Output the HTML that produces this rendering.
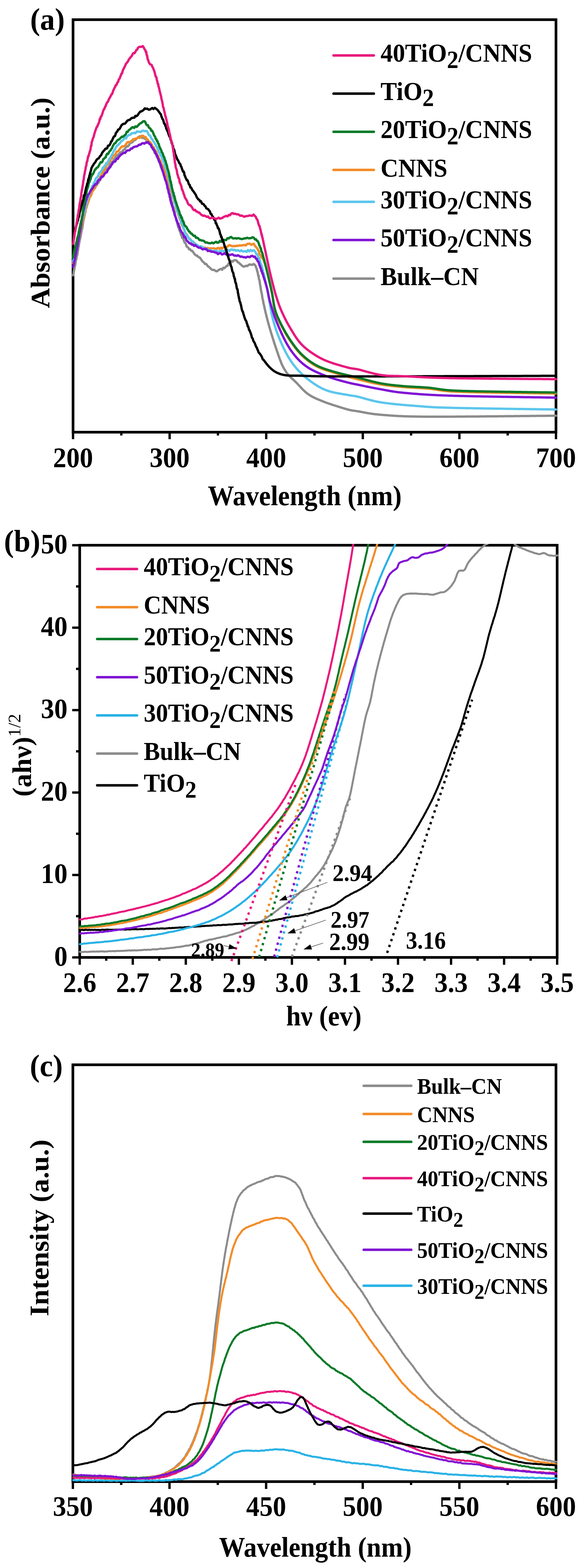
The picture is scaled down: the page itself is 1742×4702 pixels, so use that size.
<!DOCTYPE html>
<html><head><meta charset="utf-8"><title>Figure</title>
<style>html,body{margin:0;padding:0;background:#fff;}svg{display:block;}</style>
</head><body>
<svg width="1742" height="4702" viewBox="0 0 1742 4702" font-family="'Liberation Serif', 'Times New Roman', serif">
<rect width="1742" height="4702" fill="#fff"/>
<defs><clipPath id="ca"><rect x="215" y="55" width="1456" height="1245"/></clipPath><clipPath id="cb"><rect x="235" y="1631" width="1439.5" height="1244"/></clipPath><clipPath id="cb2"><rect x="239" y="1634" width="1431.5" height="1256"/></clipPath><clipPath id="cc"><rect x="214.5" y="3189" width="1456.5" height="1258"/></clipPath></defs>
<rect x="219" y="59" width="1448" height="1237" fill="none" stroke="#000" stroke-width="8"/>
<polyline points="219.0,825.8 219.8,822.4 220.6,820.3 221.3,814.0 222.1,810.3 222.9,806.8 223.7,800.8 224.5,798.5 225.3,795.2 226.0,792.1 226.8,784.5 227.6,781.7 228.4,776.7 229.1,776.5 229.9,771.9 230.7,764.6 231.4,765.5 232.2,761.5 232.9,756.0 233.7,751.8 234.4,745.5 235.1,740.8 235.9,739.5 236.6,733.2 237.3,729.9 238.0,726.2 238.7,721.2 239.5,719.5 240.2,715.4 240.9,713.6 241.6,707.9 242.4,704.6 243.1,699.9 243.9,696.8 244.6,691.8 245.4,687.0 246.1,686.8 246.8,682.8 247.6,678.1 248.3,673.4 249.0,667.4 249.8,663.1 250.5,659.4 251.3,654.3 252.0,654.0 252.8,648.2 253.6,646.6 254.4,640.3 255.2,639.3 256.1,634.8 257.0,626.5 258.0,623.7 259.0,623.5 260.1,617.3 261.2,616.1 262.4,609.3 263.7,603.8 265.0,602.9 266.4,599.9 267.9,593.5 269.4,588.9 271.0,586.5 272.7,586.1 274.5,581.5 276.4,574.6 278.4,571.8 280.5,567.6 282.7,564.0 284.8,564.5 287.0,557.9 289.2,556.5 291.4,552.6 293.6,547.9 295.8,547.3 298.0,540.9 300.3,540.2 302.5,534.1 304.7,532.4 307.0,528.0 309.2,524.9 311.4,525.3 313.6,521.0 315.8,515.1 318.0,514.7 320.2,507.9 322.5,505.5 324.7,504.6 327.0,500.1 329.3,494.0 331.6,495.4 333.9,488.1 336.3,485.1 338.7,484.6 341.2,479.1 343.7,475.8 346.2,471.5 348.8,468.6 351.5,468.1 354.2,463.4 357.0,462.4 359.9,458.5 362.8,456.2 365.8,456.1 368.7,450.9 371.7,448.6 374.6,447.4 377.5,441.0 380.4,438.1 383.3,439.2 386.2,436.0 389.1,430.3 392.0,427.2 395.0,427.4 397.9,425.7 401.0,419.2 404.1,420.6 407.3,418.0 410.8,414.5 414.4,411.9 418.3,409.1 422.3,408.5 426.2,413.8 430.0,411.4 433.4,415.9 436.6,416.0 439.6,421.6 442.4,423.4 445.0,424.8 447.5,427.3 449.8,433.4 452.1,433.4 454.2,437.6 456.3,442.7 458.2,447.8 460.1,450.1 461.9,451.9 463.7,458.8 465.4,458.7 467.2,461.4 468.8,466.3 470.5,470.9 472.2,472.5 473.9,476.8 475.5,481.4 477.1,486.2 478.7,487.6 480.3,492.5 481.8,498.9 483.3,503.1 484.7,505.2 486.1,509.1 487.5,512.3 488.8,513.8 490.2,517.0 491.5,520.7 492.7,529.2 494.0,531.9 495.2,537.1 496.4,536.0 497.6,543.0 498.8,546.1 500.0,551.2 501.1,552.9 502.2,560.3 503.3,559.3 504.4,565.7 505.5,570.5 506.5,575.2 507.6,578.3 508.6,582.0 509.6,586.3 510.7,590.8 511.7,591.8 512.7,597.4 513.7,602.4 514.8,606.1 515.8,607.6 516.9,613.4 517.9,617.7 518.9,620.0 520.0,624.2 521.0,626.8 522.0,631.7 523.1,635.7 524.1,636.9 525.1,643.6 526.1,649.4 527.1,652.7 528.1,655.8 529.0,657.9 530.0,663.6 530.9,666.7 531.8,669.9 532.8,675.8 533.9,675.8 535.0,683.1 536.3,683.1 537.6,689.9 539.0,693.0 540.4,695.5 541.9,701.6 543.4,704.3 544.9,708.6 546.5,713.9 548.1,714.1 549.8,716.5 551.5,721.6 553.3,727.2 555.2,728.2 557.2,731.5 559.4,738.7 561.8,740.7 564.4,742.6 567.2,747.8 570.2,747.5 573.2,751.9 576.3,752.1 579.3,756.0 582.2,760.6 585.2,763.9 588.2,766.4 591.1,766.5 594.1,770.3 597.1,771.6 600.0,773.3 603.0,777.9 605.9,782.4 608.8,785.3 611.6,787.4 614.4,791.5 617.1,791.0 619.8,793.4 622.6,797.8 625.4,799.7 628.4,802.0 631.6,805.5 635.1,808.6 638.8,809.5 642.7,809.6 646.6,812.8 650.6,813.6 654.6,810.5 658.6,807.7 662.4,806.3 666.1,809.1 669.6,802.8 672.9,804.1 676.2,801.0 679.4,797.2 682.4,797.2 685.4,790.5 688.4,788.4 691.3,787.3 694.4,782.5 697.9,784.6 701.7,780.4 705.6,780.1 709.4,781.1 712.8,786.2 716.0,787.6 719.2,791.0 722.4,793.5 725.7,796.6 729.2,799.3 733.0,799.2 737.0,797.0 741.0,797.8 744.8,795.1 748.6,792.8 752.3,793.9 756.2,794.2 760.2,791.6 763.7,793.9 766.3,797.4 768.0,802.8 769.4,805.7 770.6,810.0 771.6,814.6 772.6,816.6 773.5,822.6 774.4,827.1 775.3,826.7 776.1,835.1 776.9,837.9 777.7,838.8 778.4,844.4 779.2,849.2 779.8,854.7 780.5,855.8 781.2,860.8 781.9,866.4 782.5,869.9 783.2,874.6 783.9,876.0 784.7,881.0 785.4,882.6 786.1,889.2 786.9,893.7 787.6,896.7 788.4,901.0 789.2,902.3 789.9,909.8 790.7,911.7 791.6,915.6 792.4,919.5 793.2,923.5 794.1,927.4 795.0,931.3 795.9,935.2 796.8,939.1 797.8,943.0 798.8,946.9 799.7,950.8 800.7,954.7 801.7,958.5 802.7,962.4 803.8,966.3 804.8,970.2 805.9,974.0 807.0,977.9 808.1,981.8 809.2,985.6 810.3,989.5 811.5,993.3 812.6,997.1 813.8,1001.0 815.0,1004.8 816.2,1008.6 817.3,1012.5 818.5,1016.3 819.8,1020.1 821.0,1023.9 822.2,1027.8 823.4,1031.6 824.7,1035.4 825.9,1039.2 827.2,1043.0 828.5,1046.8 829.8,1050.6 831.1,1054.4 832.4,1058.2 833.7,1062.0 835.0,1065.8 836.3,1069.6 837.7,1073.3 839.0,1077.1 840.4,1080.9 841.8,1084.6 843.3,1088.4 844.9,1092.1 846.5,1095.7 848.3,1099.3 850.2,1102.8 852.2,1106.3 854.3,1109.7 856.4,1113.1 858.7,1116.4 861.0,1119.7 863.5,1122.8 866.1,1125.9 868.8,1128.9 871.7,1131.7 874.6,1134.4 877.6,1137.0 880.6,1139.7 883.5,1142.5 886.4,1145.3 889.2,1148.1 892.0,1151.0 894.7,1154.0 897.4,1156.9 900.1,1159.9 902.9,1162.8 905.7,1165.7 908.5,1168.6 911.3,1171.4 914.3,1174.1 917.3,1176.8 920.4,1179.3 923.6,1181.7 926.9,1184.0 930.3,1186.1 933.7,1188.2 937.3,1190.1 940.8,1191.9 944.5,1193.6 948.1,1195.3 951.8,1196.9 955.5,1198.4 959.2,1200.0 962.9,1201.5 966.6,1203.0 970.3,1204.5 974.1,1206.0 977.8,1207.3 981.6,1208.7 985.4,1210.0 989.2,1211.3 993.0,1212.6 996.8,1213.8 1000.6,1215.0 1004.4,1216.3 1008.3,1217.5 1012.1,1218.7 1015.9,1219.9 1019.7,1221.2 1023.6,1222.3 1027.4,1223.5 1031.2,1224.7 1035.1,1225.8 1038.9,1226.9 1042.8,1228.0 1046.7,1229.0 1050.6,1229.9 1054.5,1230.7 1058.5,1231.3 1062.5,1231.9 1066.4,1232.4 1070.4,1233.0 1074.4,1233.6 1078.3,1234.3 1082.3,1235.0 1086.2,1235.8 1090.1,1236.5 1094.1,1237.3 1098.0,1238.0 1102.0,1238.7 1105.9,1239.4 1109.9,1240.0 1113.9,1240.6 1117.8,1241.2 1121.8,1241.7 1125.8,1242.2 1129.8,1242.6 1133.8,1243.0 1137.8,1243.4 1141.8,1243.7 1145.8,1244.1 1149.7,1244.4 1153.7,1244.7 1157.7,1245.0 1161.7,1245.3 1165.7,1245.6 1169.7,1245.9 1173.7,1246.2 1177.7,1246.5 1181.7,1246.8 1185.7,1247.0 1189.8,1247.2 1193.8,1247.5 1197.8,1247.7 1201.8,1247.8 1205.8,1248.0 1209.8,1248.2 1213.8,1248.3 1217.8,1248.4 1221.8,1248.6 1225.8,1248.7 1229.8,1248.8 1233.8,1248.9 1237.9,1248.9 1241.9,1249.0 1245.9,1249.1 1249.9,1249.2 1253.9,1249.2 1257.9,1249.3 1261.9,1249.3 1265.9,1249.4 1269.9,1249.4 1273.9,1249.4 1278.0,1249.5 1282.0,1249.5 1286.0,1249.5 1290.0,1249.5 1294.0,1249.5 1298.0,1249.5 1302.0,1249.5 1306.0,1249.5 1310.0,1249.5 1314.1,1249.5 1318.1,1249.5 1322.1,1249.5 1326.1,1249.5 1330.1,1249.5 1334.1,1249.5 1338.1,1249.5 1342.1,1249.5 1346.1,1249.5 1350.2,1249.4 1354.2,1249.4 1358.2,1249.4 1362.2,1249.4 1366.2,1249.3 1370.2,1249.3 1374.2,1249.3 1378.2,1249.3 1382.2,1249.3 1386.3,1249.2 1390.3,1249.2 1394.3,1249.2 1398.3,1249.1 1402.3,1249.1 1406.3,1249.1 1410.3,1249.1 1414.3,1249.0 1418.3,1249.0 1422.3,1249.0 1426.4,1248.9 1430.4,1248.9 1434.4,1248.9 1438.4,1248.8 1442.4,1248.8 1446.4,1248.8 1450.4,1248.7 1454.4,1248.7 1458.4,1248.6 1462.5,1248.6 1466.5,1248.6 1470.5,1248.5 1474.5,1248.5 1478.5,1248.5 1482.5,1248.4 1486.5,1248.4 1490.5,1248.4 1494.5,1248.3 1498.6,1248.3 1502.6,1248.2 1506.6,1248.2 1510.6,1248.2 1514.6,1248.1 1518.6,1248.1 1522.6,1248.0 1526.6,1248.0 1530.6,1248.0 1534.6,1247.9 1538.7,1247.9 1542.7,1247.8 1546.7,1247.8 1550.7,1247.8 1554.7,1247.7 1558.7,1247.7 1562.7,1247.6 1566.7,1247.6 1570.7,1247.6 1574.8,1247.5 1578.8,1247.5 1582.8,1247.4 1586.8,1247.4 1590.8,1247.3 1594.8,1247.3 1598.8,1247.3 1602.8,1247.2 1606.8,1247.2 1610.9,1247.1 1614.9,1247.1 1618.9,1247.1 1622.9,1247.0 1626.9,1247.0 1630.9,1246.9 1634.9,1246.9 1638.9,1246.9 1642.9,1246.8 1646.9,1246.8 1651.0,1246.7 1655.0,1246.7 1659.0,1246.7 1663.0,1246.6 1667.0,1246.6" fill="none" stroke="#8C8C8C" stroke-width="7" stroke-linejoin="round" stroke-linecap="round" clip-path="url(#ca)" />
<polyline points="219.0,789.9 219.9,786.9 220.9,783.1 221.8,776.4 222.7,771.9 223.7,769.8 224.6,765.4 225.5,764.3 226.5,759.8 227.4,755.4 228.3,751.3 229.2,747.9 230.1,741.3 231.0,738.9 231.9,733.6 232.8,733.5 233.6,725.2 234.5,725.2 235.3,717.5 236.1,716.7 237.0,711.0 237.8,707.4 238.6,705.7 239.4,697.5 240.3,693.8 241.1,694.4 242.0,688.3 242.8,682.2 243.7,683.0 244.6,678.9 245.6,670.6 246.5,668.3 247.4,662.9 248.3,659.9 249.2,657.7 250.2,651.4 251.1,650.2 252.0,643.0 253.0,639.7 254.0,639.2 255.0,633.1 256.0,629.4 257.1,626.4 258.2,621.9 259.4,617.6 260.6,612.0 261.9,611.8 263.2,609.2 264.6,605.5 266.1,600.2 267.7,594.9 269.3,591.2 270.9,589.3 272.6,585.6 274.4,579.0 276.1,576.1 277.9,573.2 279.7,570.4 281.6,568.3 283.4,563.1 285.2,557.1 287.1,557.7 289.0,552.1 290.8,549.0 292.8,544.0 294.7,541.5 296.7,537.8 298.6,536.3 300.6,529.4 302.6,528.2 304.6,522.8 306.6,522.0 308.6,515.1 310.5,512.8 312.5,509.7 314.4,507.7 316.3,501.1 318.2,499.7 320.2,494.9 322.1,491.8 324.2,489.3 326.2,488.4 328.4,482.5 330.7,481.7 333.0,474.4 335.5,475.1 338.1,469.2 340.8,465.2 343.5,465.2 346.2,463.1 349.0,455.5 351.8,454.0 354.6,453.7 357.4,448.7 360.3,445.3 363.2,441.4 366.1,438.8 369.1,439.2 372.2,438.5 375.4,436.1 378.6,431.1 381.9,426.4 385.3,425.7 388.7,426.1 392.2,424.3 395.7,421.5 399.4,417.6 403.0,417.5 406.7,415.7 410.4,415.0 414.1,411.5 417.9,413.6 421.6,411.9 425.5,407.0 429.4,407.5 433.3,411.6 436.6,410.7 439.5,417.0 442.1,417.8 444.7,421.8 447.2,425.0 449.7,425.6 452.1,429.1 454.5,432.2 456.8,437.7 459.0,441.2 461.1,441.6 463.1,449.0 465.1,450.1 467.1,452.6 469.0,457.2 470.8,463.6 472.6,465.0 474.4,468.9 476.2,474.0 477.9,477.9 479.6,480.5 481.2,482.3 482.8,486.9 484.4,492.2 486.0,495.3 487.6,497.9 489.1,500.4 490.6,504.3 492.1,509.9 493.5,512.7 495.0,513.6 496.4,521.0 497.7,525.8 499.1,529.0 500.4,533.3 501.7,537.2 502.9,539.0 504.2,544.2 505.4,545.9 506.6,548.2 507.8,553.4 508.9,557.0 510.1,564.1 511.2,566.7 512.4,569.7 513.5,574.0 514.7,575.3 515.8,581.2 516.9,586.0 518.1,588.2 519.3,591.3 520.4,595.9 521.6,599.4 522.7,605.1 523.9,606.1 525.0,609.7 526.2,614.7 527.3,620.5 528.4,624.7 529.5,628.0 530.7,633.3 531.8,634.2 533.0,636.3 534.2,642.5 535.4,646.1 536.7,648.5 537.9,654.9 539.3,657.0 540.6,660.2 542.0,664.4 543.3,671.4 544.7,670.3 546.2,675.9 547.7,679.2 549.2,682.5 550.8,687.4 552.5,689.9 554.3,697.1 556.2,698.5 558.2,702.9 560.4,703.5 562.7,708.4 565.1,712.3 567.6,716.7 570.3,716.6 573.0,720.7 575.9,725.5 578.8,728.1 581.9,727.5 585.1,731.6 588.4,735.0 591.9,735.1 595.4,738.4 599.1,739.9 602.9,742.8 606.8,741.7 610.7,743.3 614.6,742.4 618.6,745.1 622.5,743.6 626.5,745.2 630.5,745.0 634.5,745.1 638.5,744.5 642.5,745.1 646.5,746.7 650.5,744.9 654.5,743.4 658.4,746.6 662.3,742.8 666.1,745.0 669.9,741.9 673.7,739.5 677.5,740.8 681.4,740.0 685.3,736.3 689.3,734.9 693.3,737.4 697.3,738.5 701.4,737.3 705.4,738.4 709.4,736.6 713.4,737.7 717.4,735.8 721.4,736.3 725.4,735.8 729.4,735.2 733.3,734.6 737.2,735.9 741.1,731.7 745.1,731.1 749.0,730.7 753.0,734.2 757.0,732.1 760.9,730.8 764.2,737.1 767.0,740.1 769.4,743.1 771.3,744.2 773.1,749.7 774.8,751.2 776.4,754.0 778.0,761.4 779.7,764.9 781.6,765.2 783.6,772.1 785.7,771.1 787.9,776.0 789.8,777.9 791.6,784.1 793.1,787.8 794.5,791.5 795.7,795.4 796.8,799.2 797.8,803.1 798.8,807.0 799.8,810.9 800.7,814.8 801.6,818.7 802.5,822.6 803.4,826.5 804.3,830.4 805.2,834.3 806.2,838.2 807.1,842.1 808.0,846.0 808.9,849.9 809.8,853.9 810.6,857.8 811.5,861.7 812.4,865.6 813.2,869.5 814.0,873.5 814.8,877.4 815.6,881.3 816.4,885.3 817.1,889.2 817.7,893.2 818.3,897.1 818.9,901.1 819.5,905.1 820.1,909.0 820.7,913.0 821.4,917.0 822.1,920.9 823.0,924.8 823.9,928.7 824.9,932.6 826.1,936.4 827.3,940.2 828.7,944.0 830.1,947.8 831.7,951.5 833.2,955.2 834.9,958.8 836.6,962.5 838.3,966.1 840.1,969.7 841.9,973.2 843.7,976.8 845.6,980.4 847.5,983.9 849.4,987.4 851.3,991.0 853.3,994.5 855.2,998.0 857.2,1001.4 859.3,1004.9 861.4,1008.3 863.5,1011.7 865.6,1015.1 867.8,1018.5 870.0,1021.8 872.3,1025.1 874.5,1028.5 876.8,1031.7 879.2,1035.0 881.6,1038.2 884.0,1041.4 886.4,1044.6 888.9,1047.8 891.4,1050.9 894.0,1054.0 896.6,1057.0 899.3,1060.0 902.1,1062.9 904.9,1065.7 907.8,1068.4 910.8,1071.1 913.8,1073.8 916.9,1076.3 920.0,1078.9 923.2,1081.4 926.3,1083.8 929.6,1086.2 932.9,1088.5 936.2,1090.7 939.6,1092.9 943.0,1095.0 946.5,1097.0 950.0,1098.9 953.6,1100.7 957.2,1102.4 960.9,1104.0 964.6,1105.5 968.4,1106.9 972.1,1108.3 975.9,1109.6 979.7,1110.8 983.6,1112.0 987.4,1113.2 991.2,1114.4 995.1,1115.6 998.9,1116.7 1002.8,1117.9 1006.6,1119.1 1010.4,1120.2 1014.3,1121.4 1018.1,1122.5 1022.0,1123.7 1025.8,1124.8 1029.7,1125.9 1033.5,1127.0 1037.4,1128.1 1041.2,1129.2 1045.1,1130.2 1049.0,1131.3 1052.9,1132.3 1056.7,1133.3 1060.6,1134.3 1064.5,1135.3 1068.4,1136.3 1072.3,1137.3 1076.2,1138.3 1080.1,1139.3 1084.0,1140.2 1087.9,1141.2 1091.7,1142.1 1095.6,1143.1 1099.5,1144.0 1103.5,1144.9 1107.4,1145.8 1111.3,1146.7 1115.2,1147.6 1119.1,1148.5 1123.0,1149.3 1127.0,1150.1 1130.9,1150.9 1134.8,1151.6 1138.8,1152.3 1142.7,1153.0 1146.7,1153.6 1150.7,1154.3 1154.6,1154.8 1158.6,1155.4 1162.6,1155.9 1166.6,1156.4 1170.5,1156.9 1174.5,1157.3 1178.5,1157.7 1182.5,1158.1 1186.5,1158.5 1190.5,1158.9 1194.5,1159.3 1198.5,1159.7 1202.5,1160.0 1206.5,1160.4 1210.5,1160.7 1214.5,1161.0 1218.5,1161.4 1222.5,1161.7 1226.5,1161.9 1230.5,1162.2 1234.5,1162.4 1238.5,1162.6 1242.5,1162.9 1246.5,1163.1 1250.5,1163.3 1254.5,1163.5 1258.5,1163.7 1262.5,1163.9 1266.5,1164.2 1270.5,1164.4 1274.5,1164.7 1278.5,1165.0 1282.5,1165.3 1286.5,1165.7 1290.5,1166.1 1294.5,1166.6 1298.5,1167.1 1302.4,1167.7 1306.4,1168.3 1310.4,1168.9 1314.3,1169.5 1318.3,1170.1 1322.3,1170.7 1326.2,1171.2 1330.2,1171.7 1334.2,1172.2 1338.2,1172.6 1342.2,1173.0 1346.2,1173.3 1350.2,1173.6 1354.2,1173.9 1358.2,1174.1 1362.2,1174.3 1366.2,1174.5 1370.2,1174.7 1374.2,1174.8 1378.2,1175.0 1382.2,1175.1 1386.3,1175.3 1390.3,1175.4 1394.3,1175.5 1398.3,1175.6 1402.3,1175.7 1406.3,1175.8 1410.3,1175.9 1414.3,1176.0 1418.3,1176.1 1422.3,1176.2 1426.4,1176.3 1430.4,1176.4 1434.4,1176.4 1438.4,1176.5 1442.4,1176.6 1446.4,1176.7 1450.4,1176.7 1454.4,1176.8 1458.4,1176.9 1462.4,1176.9 1466.5,1177.0 1470.5,1177.1 1474.5,1177.2 1478.5,1177.2 1482.5,1177.3 1486.5,1177.4 1490.5,1177.4 1494.5,1177.5 1498.5,1177.6 1502.6,1177.7 1506.6,1177.7 1510.6,1177.8 1514.6,1177.9 1518.6,1177.9 1522.6,1178.0 1526.6,1178.1 1530.6,1178.1 1534.6,1178.2 1538.7,1178.3 1542.7,1178.3 1546.7,1178.4 1550.7,1178.5 1554.7,1178.5 1558.7,1178.6 1562.7,1178.6 1566.7,1178.7 1570.7,1178.7 1574.7,1178.8 1578.8,1178.8 1582.8,1178.9 1586.8,1179.0 1590.8,1179.0 1594.8,1179.1 1598.8,1179.1 1602.8,1179.2 1606.8,1179.2 1610.8,1179.3 1614.9,1179.3 1618.9,1179.4 1622.9,1179.4 1626.9,1179.5 1630.9,1179.5 1634.9,1179.6 1638.9,1179.6 1642.9,1179.7 1646.9,1179.7 1651.0,1179.8 1655.0,1179.8 1659.0,1179.9 1663.0,1179.9 1667.0,1180.0" fill="none" stroke="#F28C28" stroke-width="7" stroke-linejoin="round" stroke-linecap="round" clip-path="url(#ca)" />
<polyline points="219.0,783.7 219.8,782.0 220.7,778.1 221.5,775.1 222.4,767.7 223.2,764.0 224.1,759.7 224.9,756.1 225.8,754.9 226.6,747.8 227.5,746.0 228.3,740.4 229.2,736.9 230.0,733.7 230.9,731.9 231.7,726.8 232.6,719.8 233.4,717.2 234.2,712.6 235.1,712.5 235.9,708.2 236.7,704.3 237.5,700.5 238.4,696.1 239.2,693.3 240.0,688.5 240.9,681.8 241.8,681.0 242.6,675.2 243.5,672.7 244.4,667.8 245.4,663.2 246.3,658.9 247.2,655.4 248.2,650.9 249.1,646.0 250.1,645.7 251.1,641.7 252.0,638.8 253.0,633.4 254.0,628.8 255.0,625.9 256.1,618.9 257.1,617.8 258.2,612.7 259.3,607.5 260.4,603.8 261.6,601.6 262.8,596.4 264.0,593.6 265.2,590.6 266.5,585.7 267.8,580.5 269.1,578.6 270.5,573.5 271.9,569.7 273.4,565.8 274.9,563.0 276.4,557.7 278.0,557.1 279.7,555.0 281.4,548.4 283.1,546.5 285.0,544.1 286.9,535.9 288.9,533.0 290.9,532.9 292.9,529.7 295.0,525.2 297.2,519.3 299.3,517.3 301.5,516.3 303.7,513.0 306.0,509.3 308.3,502.9 310.7,503.0 313.1,497.4 315.6,496.0 318.1,489.8 320.5,491.0 322.8,485.8 325.0,483.1 327.2,477.0 329.2,475.7 331.2,472.0 333.2,468.6 335.2,463.9 337.1,462.3 339.1,456.8 341.0,453.1 343.0,448.9 345.0,448.1 347.2,441.8 349.5,439.1 351.9,435.1 354.5,435.0 357.2,431.6 360.1,428.7 363.0,423.4 366.0,422.8 369.1,419.7 372.1,415.8 375.2,412.7 378.2,415.3 381.3,408.2 384.5,406.7 387.8,404.3 391.2,403.9 394.8,399.4 398.5,399.9 402.3,398.1 406.2,399.5 410.1,394.2 414.0,394.9 417.8,394.7 421.7,396.1 425.6,392.8 429.6,392.0 433.6,393.3 437.3,392.7 440.6,393.5 443.4,398.8 445.9,404.1 448.2,406.5 450.5,407.3 452.7,412.9 454.8,417.2 456.9,417.5 458.9,422.7 460.9,424.9 462.9,427.9 464.8,431.6 466.8,434.7 468.7,439.0 470.6,440.9 472.4,446.3 474.3,448.2 476.1,455.3 477.9,458.0 479.7,458.5 481.5,466.1 483.2,466.7 484.8,471.9 486.5,475.9 488.1,478.5 489.6,481.9 491.1,486.4 492.6,488.6 494.0,496.1 495.3,496.0 496.6,503.5 497.9,504.1 499.1,508.4 500.3,512.7 501.4,514.7 502.5,519.0 503.6,524.1 504.6,528.4 505.6,534.5 506.6,539.0 507.6,538.0 508.5,544.4 509.5,546.2 510.4,553.6 511.4,555.0 512.3,561.9 513.3,564.0 514.2,565.7 515.2,568.9 516.2,574.1 517.2,581.2 518.2,581.4 519.2,586.9 520.3,590.2 521.4,594.0 522.5,600.2 523.6,601.0 524.7,607.5 525.8,611.0 526.9,616.3 528.1,618.0 529.2,623.9 530.4,625.2 531.6,629.8 532.8,633.8 534.0,638.8 535.3,642.9 536.5,642.6 537.8,646.6 539.1,652.4 540.4,657.7 541.7,660.0 542.9,662.6 544.2,669.8 545.5,670.2 546.8,672.9 548.2,676.5 549.6,680.1 551.0,687.5 552.6,687.9 554.2,694.8 555.9,699.2 557.8,703.4 559.8,705.9 562.0,707.3 564.3,711.6 566.7,715.9 569.3,718.3 572.0,719.0 574.8,724.3 577.8,723.6 580.9,727.2 584.1,733.3 587.3,732.9 590.7,734.0 594.2,738.7 597.7,738.8 601.3,738.2 605.0,739.9 608.8,742.5 612.6,744.2 616.4,748.5 620.2,746.1 624.1,750.3 628.0,751.3 631.9,749.9 635.8,753.7 639.8,753.1 643.8,752.3 647.7,751.5 651.7,752.9 655.7,755.5 659.7,753.7 663.8,752.0 667.8,752.9 671.8,753.2 675.8,751.3 679.7,752.7 683.7,749.3 687.7,752.8 691.6,748.9 695.6,748.0 699.6,750.3 703.6,748.9 707.6,752.1 711.6,750.5 715.6,751.2 719.5,753.4 723.5,750.8 727.5,754.1 731.5,753.9 735.5,752.9 739.5,755.4 743.5,750.0 747.4,753.8 751.4,749.6 755.4,753.2 759.3,750.4 762.9,751.6 766.0,756.5 768.5,761.8 770.7,761.8 772.5,766.5 774.2,770.7 775.8,772.5 777.3,777.7 778.8,778.8 780.1,784.8 781.4,790.2 782.7,791.9 783.9,795.1 785.1,798.0 786.2,805.3 787.3,807.7 788.3,814.1 789.3,817.1 790.3,819.7 791.3,823.6 792.3,827.5 793.2,831.4 794.1,835.3 795.0,839.2 795.9,843.1 796.8,847.0 797.6,850.9 798.5,854.9 799.3,858.8 800.1,862.7 800.9,866.6 801.7,870.6 802.4,874.5 803.2,878.4 803.9,882.4 804.6,886.3 805.3,890.3 806.0,894.2 806.7,898.2 807.4,902.1 808.1,906.1 808.8,910.0 809.5,914.0 810.2,917.9 810.9,921.9 811.6,925.8 812.4,929.8 813.1,933.7 813.9,937.6 814.7,941.5 815.6,945.5 816.5,949.4 817.4,953.3 818.3,957.2 819.3,961.1 820.4,964.9 821.4,968.8 822.6,972.6 823.7,976.5 824.9,980.3 826.1,984.1 827.4,987.9 828.7,991.7 830.0,995.5 831.4,999.3 832.8,1003.0 834.3,1006.8 835.8,1010.5 837.3,1014.2 838.8,1017.9 840.4,1021.6 841.9,1025.3 843.6,1029.0 845.2,1032.6 846.8,1036.3 848.5,1039.9 850.3,1043.5 852.0,1047.1 853.8,1050.7 855.6,1054.3 857.5,1057.9 859.4,1061.4 861.3,1064.9 863.3,1068.4 865.3,1071.8 867.4,1075.3 869.5,1078.7 871.7,1082.0 874.0,1085.3 876.3,1088.6 878.6,1091.9 881.1,1095.1 883.5,1098.2 886.1,1101.3 888.7,1104.4 891.3,1107.4 894.0,1110.3 896.8,1113.3 899.6,1116.1 902.4,1119.0 905.3,1121.8 908.2,1124.5 911.2,1127.2 914.2,1129.8 917.2,1132.4 920.3,1135.0 923.5,1137.5 926.7,1139.9 929.9,1142.3 933.1,1144.7 936.4,1147.0 939.7,1149.3 943.0,1151.5 946.4,1153.7 949.8,1155.8 953.2,1157.9 956.6,1160.0 960.1,1162.0 963.7,1163.8 967.2,1165.6 970.9,1167.3 974.6,1168.9 978.3,1170.3 982.1,1171.7 985.9,1172.9 989.7,1174.1 993.6,1175.1 997.5,1176.1 1001.4,1176.9 1005.3,1177.8 1009.3,1178.6 1013.2,1179.3 1017.2,1180.0 1021.1,1180.8 1025.0,1181.4 1029.0,1182.1 1033.0,1182.8 1036.9,1183.4 1040.9,1184.1 1044.8,1184.8 1048.8,1185.4 1052.7,1186.1 1056.7,1186.6 1060.7,1187.2 1064.6,1187.8 1068.6,1188.6 1072.5,1189.5 1076.4,1190.4 1080.3,1191.4 1084.1,1192.5 1088.0,1193.6 1091.8,1194.7 1095.7,1195.8 1099.6,1196.8 1103.4,1197.9 1107.3,1199.0 1111.2,1200.0 1115.1,1201.0 1119.0,1201.9 1122.9,1202.8 1126.8,1203.7 1130.7,1204.5 1134.6,1205.3 1138.6,1206.0 1142.5,1206.6 1146.5,1207.3 1150.5,1207.9 1154.4,1208.4 1158.4,1208.9 1162.4,1209.4 1166.4,1209.9 1170.3,1210.4 1174.3,1210.8 1178.3,1211.3 1182.3,1211.7 1186.3,1212.1 1190.3,1212.5 1194.3,1212.8 1198.3,1213.2 1202.3,1213.6 1206.3,1213.9 1210.3,1214.3 1214.2,1214.6 1218.2,1214.9 1222.2,1215.3 1226.2,1215.6 1230.2,1215.9 1234.2,1216.2 1238.2,1216.5 1242.2,1216.8 1246.2,1217.2 1250.2,1217.5 1254.2,1217.8 1258.2,1218.1 1262.2,1218.4 1266.2,1218.7 1270.2,1219.1 1274.2,1219.4 1278.2,1219.7 1282.2,1220.0 1286.2,1220.3 1290.2,1220.5 1294.2,1220.8 1298.2,1221.0 1302.2,1221.2 1306.2,1221.4 1310.2,1221.6 1314.2,1221.7 1318.2,1221.9 1322.2,1222.0 1326.2,1222.1 1330.3,1222.3 1334.3,1222.4 1338.3,1222.5 1342.3,1222.6 1346.3,1222.7 1350.3,1222.8 1354.3,1223.0 1358.3,1223.1 1362.3,1223.2 1366.3,1223.2 1370.3,1223.3 1374.3,1223.4 1378.3,1223.5 1382.4,1223.6 1386.4,1223.7 1390.4,1223.7 1394.4,1223.8 1398.4,1223.9 1402.4,1224.0 1406.4,1224.1 1410.4,1224.1 1414.4,1224.2 1418.4,1224.3 1422.4,1224.3 1426.5,1224.4 1430.5,1224.5 1434.5,1224.5 1438.5,1224.6 1442.5,1224.7 1446.5,1224.7 1450.5,1224.8 1454.5,1224.9 1458.5,1224.9 1462.5,1225.0 1466.5,1225.1 1470.6,1225.1 1474.6,1225.2 1478.6,1225.3 1482.6,1225.3 1486.6,1225.4 1490.6,1225.4 1494.6,1225.5 1498.6,1225.6 1502.6,1225.6 1506.6,1225.7 1510.6,1225.7 1514.7,1225.8 1518.7,1225.9 1522.7,1225.9 1526.7,1226.0 1530.7,1226.0 1534.7,1226.1 1538.7,1226.2 1542.7,1226.2 1546.7,1226.3 1550.7,1226.3 1554.7,1226.4 1558.8,1226.4 1562.8,1226.5 1566.8,1226.6 1570.8,1226.6 1574.8,1226.7 1578.8,1226.7 1582.8,1226.8 1586.8,1226.8 1590.8,1226.9 1594.8,1227.0 1598.8,1227.0 1602.9,1227.1 1606.9,1227.1 1610.9,1227.2 1614.9,1227.2 1618.9,1227.3 1622.9,1227.4 1626.9,1227.4 1630.9,1227.5 1634.9,1227.5 1638.9,1227.6 1642.9,1227.6 1647.0,1227.7 1651.0,1227.8 1655.0,1227.8 1659.0,1227.9 1663.0,1227.9 1667.0,1228.0" fill="none" stroke="#5CC6EC" stroke-width="7" stroke-linejoin="round" stroke-linecap="round" clip-path="url(#ca)" />
<polyline points="219.0,800.0 219.8,799.1 220.7,795.0 221.5,792.5 222.4,785.1 223.2,781.1 224.0,779.7 224.9,775.4 225.7,769.6 226.5,767.7 227.3,762.3 228.1,760.3 228.9,753.0 229.7,749.6 230.4,749.2 231.2,742.4 231.9,737.9 232.6,736.8 233.3,732.0 234.0,725.5 234.7,723.7 235.4,720.3 236.1,713.8 236.8,712.3 237.4,705.7 238.1,702.8 238.8,697.5 239.4,694.2 240.1,694.3 240.8,687.4 241.5,686.5 242.1,679.6 242.8,676.6 243.5,674.0 244.1,669.1 244.7,662.1 245.4,660.6 246.0,656.9 246.7,650.6 247.4,646.2 248.0,646.3 248.8,640.5 249.5,634.9 250.3,632.3 251.1,627.2 252.0,626.3 252.9,620.8 253.8,614.9 254.8,614.7 255.8,607.0 256.9,604.2 258.0,599.0 259.3,598.9 260.6,591.9 262.1,590.3 263.7,584.4 265.5,582.8 267.4,580.4 269.5,576.2 271.8,572.4 274.0,569.3 276.3,565.7 278.7,563.3 281.0,557.5 283.5,556.3 285.9,551.9 288.5,552.0 291.0,549.3 293.6,541.7 296.3,539.1 298.9,539.0 301.6,535.4 304.4,529.6 307.1,530.2 309.8,528.5 312.5,522.9 315.3,519.5 317.9,517.7 320.6,516.6 323.1,510.0 325.5,507.0 327.8,503.1 330.0,502.0 332.3,497.9 334.6,493.5 337.0,491.0 339.6,486.1 342.2,484.5 344.8,485.0 347.6,480.0 350.4,475.6 353.4,476.3 356.3,470.6 359.4,467.5 362.5,463.8 365.7,461.9 368.9,459.8 372.1,457.6 375.4,458.7 378.8,453.3 382.2,451.1 385.6,450.8 389.0,450.4 392.5,445.2 396.0,445.6 399.5,441.6 403.0,440.7 406.6,439.1 410.2,439.1 413.9,436.6 417.6,433.8 421.3,434.1 425.1,430.3 428.9,429.2 432.7,430.9 436.5,427.5 440.5,427.9 444.4,426.0 447.7,431.3 450.3,432.8 452.4,434.3 454.5,441.3 456.5,442.4 458.6,445.1 460.6,448.2 462.7,450.8 464.7,454.7 466.7,460.8 468.5,461.5 470.3,465.7 472.0,470.3 473.6,474.5 475.2,477.3 476.7,483.1 478.1,484.1 479.5,488.5 480.9,492.5 482.2,494.8 483.5,499.0 484.8,502.4 486.1,509.2 487.4,510.0 488.6,516.6 489.8,518.1 491.0,524.1 492.2,528.0 493.4,530.2 494.6,537.1 495.8,539.5 496.9,542.8 498.0,544.0 499.1,549.7 500.1,552.8 501.2,557.8 502.2,564.1 503.2,567.6 504.2,567.3 505.1,574.4 506.1,579.6 507.0,581.5 508.0,583.0 508.9,590.9 509.9,592.6 510.8,599.3 511.8,602.7 512.7,606.3 513.7,610.7 514.7,610.1 515.8,617.8 516.8,619.1 517.9,622.1 519.0,627.2 520.2,632.1 521.3,632.9 522.5,639.1 523.7,644.6 524.9,646.9 526.2,650.9 527.5,653.5 528.9,660.8 530.3,660.8 531.8,666.7 533.3,670.3 534.8,670.6 536.4,679.5 538.0,679.2 539.7,686.8 541.3,690.1 543.0,693.6 544.8,696.9 546.6,698.1 548.5,701.9 550.4,704.9 552.4,711.4 554.6,710.1 556.8,714.0 559.3,721.4 562.0,723.6 564.9,725.9 568.0,729.7 571.3,729.7 574.7,733.4 578.2,733.3 581.8,737.5 585.4,734.9 589.1,738.4 592.8,740.6 596.6,743.1 600.3,742.6 604.1,745.2 607.9,748.0 611.7,746.5 615.5,746.6 619.3,747.1 623.0,752.7 626.8,752.1 630.6,753.0 634.3,755.1 638.1,754.3 642.0,756.0 645.8,757.2 649.7,758.2 653.6,762.1 657.6,759.4 661.6,759.0 665.6,763.2 669.6,761.8 673.6,759.2 677.6,762.8 681.6,763.2 685.6,763.4 689.6,764.6 693.6,763.3 697.5,762.8 701.5,766.2 705.4,766.2 709.4,767.4 713.3,765.5 717.2,767.4 721.1,770.0 725.0,769.3 728.9,771.2 732.9,770.9 736.9,772.5 740.9,770.0 744.9,770.2 748.8,771.3 752.8,768.0 756.8,767.2 760.7,770.3 764.4,769.4 767.4,775.7 769.9,775.8 772.0,782.5 773.8,784.2 775.4,785.9 776.9,791.5 778.3,796.1 779.7,798.8 781.1,803.4 782.4,805.8 783.7,812.6 785.0,812.3 786.2,819.4 787.5,819.2 788.8,825.5 790.0,829.2 791.3,833.1 792.5,836.9 793.7,840.7 794.9,844.5 796.1,848.3 797.2,852.2 798.3,856.0 799.4,859.9 800.5,863.8 801.5,867.6 802.4,871.5 803.2,875.5 804.0,879.4 804.7,883.3 805.4,887.3 806.2,891.2 807.0,895.1 807.9,899.0 808.9,902.9 810.0,906.8 811.1,910.6 812.3,914.5 813.4,918.3 814.6,922.1 815.8,926.0 817.0,929.8 818.2,933.6 819.5,937.4 820.8,941.2 822.1,945.0 823.4,948.8 824.7,952.6 826.1,956.3 827.5,960.1 828.9,963.8 830.4,967.5 831.9,971.3 833.4,975.0 835.0,978.7 836.5,982.4 838.1,986.0 839.7,989.7 841.4,993.4 843.0,997.0 844.7,1000.7 846.4,1004.3 848.1,1007.9 849.9,1011.5 851.6,1015.1 853.5,1018.7 855.3,1022.2 857.2,1025.8 859.1,1029.3 861.1,1032.8 863.1,1036.2 865.2,1039.7 867.3,1043.1 869.4,1046.5 871.7,1049.8 874.0,1053.1 876.3,1056.3 878.7,1059.5 881.2,1062.7 883.7,1065.8 886.2,1068.9 888.9,1071.9 891.5,1074.9 894.3,1077.8 897.1,1080.7 900.0,1083.5 902.9,1086.2 905.9,1088.9 909.0,1091.5 912.1,1094.0 915.3,1096.4 918.5,1098.7 921.8,1101.0 925.2,1103.2 928.6,1105.3 932.1,1107.3 935.6,1109.2 939.2,1111.0 942.8,1112.8 946.4,1114.5 950.0,1116.2 953.7,1117.8 957.4,1119.4 961.0,1121.0 964.7,1122.6 968.4,1124.1 972.2,1125.5 975.9,1127.0 979.7,1128.4 983.5,1129.7 987.2,1131.0 991.0,1132.3 994.8,1133.5 998.7,1134.8 1002.5,1136.0 1006.3,1137.1 1010.2,1138.3 1014.0,1139.4 1017.9,1140.5 1021.7,1141.6 1025.6,1142.7 1029.5,1143.7 1033.3,1144.7 1037.2,1145.7 1041.1,1146.7 1045.0,1147.7 1048.9,1148.6 1052.8,1149.5 1056.7,1150.4 1060.6,1151.2 1064.6,1151.9 1068.5,1152.7 1072.4,1153.5 1076.3,1154.3 1080.3,1155.1 1084.2,1155.9 1088.1,1156.7 1092.0,1157.6 1096.0,1158.4 1099.9,1159.2 1103.8,1160.0 1107.7,1160.8 1111.7,1161.6 1115.6,1162.4 1119.5,1163.2 1123.5,1163.9 1127.4,1164.7 1131.3,1165.4 1135.3,1166.2 1139.2,1166.9 1143.2,1167.6 1147.1,1168.3 1151.0,1169.1 1155.0,1169.8 1158.9,1170.5 1162.9,1171.3 1166.8,1172.0 1170.8,1172.7 1174.7,1173.3 1178.7,1174.0 1182.6,1174.6 1186.6,1175.1 1190.6,1175.7 1194.5,1176.2 1198.5,1176.6 1202.5,1177.1 1206.5,1177.5 1210.5,1177.9 1214.5,1178.2 1218.5,1178.6 1222.5,1179.0 1226.4,1179.3 1230.4,1179.7 1234.4,1180.0 1238.4,1180.4 1242.4,1180.7 1246.4,1181.0 1250.4,1181.3 1254.4,1181.7 1258.4,1181.9 1262.4,1182.2 1266.4,1182.5 1270.4,1182.8 1274.4,1183.0 1278.4,1183.3 1282.4,1183.5 1286.4,1183.8 1290.4,1184.0 1294.4,1184.2 1298.4,1184.4 1302.4,1184.6 1306.4,1184.8 1310.4,1185.0 1314.4,1185.2 1318.4,1185.3 1322.4,1185.5 1326.4,1185.7 1330.4,1185.8 1334.4,1186.0 1338.4,1186.1 1342.4,1186.2 1346.4,1186.4 1350.5,1186.5 1354.5,1186.6 1358.5,1186.8 1362.5,1186.9 1366.5,1187.0 1370.5,1187.1 1374.5,1187.2 1378.5,1187.3 1382.5,1187.4 1386.5,1187.5 1390.5,1187.6 1394.5,1187.7 1398.5,1187.8 1402.5,1187.9 1406.5,1188.0 1410.5,1188.1 1414.6,1188.2 1418.6,1188.2 1422.6,1188.3 1426.6,1188.4 1430.6,1188.5 1434.6,1188.6 1438.6,1188.6 1442.6,1188.7 1446.6,1188.8 1450.6,1188.9 1454.6,1188.9 1458.6,1189.0 1462.6,1189.1 1466.6,1189.2 1470.7,1189.2 1474.7,1189.3 1478.7,1189.4 1482.7,1189.4 1486.7,1189.5 1490.7,1189.6 1494.7,1189.7 1498.7,1189.7 1502.7,1189.8 1506.7,1189.9 1510.7,1189.9 1514.7,1190.0 1518.7,1190.1 1522.7,1190.1 1526.8,1190.2 1530.8,1190.2 1534.8,1190.3 1538.8,1190.4 1542.8,1190.4 1546.8,1190.5 1550.8,1190.6 1554.8,1190.6 1558.8,1190.7 1562.8,1190.8 1566.8,1190.8 1570.8,1190.9 1574.8,1190.9 1578.8,1191.0 1582.9,1191.1 1586.9,1191.1 1590.9,1191.2 1594.9,1191.3 1598.9,1191.3 1602.9,1191.4 1606.9,1191.4 1610.9,1191.5 1614.9,1191.6 1618.9,1191.6 1622.9,1191.7 1626.9,1191.7 1630.9,1191.8 1634.9,1191.9 1639.0,1191.9 1643.0,1192.0 1647.0,1192.1 1651.0,1192.1 1655.0,1192.2 1659.0,1192.3 1663.0,1192.3 1667.0,1192.4" fill="none" stroke="#8014D4" stroke-width="7" stroke-linejoin="round" stroke-linecap="round" clip-path="url(#ca)" />
<polyline points="219.0,772.4 219.9,763.6 220.9,763.4 221.8,756.5 222.7,756.9 223.7,748.0 224.6,748.6 225.5,743.6 226.5,740.6 227.4,737.5 228.3,729.6 229.2,726.2 230.1,724.3 231.0,718.1 231.9,714.1 232.8,710.0 233.7,709.4 234.6,705.6 235.5,701.2 236.3,694.3 237.2,694.1 238.1,688.0 239.0,682.6 239.8,679.9 240.7,675.8 241.5,670.1 242.3,668.7 243.1,663.7 243.9,660.8 244.7,658.8 245.4,653.4 246.1,648.2 246.8,646.6 247.5,643.3 248.2,636.8 248.8,635.2 249.5,626.4 250.1,623.1 250.7,619.3 251.3,619.3 252.0,614.0 252.6,610.2 253.3,604.0 254.0,601.2 254.7,599.2 255.5,591.2 256.3,587.4 257.2,583.1 258.0,581.4 259.0,579.4 259.9,574.0 260.9,569.3 262.0,566.0 263.1,560.4 264.2,560.6 265.3,553.7 266.5,549.2 267.7,545.8 269.0,544.6 270.3,538.2 271.7,537.5 273.2,530.8 274.8,527.7 276.5,522.2 278.3,522.9 280.3,518.9 282.5,513.8 284.7,508.6 287.0,507.3 289.4,503.4 291.8,502.7 294.3,500.0 296.8,495.9 299.4,490.5 302.0,486.2 304.6,487.5 307.1,484.7 309.6,477.4 312.1,476.0 314.5,472.7 316.9,472.1 319.3,464.1 321.7,460.9 324.1,461.8 326.5,457.1 328.8,453.3 331.2,451.7 333.4,447.4 335.7,444.6 337.9,439.0 340.1,434.8 342.4,431.0 344.7,429.5 347.1,427.9 349.6,423.4 352.4,420.3 355.3,419.0 358.4,416.9 361.7,413.9 364.9,410.1 368.1,410.4 371.3,407.8 374.2,405.6 377.1,402.8 379.9,395.3 382.6,395.8 385.4,391.2 388.3,388.7 391.5,386.8 394.8,382.7 398.4,381.4 402.1,383.8 405.9,379.0 409.6,380.5 413.1,377.5 416.4,373.3 419.4,370.6 422.3,369.3 425.4,367.3 429.1,363.9 432.9,363.3 435.9,366.6 438.5,373.2 441.0,375.6 443.6,375.5 446.2,382.3 448.7,384.1 451.2,386.0 453.5,392.2 455.7,391.6 457.7,394.8 459.7,399.6 461.6,405.2 463.5,407.7 465.3,411.0 467.1,416.8 468.9,417.7 470.6,423.4 472.3,422.9 474.0,430.6 475.7,431.0 477.3,437.3 478.9,441.9 480.5,444.6 482.0,447.9 483.6,451.5 485.1,456.2 486.6,458.0 488.1,461.0 489.6,466.4 491.0,469.9 492.5,471.6 493.9,477.5 495.3,480.9 496.6,483.1 498.0,489.7 499.2,493.9 500.4,495.5 501.5,502.1 502.5,506.6 503.4,508.8 504.3,511.4 505.2,514.6 506.1,517.8 507.0,522.4 507.9,530.1 508.8,529.1 509.7,537.5 510.5,540.3 511.4,544.6 512.2,545.0 513.1,551.8 513.9,553.4 514.8,559.8 515.7,564.3 516.6,567.8 517.6,570.7 518.5,576.4 519.5,576.9 520.6,580.4 521.6,588.0 522.8,587.6 523.9,593.3 525.0,597.2 526.2,603.4 527.4,604.6 528.6,609.5 529.8,612.9 531.1,616.6 532.4,620.4 533.7,624.2 535.0,628.6 536.3,631.6 537.7,635.3 539.1,641.6 540.5,645.7 542.0,645.6 543.5,653.0 545.0,651.9 546.5,657.2 548.1,663.8 549.8,663.7 551.5,669.9 553.2,675.2 555.1,676.8 557.1,679.4 559.2,680.6 561.5,686.1 563.9,689.4 566.4,694.2 569.1,695.1 572.0,700.1 574.9,700.7 578.0,704.4 581.2,707.5 584.4,706.8 587.8,713.2 591.1,712.8 594.5,715.1 597.9,719.7 601.4,719.7 604.9,721.3 608.5,721.5 612.2,723.1 615.9,727.3 619.8,727.1 623.7,728.6 627.7,729.3 631.7,729.4 635.7,727.4 639.7,729.8 643.7,727.1 647.7,725.0 651.6,727.9 655.5,727.2 659.4,722.2 663.3,725.2 667.2,723.1 671.0,719.6 674.7,719.7 678.3,719.9 682.0,714.2 685.7,715.2 689.5,711.8 693.4,710.6 697.4,714.6 701.4,715.1 705.4,714.0 709.3,715.4 713.3,714.1 717.2,714.8 721.2,716.1 725.2,717.1 729.2,716.2 733.2,714.6 737.2,714.8 741.1,713.0 745.1,714.5 749.1,714.4 753.1,713.7 757.1,711.6 761.0,712.9 764.5,717.9 767.5,717.4 770.0,722.0 772.2,722.4 774.2,726.1 776.0,730.2 777.6,736.1 779.1,737.5 780.6,743.5 782.0,744.2 783.3,751.2 784.5,755.1 785.7,756.6 786.9,760.4 788.0,764.3 789.1,769.4 790.2,773.3 791.3,777.1 792.4,781.0 793.4,784.9 794.5,788.8 795.5,792.6 796.5,796.5 797.5,800.4 798.5,804.3 799.5,808.2 800.4,812.1 801.4,816.0 802.4,819.9 803.3,823.8 804.2,827.7 805.2,831.6 806.1,835.5 807.0,839.4 807.9,843.3 808.9,847.2 809.7,851.1 810.6,855.0 811.5,858.9 812.4,862.8 813.2,866.7 814.1,870.7 814.9,874.6 815.7,878.5 816.4,882.5 817.1,886.4 817.7,890.4 818.4,894.3 818.9,898.3 819.5,902.3 820.1,906.3 820.8,910.2 821.4,914.2 822.2,918.1 823.0,922.0 824.0,925.9 825.0,929.8 826.2,933.6 827.4,937.4 828.8,941.2 830.2,945.0 831.7,948.7 833.3,952.4 835.0,956.0 836.6,959.7 838.4,963.3 840.1,966.9 841.9,970.5 843.7,974.1 845.6,977.6 847.4,981.2 849.3,984.7 851.2,988.2 853.2,991.7 855.2,995.2 857.2,998.7 859.2,1002.2 861.3,1005.6 863.4,1009.0 865.5,1012.4 867.7,1015.8 869.9,1019.1 872.1,1022.5 874.4,1025.8 876.7,1029.0 879.1,1032.3 881.4,1035.5 883.8,1038.8 886.2,1042.0 888.7,1045.1 891.2,1048.2 893.8,1051.3 896.4,1054.3 899.1,1057.3 901.9,1060.2 904.8,1063.0 907.7,1065.8 910.7,1068.5 913.7,1071.1 916.7,1073.7 919.8,1076.2 923.0,1078.7 926.2,1081.2 929.4,1083.5 932.7,1085.8 936.0,1088.1 939.4,1090.2 942.8,1092.3 946.3,1094.3 949.9,1096.2 953.4,1098.0 957.1,1099.7 960.7,1101.3 964.5,1102.8 968.2,1104.3 972.0,1105.6 975.8,1106.9 979.6,1108.2 983.4,1109.4 987.2,1110.6 991.1,1111.7 994.9,1112.9 998.8,1114.0 1002.6,1115.1 1006.5,1116.2 1010.4,1117.3 1014.2,1118.3 1018.1,1119.3 1022.0,1120.3 1025.9,1121.3 1029.8,1122.2 1033.7,1123.2 1037.6,1124.1 1041.5,1125.0 1045.4,1125.9 1049.3,1126.8 1053.2,1127.7 1057.1,1128.6 1061.0,1129.5 1064.9,1130.5 1068.8,1131.4 1072.7,1132.4 1076.6,1133.3 1080.5,1134.3 1084.4,1135.4 1088.3,1136.4 1092.1,1137.4 1096.0,1138.5 1099.9,1139.5 1103.8,1140.6 1107.6,1141.6 1111.5,1142.6 1115.4,1143.6 1119.3,1144.6 1123.2,1145.5 1127.1,1146.4 1131.0,1147.3 1134.9,1148.1 1138.9,1148.9 1142.8,1149.7 1146.7,1150.4 1150.7,1151.1 1154.7,1151.7 1158.6,1152.3 1162.6,1152.9 1166.6,1153.4 1170.6,1153.9 1174.5,1154.4 1178.5,1154.8 1182.5,1155.2 1186.5,1155.7 1190.5,1156.1 1194.5,1156.4 1198.5,1156.8 1202.5,1157.2 1206.5,1157.5 1210.5,1157.9 1214.5,1158.2 1218.5,1158.6 1222.5,1158.9 1226.5,1159.1 1230.5,1159.4 1234.5,1159.6 1238.5,1159.8 1242.5,1160.0 1246.5,1160.2 1250.5,1160.4 1254.5,1160.6 1258.5,1160.8 1262.5,1161.0 1266.5,1161.2 1270.5,1161.5 1274.5,1161.7 1278.5,1162.0 1282.5,1162.3 1286.5,1162.7 1290.5,1163.1 1294.5,1163.6 1298.5,1164.1 1302.4,1164.7 1306.4,1165.3 1310.4,1165.9 1314.3,1166.5 1318.3,1167.1 1322.3,1167.7 1326.2,1168.2 1330.2,1168.7 1334.2,1169.2 1338.2,1169.6 1342.2,1170.0 1346.2,1170.3 1350.2,1170.6 1354.2,1170.9 1358.2,1171.1 1362.2,1171.3 1366.2,1171.5 1370.2,1171.7 1374.2,1171.8 1378.2,1172.0 1382.2,1172.1 1386.3,1172.3 1390.3,1172.4 1394.3,1172.5 1398.3,1172.6 1402.3,1172.7 1406.3,1172.8 1410.3,1172.9 1414.3,1173.0 1418.3,1173.1 1422.3,1173.2 1426.4,1173.3 1430.4,1173.4 1434.4,1173.4 1438.4,1173.5 1442.4,1173.6 1446.4,1173.7 1450.4,1173.7 1454.4,1173.8 1458.4,1173.9 1462.5,1173.9 1466.5,1174.0 1470.5,1174.1 1474.5,1174.2 1478.5,1174.2 1482.5,1174.3 1486.5,1174.4 1490.5,1174.4 1494.5,1174.5 1498.5,1174.6 1502.6,1174.7 1506.6,1174.7 1510.6,1174.8 1514.6,1174.9 1518.6,1174.9 1522.6,1175.0 1526.6,1175.1 1530.6,1175.1 1534.6,1175.2 1538.7,1175.3 1542.7,1175.3 1546.7,1175.4 1550.7,1175.5 1554.7,1175.5 1558.7,1175.6 1562.7,1175.6 1566.7,1175.7 1570.7,1175.7 1574.7,1175.8 1578.8,1175.8 1582.8,1175.9 1586.8,1176.0 1590.8,1176.0 1594.8,1176.1 1598.8,1176.1 1602.8,1176.2 1606.8,1176.2 1610.8,1176.3 1614.9,1176.3 1618.9,1176.4 1622.9,1176.4 1626.9,1176.5 1630.9,1176.5 1634.9,1176.6 1638.9,1176.6 1642.9,1176.7 1646.9,1176.7 1651.0,1176.8 1655.0,1176.8 1659.0,1176.9 1663.0,1176.9 1667.0,1177.0" fill="none" stroke="#0A7A28" stroke-width="7" stroke-linejoin="round" stroke-linecap="round" clip-path="url(#ca)" />
<polyline points="219.0,715.3 220.0,712.0 221.0,707.8 222.0,704.1 223.0,700.0 223.9,697.4 224.9,691.4 225.9,689.5 226.9,682.3 227.9,680.0 228.9,676.3 229.9,671.4 230.9,670.6 231.9,664.5 232.9,663.1 233.9,660.1 234.9,652.5 235.9,652.0 236.9,647.6 237.9,643.0 238.9,635.8 239.9,634.2 241.0,631.2 242.0,625.6 243.0,621.3 244.0,617.9 245.0,613.7 246.0,612.6 247.1,606.4 248.1,603.0 249.1,600.2 250.1,597.9 251.1,590.6 252.1,585.5 253.2,586.4 254.2,581.8 255.2,577.7 256.2,572.4 257.2,567.0 258.3,562.8 259.3,559.7 260.3,556.6 261.3,550.7 262.4,550.1 263.4,546.3 264.4,538.7 265.3,539.2 266.3,533.4 267.3,531.8 268.3,525.6 269.4,523.4 270.5,517.7 271.7,514.7 272.9,510.3 274.3,504.1 275.8,501.0 277.5,497.8 279.4,495.2 281.4,491.5 283.5,489.0 285.8,486.3 288.1,481.7 290.6,478.1 293.1,476.0 295.6,475.2 298.2,471.2 300.7,467.4 303.3,465.2 305.9,459.0 308.4,455.3 311.1,452.2 313.7,449.3 316.3,445.7 318.8,445.8 321.4,444.2 323.9,436.9 326.4,436.7 328.7,434.8 331.0,430.6 333.2,424.1 335.3,423.2 337.4,417.7 339.3,413.9 341.3,409.5 343.3,408.7 345.2,407.2 347.3,399.5 349.4,396.3 351.6,394.2 353.9,389.1 356.3,388.1 358.7,386.3 361.2,381.8 363.8,376.5 366.5,373.5 369.4,371.6 372.3,371.3 375.5,370.2 378.8,365.7 382.2,361.6 385.7,360.2 389.2,359.2 392.7,355.6 396.1,353.5 399.4,353.0 402.8,352.9 406.1,347.4 409.3,348.4 412.4,345.9 415.5,341.0 418.4,337.2 421.3,334.2 424.2,333.9 427.2,332.0 430.4,329.8 434.1,325.0 438.1,326.4 441.8,325.8 445.5,328.8 449.4,328.7 453.1,326.1 456.5,323.8 460.2,327.0 464.1,323.4 467.8,325.9 471.0,328.6 473.7,331.2 476.2,334.9 478.5,337.8 480.5,341.2 482.3,342.6 484.0,349.1 485.7,353.0 487.2,357.0 488.8,358.5 490.2,363.0 491.7,368.6 493.1,371.9 494.5,372.2 495.9,377.4 497.4,380.3 498.9,386.8 500.4,388.9 501.9,392.6 503.4,395.4 504.9,400.3 506.4,405.4 507.9,408.7 509.3,410.3 510.7,415.0 512.0,420.0 513.3,420.8 514.6,429.0 515.8,428.3 517.0,435.2 518.3,436.6 519.5,444.6 520.7,447.0 521.9,448.4 523.2,453.7 524.4,459.3 525.7,463.1 527.0,465.9 528.5,469.5 530.1,473.8 531.7,478.3 533.5,479.8 535.3,483.9 537.2,488.4 539.0,490.5 540.7,492.6 542.4,498.2 544.0,500.6 545.6,506.2 547.2,510.1 548.7,514.6 550.3,514.1 551.9,517.4 553.4,525.8 555.0,528.4 556.7,533.5 558.3,536.2 560.0,540.5 561.7,540.0 563.5,543.8 565.2,549.6 567.0,554.0 568.8,554.2 570.7,562.1 572.6,561.9 574.5,565.2 576.6,569.9 578.6,572.0 580.8,575.0 583.0,578.3 585.2,581.3 587.5,585.2 589.9,591.2 592.4,594.9 594.9,598.0 597.5,599.2 600.1,604.0 602.8,603.7 605.4,610.6 608.1,611.2 610.8,612.7 613.4,617.0 616.1,619.1 618.8,624.9 621.4,626.0 624.1,627.2 626.7,631.1 629.2,633.7 631.6,641.4 633.8,641.9 636.0,647.2 638.0,649.7 639.9,652.3 641.8,657.5 643.6,660.2 645.3,661.1 647.0,669.7 648.6,670.0 650.2,675.3 651.8,677.8 653.3,684.3 654.8,683.9 656.2,687.1 657.6,690.8 659.0,696.4 660.3,702.5 661.7,704.2 663.0,710.5 664.4,710.2 665.9,718.2 667.3,717.8 668.8,725.2 670.2,725.4 671.6,731.2 673.0,735.1 674.4,740.7 675.7,741.6 676.9,747.7 678.2,747.4 679.4,755.6 680.5,757.5 681.7,761.4 682.8,767.5 683.9,767.9 685.1,773.4 686.2,777.1 687.3,779.4 688.5,782.5 689.6,787.8 690.8,790.8 692.0,796.4 693.2,799.2 694.3,801.3 695.5,808.3 696.7,813.4 697.8,815.6 699.0,817.8 700.1,821.7 701.1,828.9 702.2,830.1 703.2,835.5 704.3,836.0 705.2,843.7 706.2,848.0 707.2,848.6 708.1,852.8 709.1,858.4 710.0,863.9 710.9,867.0 711.8,866.9 712.7,871.3 713.5,879.3 714.3,880.7 715.1,887.5 715.8,888.8 716.6,894.7 717.4,895.4 718.3,903.2 719.2,904.6 720.2,906.0 721.2,910.9 722.3,914.2 723.5,919.8 724.7,926.4 725.9,930.3 727.1,933.9 728.3,935.0 729.6,940.7 730.9,944.4 732.1,948.6 733.4,953.1 734.7,956.2 736.0,959.7 737.4,961.1 738.7,964.1 740.0,969.2 741.4,972.3 742.7,978.5 744.1,979.2 745.4,983.2 746.8,989.7 748.1,989.9 749.5,993.9 750.9,997.3 752.3,1001.1 753.7,1005.3 755.2,1012.3 756.6,1013.6 758.1,1016.5 759.7,1022.2 761.3,1025.2 762.9,1027.0 764.6,1031.0 766.3,1035.6 768.1,1040.1 769.8,1042.1 771.6,1047.2 773.5,1051.1 775.4,1057.0 777.3,1058.8 779.3,1060.7 781.3,1063.8 783.4,1067.0 785.6,1071.4 787.8,1077.7 790.1,1078.7 792.4,1082.0 794.7,1085.2 797.2,1088.4 799.7,1091.5 802.2,1094.6 804.9,1097.6 807.6,1100.6 810.4,1103.4 813.4,1106.1 816.4,1108.7 819.6,1111.2 822.9,1113.4 826.4,1115.5 829.9,1117.4 833.5,1119.1 837.3,1120.6 841.1,1121.9 844.9,1123.0 848.8,1123.9 852.7,1124.7 856.7,1125.3 860.7,1125.8 864.7,1126.1 868.7,1126.3 872.7,1126.4 876.7,1126.5 880.7,1126.5 884.7,1126.5 888.7,1126.5 892.8,1126.6 896.8,1126.6 900.8,1126.7 904.8,1126.8 908.8,1126.9 912.8,1127.0 916.8,1127.2 920.8,1127.3 924.8,1127.5 928.8,1127.6 932.9,1127.8 936.9,1127.9 940.9,1128.0 944.9,1128.1 948.9,1128.2 952.9,1128.3 956.9,1128.3 960.9,1128.4 964.9,1128.4 969.0,1128.5 973.0,1128.5 977.0,1128.6 981.0,1128.6 985.0,1128.6 989.0,1128.6 993.0,1128.7 997.0,1128.7 1001.1,1128.7 1005.1,1128.7 1009.1,1128.7 1013.1,1128.7 1017.1,1128.8 1021.1,1128.8 1025.1,1128.8 1029.1,1128.8 1033.1,1128.8 1037.2,1128.8 1041.2,1128.8 1045.2,1128.8 1049.2,1128.8 1053.2,1128.8 1057.2,1128.8 1061.2,1128.8 1065.2,1128.8 1069.3,1128.8 1073.3,1128.8 1077.3,1128.8 1081.3,1128.8 1085.3,1128.8 1089.3,1128.8 1093.3,1128.8 1097.3,1128.8 1101.3,1128.8 1105.4,1128.8 1109.4,1128.7 1113.4,1128.7 1117.4,1128.7 1121.4,1128.7 1125.4,1128.7 1129.4,1128.7 1133.4,1128.7 1137.5,1128.7 1141.5,1128.7 1145.5,1128.7 1149.5,1128.7 1153.5,1128.7 1157.5,1128.6 1161.5,1128.6 1165.5,1128.6 1169.5,1128.6 1173.6,1128.6 1177.6,1128.6 1181.6,1128.6 1185.6,1128.6 1189.6,1128.6 1193.6,1128.6 1197.6,1128.5 1201.6,1128.5 1205.6,1128.5 1209.7,1128.5 1213.7,1128.5 1217.7,1128.5 1221.7,1128.5 1225.7,1128.5 1229.7,1128.5 1233.7,1128.4 1237.7,1128.4 1241.8,1128.4 1245.8,1128.4 1249.8,1128.4 1253.8,1128.4 1257.8,1128.4 1261.8,1128.4 1265.8,1128.4 1269.8,1128.3 1273.8,1128.3 1277.9,1128.3 1281.9,1128.3 1285.9,1128.3 1289.9,1128.3 1293.9,1128.3 1297.9,1128.3 1301.9,1128.2 1305.9,1128.2 1310.0,1128.2 1314.0,1128.2 1318.0,1128.2 1322.0,1128.2 1326.0,1128.2 1330.0,1128.2 1334.0,1128.1 1338.0,1128.1 1342.0,1128.1 1346.1,1128.1 1350.1,1128.1 1354.1,1128.1 1358.1,1128.1 1362.1,1128.0 1366.1,1128.0 1370.1,1128.0 1374.1,1128.0 1378.2,1128.0 1382.2,1128.0 1386.2,1128.0 1390.2,1128.0 1394.2,1127.9 1398.2,1127.9 1402.2,1127.9 1406.2,1127.9 1410.2,1127.9 1414.3,1127.9 1418.3,1127.9 1422.3,1127.8 1426.3,1127.8 1430.3,1127.8 1434.3,1127.8 1438.3,1127.8 1442.3,1127.8 1446.4,1127.8 1450.4,1127.7 1454.4,1127.7 1458.4,1127.7 1462.4,1127.7 1466.4,1127.7 1470.4,1127.7 1474.4,1127.7 1478.4,1127.6 1482.5,1127.6 1486.5,1127.6 1490.5,1127.6 1494.5,1127.6 1498.5,1127.6 1502.5,1127.6 1506.5,1127.5 1510.5,1127.5 1514.6,1127.5 1518.6,1127.5 1522.6,1127.5 1526.6,1127.5 1530.6,1127.5 1534.6,1127.5 1538.6,1127.4 1542.6,1127.4 1546.6,1127.4 1550.7,1127.4 1554.7,1127.4 1558.7,1127.4 1562.7,1127.4 1566.7,1127.3 1570.7,1127.3 1574.7,1127.3 1578.7,1127.3 1582.8,1127.3 1586.8,1127.3 1590.8,1127.3 1594.8,1127.2 1598.8,1127.2 1602.8,1127.2 1606.8,1127.2 1610.8,1127.2 1614.8,1127.2 1618.9,1127.2 1622.9,1127.1 1626.9,1127.1 1630.9,1127.1 1634.9,1127.1 1638.9,1127.1 1642.9,1127.1 1646.9,1127.1 1651.0,1127.0 1655.0,1127.0 1659.0,1127.0 1663.0,1127.0 1667.0,1127.0" fill="none" stroke="#000000" stroke-width="7" stroke-linejoin="round" stroke-linecap="round" clip-path="url(#ca)" />
<polyline points="219.0,731.1 219.7,728.6 220.4,725.5 221.0,718.0 221.7,716.6 222.4,712.3 223.1,708.1 223.8,701.3 224.4,696.9 225.1,694.8 225.8,692.8 226.5,686.2 227.1,683.6 227.8,678.7 228.5,677.5 229.2,674.0 229.8,667.2 230.5,666.4 231.2,657.6 231.8,657.5 232.5,653.9 233.2,646.2 233.8,645.1 234.5,640.4 235.1,638.5 235.8,630.6 236.4,628.4 237.1,626.2 237.7,621.0 238.3,615.3 239.0,610.2 239.6,610.7 240.2,604.3 240.9,603.0 241.5,594.6 242.1,594.2 242.8,590.2 243.4,586.8 244.0,578.1 244.6,576.0 245.3,570.4 245.9,570.1 246.5,564.0 247.1,563.2 247.7,556.2 248.3,554.3 248.9,550.9 249.5,543.6 250.2,541.3 250.8,539.4 251.5,533.2 252.1,528.4 252.8,524.0 253.6,522.7 254.3,515.7 255.0,513.9 255.8,509.7 256.5,505.8 257.3,499.6 258.1,498.4 258.9,495.9 259.7,488.8 260.6,485.0 261.5,484.1 262.5,478.5 263.5,473.0 264.6,467.8 265.8,467.8 267.0,461.9 268.2,458.7 269.3,453.8 270.4,451.8 271.3,448.4 272.1,442.3 272.9,437.1 273.6,437.9 274.3,433.6 275.2,425.0 276.1,424.0 277.2,420.7 278.3,415.4 279.5,413.3 280.8,410.7 282.1,405.0 283.4,400.1 284.8,395.4 286.1,391.9 287.5,387.6 288.9,383.6 290.3,380.4 291.8,379.9 293.2,374.6 294.6,372.2 296.1,369.1 297.6,364.8 299.0,357.1 300.5,357.9 302.0,349.9 303.5,349.7 305.1,346.3 306.6,341.7 308.2,336.7 309.8,331.3 311.4,327.7 313.0,326.9 314.6,321.2 316.3,319.0 318.0,314.0 319.7,309.9 321.5,306.9 323.3,305.6 325.1,300.8 327.0,296.7 328.8,293.6 330.6,290.4 332.5,286.7 334.3,282.7 336.1,281.9 337.9,277.1 339.7,270.9 341.5,267.7 343.3,263.5 345.1,260.8 347.0,255.5 348.8,255.6 350.5,251.1 352.3,246.8 354.1,245.6 355.8,239.1 357.5,236.7 359.2,234.9 360.8,229.3 362.5,225.9 364.0,221.0 365.6,220.6 367.2,215.6 368.8,209.6 370.5,206.2 372.1,203.8 373.9,199.8 375.7,196.2 377.5,191.0 379.5,189.5 381.6,186.7 383.8,183.7 386.1,178.8 388.5,175.5 390.9,172.6 393.4,169.7 395.9,166.2 398.5,160.7 401.0,158.9 403.5,159.5 406.0,155.5 408.5,150.5 411.1,149.0 413.9,143.2 416.9,140.9 420.4,140.3 424.3,140.6 428.1,138.2 431.3,143.0 433.8,148.4 435.7,150.4 437.3,156.0 438.5,155.2 439.5,163.3 440.4,166.8 441.2,166.5 442.0,173.1 442.9,178.2 444.1,179.2 445.7,185.1 447.7,189.6 450.1,192.6 452.6,193.8 454.9,195.1 457.0,201.1 458.8,202.8 460.4,208.3 461.8,210.7 463.1,214.9 464.4,219.7 465.6,225.0 466.8,229.6 467.9,230.5 469.1,232.3 470.2,240.0 471.2,241.7 472.2,247.8 473.3,252.0 474.2,251.8 475.2,259.3 476.1,260.9 477.1,265.0 478.0,268.9 478.9,273.9 479.8,276.3 480.8,281.5 481.7,284.3 482.6,287.4 483.5,291.9 484.3,298.1 485.2,300.1 486.0,303.4 486.9,308.2 487.7,311.3 488.6,319.3 489.5,322.2 490.4,322.8 491.3,327.4 492.2,332.0 493.2,336.4 494.1,339.6 495.1,344.2 496.0,349.3 497.0,350.1 497.9,356.1 498.9,357.9 499.8,363.7 500.8,366.5 501.8,372.9 502.7,377.2 503.6,381.5 504.5,382.6 505.5,387.6 506.4,389.1 507.3,395.9 508.2,400.1 509.1,402.2 510.0,405.5 510.9,411.7 511.8,415.6 512.7,419.8 513.6,421.0 514.5,424.7 515.4,428.6 516.2,432.3 517.0,435.2 517.8,439.8 518.6,445.6 519.3,449.2 520.0,455.6 520.6,456.9 521.2,459.8 521.7,467.7 522.3,467.2 522.8,472.6 523.3,478.8 523.9,480.4 524.4,487.7 525.1,490.6 525.8,492.2 526.5,499.1 527.3,503.3 528.2,505.1 529.1,507.1 530.0,510.8 531.0,518.4 532.0,522.6 533.1,525.3 534.1,529.8 535.2,533.7 536.3,534.7 537.5,538.4 538.6,545.7 539.8,549.4 540.9,551.1 542.1,554.1 543.3,556.9 544.5,562.4 545.7,568.9 546.9,569.0 548.1,573.4 549.4,575.8 550.7,582.3 552.1,583.5 553.6,590.4 555.2,593.1 556.9,596.4 558.8,599.1 560.8,602.8 563.0,609.2 565.3,612.8 567.7,615.0 570.3,615.2 573.0,618.2 575.8,621.8 578.7,627.3 581.7,630.3 584.8,629.1 588.0,633.6 591.3,634.6 594.7,637.1 598.1,637.8 601.6,642.5 605.2,644.7 608.8,647.2 612.5,646.5 616.2,647.9 619.9,650.4 623.7,649.0 627.5,654.0 631.4,654.4 635.3,652.4 639.3,653.9 643.3,654.6 647.3,656.6 651.3,655.5 655.3,652.7 659.3,655.6 663.2,654.6 667.0,653.3 670.9,650.2 674.7,648.9 678.5,647.2 682.2,648.7 685.9,644.5 689.6,645.5 693.5,640.3 697.4,639.0 701.4,641.5 705.4,640.9 709.2,642.4 713.0,642.5 716.8,644.3 720.6,647.1 724.5,646.3 728.4,648.1 732.4,650.1 736.4,648.2 740.4,647.9 744.3,647.4 748.2,645.9 752.2,646.6 756.1,647.2 760.1,643.4 763.9,647.4 766.8,650.0 768.9,655.4 770.6,658.0 772.1,659.5 773.4,665.0 774.7,670.3 776.0,674.4 777.1,677.2 778.3,677.7 779.4,682.9 780.5,687.3 781.5,690.4 782.6,696.5 783.5,699.0 784.5,705.4 785.4,704.3 786.3,712.4 787.2,712.7 788.1,718.7 788.9,720.7 789.8,725.8 790.7,730.3 791.5,734.3 792.4,738.2 793.3,742.1 794.1,746.0 795.0,749.9 795.8,753.8 796.7,757.8 797.5,761.7 798.3,765.6 799.2,769.5 800.0,773.5 800.8,777.4 801.6,781.3 802.5,785.2 803.3,789.2 804.2,793.1 805.0,797.0 805.9,800.9 806.8,804.8 807.7,808.7 808.5,812.6 809.4,816.6 810.3,820.5 811.3,824.4 812.2,828.3 813.1,832.2 814.0,836.1 815.0,840.0 816.0,843.9 816.9,847.8 817.9,851.6 818.9,855.5 819.9,859.4 820.9,863.3 822.0,867.2 823.0,871.0 824.1,874.9 825.1,878.8 826.2,882.6 827.4,886.5 828.6,890.3 829.8,894.1 831.0,898.0 832.3,901.8 833.5,905.6 834.9,909.3 836.2,913.1 837.6,916.9 839.1,920.6 840.5,924.4 842.1,928.1 843.6,931.8 845.2,935.4 846.9,939.1 848.6,942.7 850.3,946.4 852.0,950.0 853.8,953.6 855.5,957.2 857.4,960.7 859.2,964.3 861.1,967.8 863.1,971.3 865.0,974.8 867.0,978.3 869.1,981.8 871.1,985.2 873.1,988.7 875.2,992.1 877.3,995.6 879.4,999.0 881.5,1002.4 883.6,1005.8 885.8,1009.1 888.0,1012.5 890.3,1015.8 892.7,1019.0 895.1,1022.2 897.6,1025.4 900.2,1028.4 902.8,1031.4 905.6,1034.3 908.5,1037.2 911.4,1039.9 914.4,1042.5 917.5,1045.1 920.6,1047.6 923.8,1050.1 927.0,1052.5 930.2,1054.8 933.5,1057.1 936.9,1059.4 940.2,1061.6 943.6,1063.8 946.9,1065.9 950.4,1068.0 953.8,1070.1 957.3,1072.0 960.8,1073.9 964.4,1075.7 968.0,1077.5 971.7,1079.1 975.4,1080.7 979.1,1082.3 982.8,1083.7 986.6,1085.2 990.3,1086.5 994.1,1087.8 997.9,1089.1 1001.7,1090.4 1005.6,1091.6 1009.4,1092.8 1013.2,1093.9 1017.1,1095.0 1020.9,1096.2 1024.8,1097.3 1028.6,1098.4 1032.5,1099.4 1036.4,1100.5 1040.2,1101.5 1044.1,1102.6 1048.0,1103.5 1052.0,1104.3 1055.9,1104.9 1059.9,1105.5 1063.9,1105.9 1067.8,1106.6 1071.8,1107.3 1075.7,1108.2 1079.6,1109.2 1083.4,1110.2 1087.3,1111.3 1091.2,1112.3 1095.0,1113.4 1098.9,1114.5 1102.8,1115.6 1106.7,1116.6 1110.5,1117.6 1114.4,1118.6 1118.3,1119.6 1122.2,1120.6 1126.1,1121.5 1130.0,1122.3 1134.0,1123.1 1137.9,1123.9 1141.9,1124.5 1145.8,1125.1 1149.8,1125.6 1153.8,1126.0 1157.8,1126.4 1161.8,1126.7 1165.8,1126.9 1169.8,1127.1 1173.8,1127.2 1177.8,1127.3 1181.8,1127.4 1185.8,1127.5 1189.8,1127.6 1193.9,1127.7 1197.9,1127.8 1201.9,1127.9 1205.9,1128.0 1209.9,1128.2 1213.9,1128.3 1217.9,1128.5 1221.9,1128.7 1225.9,1128.9 1229.9,1129.1 1233.9,1129.3 1237.9,1129.5 1241.9,1129.7 1245.9,1129.9 1250.0,1130.2 1254.0,1130.4 1258.0,1130.6 1262.0,1130.8 1266.0,1131.0 1270.0,1131.2 1274.0,1131.4 1278.0,1131.6 1282.0,1131.7 1286.0,1131.9 1290.0,1132.1 1294.0,1132.2 1298.0,1132.4 1302.0,1132.5 1306.0,1132.7 1310.1,1132.8 1314.1,1132.9 1318.1,1133.1 1322.1,1133.2 1326.1,1133.3 1330.1,1133.4 1334.1,1133.5 1338.1,1133.6 1342.1,1133.7 1346.1,1133.8 1350.2,1133.9 1354.2,1134.0 1358.2,1134.0 1362.2,1134.1 1366.2,1134.2 1370.2,1134.2 1374.2,1134.3 1378.2,1134.4 1382.2,1134.4 1386.2,1134.5 1390.3,1134.5 1394.3,1134.6 1398.3,1134.6 1402.3,1134.7 1406.3,1134.7 1410.3,1134.8 1414.3,1134.8 1418.3,1134.9 1422.3,1134.9 1426.4,1135.0 1430.4,1135.0 1434.4,1135.1 1438.4,1135.1 1442.4,1135.1 1446.4,1135.2 1450.4,1135.2 1454.4,1135.3 1458.4,1135.3 1462.4,1135.3 1466.5,1135.4 1470.5,1135.4 1474.5,1135.5 1478.5,1135.5 1482.5,1135.5 1486.5,1135.6 1490.5,1135.6 1494.5,1135.6 1498.5,1135.7 1502.6,1135.7 1506.6,1135.7 1510.6,1135.8 1514.6,1135.8 1518.6,1135.8 1522.6,1135.9 1526.6,1135.9 1530.6,1135.9 1534.6,1136.0 1538.7,1136.0 1542.7,1136.0 1546.7,1136.1 1550.7,1136.1 1554.7,1136.1 1558.7,1136.2 1562.7,1136.2 1566.7,1136.2 1570.7,1136.3 1574.8,1136.3 1578.8,1136.3 1582.8,1136.3 1586.8,1136.4 1590.8,1136.4 1594.8,1136.4 1598.8,1136.5 1602.8,1136.5 1606.8,1136.5 1610.8,1136.6 1614.9,1136.6 1618.9,1136.6 1622.9,1136.6 1626.9,1136.7 1630.9,1136.7 1634.9,1136.7 1638.9,1136.8 1642.9,1136.8 1646.9,1136.8 1651.0,1136.9 1655.0,1136.9 1659.0,1136.9 1663.0,1137.0 1667.0,1137.0" fill="none" stroke="#E8197D" stroke-width="7" stroke-linejoin="round" stroke-linecap="round" clip-path="url(#ca)" />
<line x1="219.0" y1="1296.0" x2="219.0" y2="1317.0" stroke="#000" stroke-width="7"/>
<line x1="508.6" y1="1296.0" x2="508.6" y2="1317.0" stroke="#000" stroke-width="7"/>
<line x1="798.2" y1="1296.0" x2="798.2" y2="1317.0" stroke="#000" stroke-width="7"/>
<line x1="1087.8" y1="1296.0" x2="1087.8" y2="1317.0" stroke="#000" stroke-width="7"/>
<line x1="1377.4" y1="1296.0" x2="1377.4" y2="1317.0" stroke="#000" stroke-width="7"/>
<line x1="1667.0" y1="1296.0" x2="1667.0" y2="1317.0" stroke="#000" stroke-width="7"/>
<line x1="363.8" y1="1296.0" x2="363.8" y2="1306.0" stroke="#000" stroke-width="7"/>
<line x1="653.4" y1="1296.0" x2="653.4" y2="1306.0" stroke="#000" stroke-width="7"/>
<line x1="943.0" y1="1296.0" x2="943.0" y2="1306.0" stroke="#000" stroke-width="7"/>
<line x1="1232.6" y1="1296.0" x2="1232.6" y2="1306.0" stroke="#000" stroke-width="7"/>
<line x1="1522.2" y1="1296.0" x2="1522.2" y2="1306.0" stroke="#000" stroke-width="7"/>
<text transform="translate(219.0,1401.0) scale(1,1.065)" font-size="80" text-anchor="middle" font-weight="bold" >200</text>
<text transform="translate(508.6,1401.0) scale(1,1.065)" font-size="80" text-anchor="middle" font-weight="bold" >300</text>
<text transform="translate(798.2,1401.0) scale(1,1.065)" font-size="80" text-anchor="middle" font-weight="bold" >400</text>
<text transform="translate(1087.8,1401.0) scale(1,1.065)" font-size="80" text-anchor="middle" font-weight="bold" >500</text>
<text transform="translate(1377.4,1401.0) scale(1,1.065)" font-size="80" text-anchor="middle" font-weight="bold" >600</text>
<text transform="translate(1667.0,1401.0) scale(1,1.065)" font-size="80" text-anchor="middle" font-weight="bold" >700</text>
<text transform="translate(623.0,1515.0) scale(1,1.065)" font-size="79" text-anchor="start" font-weight="bold" >Wavelength (nm)</text>
<text transform="translate(148.0,924.0) rotate(-90) scale(1.035,1)" font-size="80.5" text-anchor="start" font-weight="bold">Absorbance (a.u.)</text>
<text transform="translate(90.4,88.7) scale(1,1.05)" font-size="89" text-anchor="start" font-weight="bold" >(a)</text>
<line x1="1000.1" y1="166.3" x2="1120.8" y2="166.3" stroke="#E8197D" stroke-width="7.5" stroke-linecap="round"/>
<text transform="translate(1141.0,185.4) scale(1,1.065)" font-size="73.6" text-anchor="start" font-weight="bold" >40TiO<tspan dy="0.2500em" font-size="0.94em">2</tspan><tspan dy="-0.235em">/CNNS</tspan></text>
<line x1="1000.1" y1="280.8" x2="1120.8" y2="280.8" stroke="#000000" stroke-width="7.5" stroke-linecap="round"/>
<text transform="translate(1141.0,299.9) scale(1,1.065)" font-size="73.6" text-anchor="start" font-weight="bold" >TiO<tspan dy="0.2500em" font-size="0.94em">2</tspan></text>
<line x1="1000.1" y1="395.3" x2="1120.8" y2="395.3" stroke="#0A7A28" stroke-width="7.5" stroke-linecap="round"/>
<text transform="translate(1141.0,414.4) scale(1,1.065)" font-size="73.6" text-anchor="start" font-weight="bold" >20TiO<tspan dy="0.2500em" font-size="0.94em">2</tspan><tspan dy="-0.235em">/CNNS</tspan></text>
<line x1="1000.1" y1="509.6" x2="1120.8" y2="509.6" stroke="#F28C28" stroke-width="7.5" stroke-linecap="round"/>
<text transform="translate(1141.0,529.5) scale(1,1.065)" font-size="73.6" text-anchor="start" font-weight="bold" >CNNS</text>
<line x1="1000.1" y1="605.3" x2="1120.8" y2="605.3" stroke="#5CC6EC" stroke-width="7.5" stroke-linecap="round"/>
<text transform="translate(1141.0,624.9) scale(1,1.065)" font-size="73.6" text-anchor="start" font-weight="bold" >30TiO<tspan dy="0.2500em" font-size="0.94em">2</tspan><tspan dy="-0.235em">/CNNS</tspan></text>
<line x1="1000.1" y1="719.7" x2="1120.8" y2="719.7" stroke="#8014D4" stroke-width="7.5" stroke-linecap="round"/>
<text transform="translate(1141.0,739.4) scale(1,1.065)" font-size="73.6" text-anchor="start" font-weight="bold" >50TiO<tspan dy="0.2500em" font-size="0.94em">2</tspan><tspan dy="-0.235em">/CNNS</tspan></text>
<line x1="1000.1" y1="835.6" x2="1120.8" y2="835.6" stroke="#8C8C8C" stroke-width="7.5" stroke-linecap="round"/>
<text transform="translate(1141.0,855.2) scale(1,1.065)" font-size="73.6" text-anchor="start" font-weight="bold" >Bulk–CN</text>
<rect x="239" y="1635" width="1431.5" height="1236" fill="none" stroke="#000" stroke-width="8"/>
<polyline points="239.4,2854.3 243.4,2854.8 247.4,2854.7 251.4,2854.4 255.4,2854.0 259.5,2854.6 263.5,2854.5 267.5,2854.1 271.5,2854.0 275.5,2853.6 279.5,2853.2 283.5,2853.6 287.5,2853.7 291.5,2853.0 295.5,2853.8 299.6,2853.0 303.6,2852.9 307.6,2852.6 311.6,2853.7 315.6,2853.2 319.6,2853.3 323.6,2852.9 327.6,2852.1 331.6,2852.3 335.6,2852.4 339.7,2851.8 343.7,2852.7 347.7,2851.8 351.7,2851.4 355.7,2852.1 359.7,2851.1 363.7,2851.9 367.7,2851.2 371.7,2851.2 375.7,2850.8 379.7,2850.8 383.7,2850.3 387.8,2849.9 391.8,2850.7 395.8,2849.8 399.8,2850.3 403.8,2849.5 407.8,2850.2 411.8,2849.9 415.8,2849.6 419.8,2849.4 423.8,2849.0 427.8,2849.0 431.8,2848.1 435.8,2848.3 439.9,2848.5 443.9,2847.6 447.9,2848.2 451.9,2847.9 455.9,2847.1 459.9,2846.8 463.9,2846.7 467.9,2846.4 471.9,2846.8 475.9,2845.8 479.9,2845.1 483.9,2844.8 487.9,2845.2 491.9,2845.2 495.9,2844.3 499.9,2843.9 503.9,2843.6 507.9,2843.4 511.8,2842.3 515.8,2842.4 519.8,2841.8 523.8,2841.4 527.8,2840.4 531.8,2839.9 535.7,2839.6 539.7,2839.7 543.7,2838.4 547.6,2838.1 551.6,2837.1 555.6,2836.2 559.5,2835.5 563.5,2835.7 567.4,2834.9 571.3,2833.6 575.2,2833.1 579.1,2832.2 583.0,2831.4 586.9,2830.4 590.7,2828.7 594.6,2828.2 598.4,2827.0 602.2,2825.3 606.1,2824.5 609.9,2822.9 613.8,2821.6 617.6,2820.4 621.5,2820.2 625.4,2818.4 629.3,2817.4 633.3,2817.4 637.2,2816.6 641.1,2815.4 645.0,2815.0 649.0,2813.2 652.9,2812.7 656.8,2811.9 660.7,2811.2 664.7,2810.0 668.6,2809.0 672.5,2808.3 676.3,2808.0 680.2,2807.1 684.1,2805.7 688.0,2804.4 691.8,2803.0 695.7,2802.8 699.6,2801.2 703.4,2800.3 707.3,2798.3 711.1,2797.4 714.9,2796.9 718.7,2795.5 722.5,2794.3 726.2,2792.5 730.0,2790.9 733.7,2789.5 737.3,2788.2 741.0,2785.9 744.6,2784.4 748.2,2782.3 751.7,2781.0 755.3,2778.2 758.8,2777.1 762.3,2775.4 765.8,2772.3 769.2,2771.0 772.7,2769.0 776.1,2767.2 779.6,2764.8 783.0,2762.3 786.4,2760.4 789.8,2759.0 793.2,2756.8 796.6,2753.7 800.0,2751.5 803.3,2749.3 806.7,2747.0 810.0,2745.3 813.3,2742.6 816.5,2741.1 819.8,2738.5 823.0,2735.5 826.2,2733.5 829.4,2730.9 832.6,2728.6 835.8,2725.9 839.0,2723.4 842.2,2721.0 845.4,2718.9 848.7,2716.9 851.9,2714.4 855.2,2711.5 858.5,2709.9 861.7,2707.8 864.9,2705.3 868.1,2702.9 871.3,2699.5 874.5,2697.6 877.6,2694.6 880.7,2692.9 883.8,2689.6 886.9,2687.7 889.9,2684.5 893.0,2682.4 896.0,2679.3 899.0,2676.4 902.0,2674.1 905.0,2671.4 908.0,2669.5 911.1,2666.1 914.0,2663.6 917.0,2661.0 919.9,2658.7 922.8,2654.9 925.6,2652.6 928.3,2649.6 931.0,2646.9 933.6,2644.1 936.2,2640.2 938.7,2637.6 941.2,2634.2 943.7,2631.2 946.3,2627.5 948.8,2625.3 951.4,2622.4 954.1,2618.6 956.7,2615.5 959.2,2613.3 961.7,2609.0 964.1,2605.8 966.3,2602.5 968.5,2600.0 970.7,2596.5 972.7,2592.7 974.7,2589.4 976.7,2585.2 978.6,2582.4 980.5,2578.6 982.3,2575.2 984.1,2571.4 985.9,2567.9 987.7,2564.1 989.5,2560.3 991.2,2557.1 993.0,2553.3 994.7,2550.2 996.4,2546.7 998.0,2542.9 999.6,2538.9 1001.2,2535.0 1002.8,2531.5 1004.3,2527.9 1005.7,2524.3 1007.2,2521.0 1008.6,2516.1 1009.9,2512.8 1011.2,2509.1 1012.5,2505.5 1013.8,2501.9 1015.1,2498.0 1016.3,2494.0 1017.5,2490.3 1018.7,2486.4 1019.9,2482.8 1021.1,2478.8 1022.2,2474.9 1023.4,2470.5 1024.5,2467.5 1025.5,2463.0 1026.6,2459.4 1027.6,2455.7 1028.6,2452.0 1029.5,2448.2 1030.5,2443.1 1031.5,2439.6 1032.5,2435.7 1033.5,2431.9 1034.5,2427.7 1035.6,2424.4 1036.7,2419.9 1038.0,2416.4 1039.3,2413.4 1040.9,2409.4 1042.4,2405.4 1044.0,2401.3 1045.4,2398.6 1046.8,2394.5 1047.9,2390.0 1049.0,2386.3 1049.9,2382.8 1050.8,2378.9 1051.7,2374.5 1052.5,2371.4 1053.4,2366.7 1054.2,2362.7 1054.9,2359.5 1055.7,2354.7 1056.5,2351.4 1057.2,2346.9 1058.0,2343.4 1058.7,2339.1 1059.5,2335.3 1060.2,2332.0 1061.0,2327.5 1061.7,2323.5 1062.5,2319.8 1063.2,2315.5 1064.0,2311.4 1064.8,2307.7 1065.6,2303.7 1066.3,2299.6 1067.1,2296.6 1067.9,2291.6 1068.7,2288.6 1069.5,2284.8 1070.3,2280.6 1071.1,2275.8 1071.8,2272.5 1072.6,2268.0 1073.4,2264.7 1074.2,2260.9 1075.0,2256.4 1075.8,2252.2 1076.6,2248.9 1077.3,2244.4 1078.1,2240.8 1078.9,2237.0 1079.7,2233.6 1080.5,2229.0 1081.3,2224.8 1082.0,2221.7 1082.8,2217.8 1083.6,2213.5 1084.3,2209.0 1085.1,2205.2 1085.8,2201.5 1086.6,2197.8 1087.3,2193.4 1088.1,2190.2 1088.8,2186.3 1089.6,2182.4 1090.4,2178.5 1091.2,2173.5 1092.0,2170.2 1092.8,2165.7 1093.6,2162.8 1094.4,2158.7 1095.3,2154.8 1096.2,2150.2 1097.2,2146.1 1098.2,2143.1 1099.3,2139.0 1100.4,2135.2 1101.7,2131.2 1102.9,2127.8 1104.2,2123.4 1105.5,2119.6 1106.7,2115.8 1107.8,2111.9 1108.9,2108.4 1109.9,2104.9 1110.8,2100.0 1111.6,2096.1 1112.5,2092.7 1113.3,2088.9 1114.1,2084.4 1114.8,2080.6 1115.6,2076.4 1116.3,2072.4 1117.0,2069.0 1117.8,2065.3 1118.5,2061.3 1119.3,2056.8 1120.0,2052.8 1120.8,2049.8 1121.6,2045.4 1122.4,2041.3 1123.2,2037.8 1124.1,2033.9 1125.0,2029.7 1125.8,2025.3 1126.7,2022.3 1127.6,2017.6 1128.5,2013.5 1129.4,2010.0 1130.4,2006.3 1131.3,2002.5 1132.2,1998.0 1133.2,1994.8 1134.1,1990.6 1135.1,1986.3 1136.0,1983.3 1137.0,1979.3 1138.0,1975.6 1139.0,1971.4 1140.0,1967.0 1141.0,1963.8 1142.1,1960.0 1143.1,1955.7 1144.1,1952.3 1145.2,1948.5 1146.3,1943.9 1147.3,1940.7 1148.4,1936.9 1149.5,1932.8 1150.6,1928.0 1151.7,1924.6 1152.8,1921.0 1153.9,1917.2 1155.0,1913.5 1156.1,1909.5 1157.3,1905.1 1158.4,1902.2 1159.6,1897.8 1160.7,1894.4 1161.8,1889.8 1162.9,1886.9 1164.1,1882.5 1165.2,1878.9 1166.4,1875.0 1167.5,1871.3 1168.7,1866.9 1169.9,1862.7 1171.2,1859.3 1172.4,1855.2 1173.7,1851.9 1175.1,1848.4 1176.5,1844.1 1177.9,1840.1 1179.4,1836.2 1180.9,1833.0 1182.4,1829.4 1183.9,1825.1 1185.5,1822.2 1187.1,1817.9 1188.8,1814.2 1190.5,1811.5 1192.2,1807.4 1194.0,1804.3 1195.9,1800.3 1198.0,1796.4 1200.2,1793.1 1202.5,1790.1 1205.2,1787.4 1208.3,1785.0 1211.9,1783.3 1215.7,1782.0 1219.7,1780.8 1223.7,1780.5 1227.7,1780.1 1231.7,1780.1 1235.7,1779.7 1239.7,1780.1 1243.7,1780.0 1247.7,1779.6 1251.7,1780.7 1255.7,1780.6 1259.7,1781.0 1263.7,1781.1 1267.8,1781.2 1271.8,1781.7 1275.8,1781.2 1279.8,1781.6 1283.8,1781.5 1287.7,1782.8 1291.7,1783.1 1295.7,1783.3 1299.7,1783.6 1303.7,1781.9 1307.5,1780.7 1311.2,1779.8 1315.0,1778.5 1318.9,1777.2 1322.8,1776.2 1326.8,1776.1 1330.7,1775.8 1334.4,1773.9 1337.8,1771.7 1341.0,1769.1 1343.9,1766.7 1346.8,1763.8 1349.5,1761.0 1352.1,1758.2 1354.6,1754.9 1357.0,1751.2 1359.3,1747.8 1361.3,1744.9 1363.1,1741.4 1364.7,1737.9 1366.2,1733.2 1367.6,1730.3 1368.9,1726.6 1370.4,1721.8 1371.9,1718.4 1373.8,1715.3 1376.5,1711.7 1380.2,1711.1 1384.2,1710.8 1388.2,1711.6 1391.8,1709.7 1394.4,1706.6 1396.2,1703.0 1397.8,1699.6 1399.3,1696.2 1401.1,1692.0 1403.1,1689.1 1405.3,1685.3 1407.7,1682.5 1410.2,1679.0 1412.8,1675.7 1415.4,1672.7 1418.1,1669.6 1420.8,1667.3 1423.5,1664.0 1426.2,1660.7 1428.9,1658.7 1431.6,1655.4 1434.3,1651.7 1437.0,1649.6 1439.7,1646.5 1442.5,1643.4 1445.5,1640.8 1448.6,1638.8 1451.8,1635.7 1455.2,1633.9 1458.7,1631.9 1462.3,1629.8 1466.0,1628.3 1469.8,1627.5 1473.7,1626.4 1477.6,1625.4 1481.6,1624.9 1485.6,1624.1 1489.6,1624.5 1493.6,1623.3 1497.6,1623.9 1501.6,1623.6 1505.6,1623.3 1509.6,1623.8 1513.6,1623.9 1517.6,1623.4 1521.6,1624.2 1525.6,1624.1 1529.6,1625.5 1533.5,1626.0 1537.0,1627.8 1540.2,1630.1 1543.3,1632.5 1546.5,1635.0 1550.0,1637.0 1553.6,1639.3 1557.2,1641.3 1560.9,1642.2 1564.6,1643.6 1568.3,1645.7 1572.0,1646.7 1575.7,1648.5 1579.5,1650.4 1583.2,1651.2 1587.0,1653.2 1590.7,1654.4 1594.5,1655.3 1598.3,1656.8 1602.1,1658.5 1605.9,1659.1 1609.8,1660.2 1613.7,1661.4 1617.7,1661.8 1621.7,1660.7 1625.5,1659.7 1629.4,1658.1 1633.3,1659.1 1637.0,1660.7 1640.5,1663.4 1644.1,1664.4 1648.0,1666.0 1652.0,1665.6 1656.0,1666.3 1660.0,1666.7 1664.0,1666.5 1668.0,1666.1 1672.0,1665.4" fill="none" stroke="#8C8C8C" stroke-width="6" stroke-linejoin="round" stroke-linecap="round" clip-path="url(#cb)" />
<polyline points="239.4,2789.3 243.4,2788.3 247.4,2788.1 251.4,2789.3 255.4,2788.2 259.4,2788.1 263.4,2788.7 267.5,2788.3 271.5,2788.9 275.5,2788.1 279.5,2788.9 283.5,2788.1 287.5,2788.4 291.5,2788.8 295.5,2788.4 299.5,2788.7 303.5,2788.4 307.5,2787.6 311.5,2788.5 315.5,2788.1 319.6,2787.7 323.6,2787.5 327.6,2788.3 331.6,2787.9 335.6,2788.3 339.6,2788.1 343.6,2788.2 347.6,2787.7 351.6,2787.8 355.6,2787.6 359.6,2787.2 363.6,2787.9 367.6,2787.1 371.7,2787.6 375.7,2787.8 379.7,2787.3 383.7,2786.6 387.7,2787.4 391.7,2787.1 395.7,2786.5 399.7,2786.2 403.7,2786.7 407.7,2786.0 411.7,2787.0 415.7,2786.4 419.7,2786.3 423.7,2786.1 427.7,2786.3 431.8,2786.5 435.8,2785.6 439.8,2785.6 443.8,2785.7 447.8,2785.3 451.8,2785.5 455.8,2785.3 459.8,2785.0 463.8,2785.2 467.8,2784.9 471.8,2784.2 475.8,2785.2 479.8,2784.3 483.8,2784.2 487.8,2784.0 491.8,2784.5 495.8,2784.4 499.9,2783.7 503.9,2783.4 507.9,2782.8 511.9,2783.6 515.9,2782.5 519.9,2782.8 523.9,2782.4 527.9,2782.1 531.9,2782.0 535.9,2781.5 539.9,2781.1 543.9,2781.5 547.9,2781.6 551.9,2781.1 555.9,2780.3 559.9,2780.6 563.9,2779.6 567.9,2779.7 571.9,2780.0 575.9,2779.8 579.9,2778.9 583.9,2779.1 587.9,2778.4 591.9,2778.1 595.9,2777.9 599.9,2778.1 603.9,2777.5 607.8,2776.9 611.8,2776.9 615.8,2776.6 619.8,2776.0 623.8,2776.3 627.9,2776.1 631.9,2775.6 635.9,2775.8 639.9,2774.5 643.9,2774.9 647.9,2774.9 651.9,2774.3 655.9,2773.9 659.9,2774.4 663.9,2773.9 667.9,2773.5 671.9,2773.0 675.9,2773.9 679.9,2772.9 683.9,2772.4 687.9,2772.2 691.9,2772.0 695.9,2772.5 699.9,2771.3 703.9,2771.2 707.9,2770.6 711.9,2770.8 715.9,2770.2 719.9,2770.0 723.9,2770.2 727.9,2770.1 731.8,2769.7 735.8,2768.4 739.8,2768.5 743.8,2768.8 747.8,2767.5 751.8,2767.4 755.8,2767.5 759.8,2767.1 763.8,2767.2 767.8,2766.9 771.8,2766.3 775.8,2765.7 779.8,2765.3 783.8,2765.0 787.8,2764.3 791.8,2764.6 795.7,2763.5 799.7,2763.8 803.7,2763.0 807.6,2761.6 811.6,2761.5 815.5,2760.9 819.5,2759.4 823.4,2759.2 827.3,2757.8 831.2,2757.9 835.2,2756.2 839.1,2756.1 843.0,2755.7 846.9,2754.7 850.9,2753.1 854.8,2752.7 858.7,2751.5 862.7,2751.0 866.6,2750.9 870.6,2750.2 874.5,2748.6 878.5,2748.4 882.4,2748.1 886.4,2747.0 890.4,2747.1 894.3,2746.7 898.3,2745.6 902.2,2744.7 906.2,2744.6 910.1,2743.5 914.0,2742.3 918.0,2741.5 921.9,2740.4 925.7,2740.2 929.6,2738.7 933.4,2737.8 937.3,2736.8 941.1,2735.8 944.9,2733.7 948.7,2732.7 952.6,2732.0 956.4,2730.7 960.2,2729.0 964.0,2728.2 967.9,2726.4 971.7,2725.2 975.5,2723.9 979.3,2723.1 983.1,2721.6 986.9,2720.6 990.6,2719.6 994.3,2717.1 997.9,2715.8 1001.5,2714.3 1005.0,2712.0 1008.4,2709.9 1011.7,2707.9 1015.0,2704.8 1018.3,2703.5 1021.5,2700.9 1024.7,2698.7 1028.0,2696.3 1031.3,2693.1 1034.6,2690.9 1037.9,2688.8 1041.4,2687.1 1044.8,2685.6 1048.3,2683.5 1051.8,2681.0 1055.3,2679.4 1058.9,2677.7 1062.5,2675.4 1066.0,2674.3 1069.6,2672.5 1073.2,2670.4 1076.7,2668.7 1080.3,2666.7 1083.8,2664.6 1087.2,2662.2 1090.7,2660.1 1094.1,2658.0 1097.4,2655.5 1100.8,2654.3 1104.0,2651.2 1107.2,2648.5 1110.4,2646.4 1113.5,2643.6 1116.6,2641.5 1119.6,2638.7 1122.7,2635.9 1125.7,2633.6 1128.6,2630.8 1131.6,2628.1 1134.5,2625.9 1137.4,2622.5 1140.2,2619.9 1143.1,2617.5 1145.9,2614.8 1148.7,2611.2 1151.5,2608.0 1154.3,2606.2 1157.1,2602.8 1160.0,2599.6 1162.8,2596.7 1165.7,2594.0 1168.6,2591.4 1171.5,2588.4 1174.4,2585.5 1177.3,2583.9 1180.2,2580.9 1182.9,2577.1 1185.6,2574.6 1188.3,2572.0 1190.9,2568.6 1193.4,2564.9 1195.9,2562.2 1198.4,2559.1 1200.9,2556.5 1203.3,2553.0 1205.8,2549.6 1208.2,2546.6 1210.6,2542.7 1212.9,2540.3 1215.3,2537.1 1217.6,2533.7 1219.9,2530.0 1222.1,2526.6 1224.4,2523.0 1226.6,2519.7 1228.8,2516.5 1230.9,2513.5 1233.1,2510.5 1235.2,2506.4 1237.3,2503.3 1239.4,2500.1 1241.5,2496.6 1243.6,2492.5 1245.7,2490.1 1247.7,2486.3 1249.8,2482.5 1251.8,2479.0 1253.8,2476.0 1255.8,2472.9 1257.8,2468.7 1259.8,2465.3 1261.8,2462.0 1263.8,2458.0 1265.7,2454.8 1267.7,2451.9 1269.6,2448.0 1271.6,2444.8 1273.5,2440.6 1275.4,2437.8 1277.3,2434.2 1279.2,2430.0 1281.1,2426.8 1283.0,2423.5 1284.8,2419.8 1286.7,2416.3 1288.5,2412.3 1290.3,2409.1 1292.1,2405.2 1293.9,2402.2 1295.7,2398.1 1297.4,2395.2 1299.2,2391.1 1300.9,2387.1 1302.5,2383.6 1304.2,2379.7 1305.9,2376.7 1307.5,2372.2 1309.1,2369.2 1310.7,2365.2 1312.3,2362.1 1313.8,2357.6 1315.4,2354.6 1316.9,2350.9 1318.4,2346.6 1319.9,2342.8 1321.4,2339.4 1322.9,2336.0 1324.4,2331.8 1325.8,2327.7 1327.3,2324.5 1328.7,2321.2 1330.2,2316.7 1331.6,2313.9 1333.0,2309.6 1334.4,2305.5 1335.8,2301.6 1337.2,2298.2 1338.6,2294.6 1339.9,2290.4 1341.3,2286.6 1342.6,2283.3 1344.0,2279.2 1345.4,2275.7 1346.7,2271.9 1348.1,2268.4 1349.4,2264.5 1350.8,2260.3 1352.2,2256.5 1353.6,2253.6 1355.0,2248.9 1356.5,2245.2 1357.9,2241.4 1359.3,2238.6 1360.8,2234.5 1362.3,2231.2 1363.8,2227.1 1365.2,2223.1 1366.7,2219.5 1368.2,2216.1 1369.7,2211.8 1371.1,2208.7 1372.6,2204.5 1374.0,2200.3 1375.4,2196.9 1376.8,2193.4 1378.2,2189.2 1379.6,2186.3 1380.9,2182.6 1382.2,2178.3 1383.4,2174.9 1384.6,2170.9 1385.8,2166.8 1386.9,2162.5 1388.1,2159.6 1389.2,2155.8 1390.2,2151.3 1391.3,2147.4 1392.4,2143.1 1393.4,2139.9 1394.5,2136.4 1395.6,2131.9 1396.7,2128.0 1397.8,2124.5 1398.9,2120.9 1400.1,2116.3 1401.3,2112.6 1402.5,2109.2 1403.7,2104.7 1404.9,2101.8 1406.2,2097.4 1407.4,2094.2 1408.7,2089.9 1410.0,2085.8 1411.2,2081.8 1412.5,2078.1 1413.8,2074.5 1415.1,2071.3 1416.4,2067.6 1417.7,2063.6 1419.0,2059.4 1420.4,2056.1 1421.7,2052.4 1423.0,2048.1 1424.4,2044.0 1425.7,2040.7 1427.1,2036.7 1428.5,2032.8 1429.9,2029.3 1431.2,2025.2 1432.6,2022.4 1434.0,2017.9 1435.3,2014.9 1436.7,2010.9 1438.0,2006.2 1439.3,2003.5 1440.6,1999.6 1441.9,1995.5 1443.2,1992.1 1444.4,1987.8 1445.6,1983.5 1446.8,1979.8 1447.9,1976.1 1449.1,1972.9 1450.1,1969.0 1451.2,1964.3 1452.2,1960.7 1453.2,1956.5 1454.2,1952.8 1455.1,1949.1 1456.0,1945.2 1457.0,1941.0 1457.9,1937.7 1458.8,1933.3 1459.7,1930.2 1460.6,1925.8 1461.5,1921.8 1462.5,1918.3 1463.4,1913.9 1464.4,1910.0 1465.4,1905.9 1466.4,1902.2 1467.5,1898.3 1468.5,1895.0 1469.6,1890.7 1470.8,1887.3 1471.9,1882.9 1473.1,1878.9 1474.2,1875.3 1475.4,1871.6 1476.6,1868.4 1477.8,1863.7 1479.0,1859.9 1480.2,1856.0 1481.4,1852.3 1482.6,1849.3 1483.8,1845.4 1484.9,1840.8 1486.1,1836.7 1487.2,1833.4 1488.3,1829.6 1489.4,1825.2 1490.4,1821.7 1491.5,1818.3 1492.5,1813.5 1493.5,1810.5 1494.5,1806.5 1495.4,1802.8 1496.4,1798.5 1497.3,1794.6 1498.3,1790.8 1499.2,1786.4 1500.1,1783.0 1501.1,1778.7 1502.0,1774.9 1502.9,1770.7 1503.8,1766.9 1504.7,1762.9 1505.6,1759.6 1506.5,1755.3 1507.4,1751.8 1508.3,1747.8 1509.2,1743.6 1510.1,1739.6 1511.0,1736.2 1512.0,1732.4 1512.9,1728.5 1513.9,1724.4 1514.8,1720.6 1515.8,1716.1 1516.7,1712.5 1517.7,1709.2 1518.7,1704.8 1519.7,1700.6 1520.7,1697.1 1521.7,1693.7 1522.7,1688.9 1523.7,1685.1 1524.7,1681.7 1525.7,1678.2 1526.7,1673.8 1527.7,1669.7 1528.7,1666.5 1529.7,1661.8 1530.7,1658.1 1531.7,1654.6 1532.7,1651.1 1533.7,1647.2 1534.7,1642.7 1535.7,1638.7 1536.7,1634.9 1537.7,1630.8 1538.6,1627.0 1539.6,1623.7 1540.5,1620.1 1541.4,1615.3 1542.3,1611.2 1543.2,1608.1 1544.1,1604.5 1545.0,1600.4" fill="none" stroke="#000000" stroke-width="6" stroke-linejoin="round" stroke-linecap="round" clip-path="url(#cb)" />
<polyline points="239.4,2831.3 243.4,2831.0 247.4,2830.6 251.4,2829.3 255.4,2829.6 259.4,2829.0 263.4,2828.8 267.4,2828.0 271.4,2827.7 275.4,2827.7 279.4,2827.0 283.4,2827.0 287.4,2826.1 291.4,2825.8 295.4,2826.1 299.4,2825.4 303.4,2825.1 307.4,2825.0 311.4,2824.1 315.4,2823.3 319.4,2823.8 323.4,2823.1 327.4,2822.8 331.4,2822.3 335.4,2822.3 339.4,2821.1 343.4,2821.1 347.3,2820.1 351.3,2819.9 355.3,2819.5 359.3,2818.6 363.3,2817.8 367.3,2817.8 371.3,2817.6 375.2,2816.9 379.2,2816.2 383.2,2816.0 387.2,2814.9 391.2,2814.3 395.2,2814.0 399.1,2814.0 403.1,2812.7 407.1,2812.1 411.1,2811.5 415.0,2810.9 419.0,2810.6 423.0,2810.3 427.0,2810.1 430.9,2808.9 434.9,2808.3 438.9,2807.6 442.9,2807.0 446.8,2807.0 450.8,2806.0 454.8,2805.0 458.7,2804.2 462.7,2804.3 466.6,2803.6 470.6,2803.0 474.5,2801.6 478.5,2801.2 482.4,2801.0 486.4,2799.8 490.3,2799.5 494.3,2797.8 498.2,2798.0 502.2,2796.1 506.1,2795.7 510.0,2794.4 513.9,2794.5 517.9,2793.5 521.8,2793.0 525.7,2791.9 529.6,2791.2 533.6,2789.8 537.5,2789.4 541.4,2788.2 545.3,2786.8 549.2,2786.6 553.1,2785.0 557.0,2783.8 560.9,2782.6 564.8,2782.1 568.7,2780.8 572.5,2780.6 576.4,2779.6 580.3,2777.6 584.1,2776.4 588.0,2775.8 591.9,2774.2 595.7,2773.5 599.5,2772.6 603.4,2770.7 607.2,2769.6 611.0,2768.9 614.8,2767.1 618.6,2765.6 622.3,2764.9 626.1,2763.4 629.8,2762.0 633.6,2760.3 637.3,2758.4 641.0,2757.2 644.7,2755.7 648.3,2753.9 652.0,2751.7 655.6,2750.1 659.2,2748.4 662.8,2747.1 666.4,2745.0 669.9,2743.1 673.5,2741.5 677.0,2738.7 680.5,2737.4 683.9,2735.0 687.4,2733.2 690.8,2731.4 694.2,2728.6 697.6,2727.3 701.0,2724.0 704.3,2722.4 707.6,2720.1 710.9,2717.4 714.2,2715.5 717.5,2713.0 720.7,2710.6 723.9,2708.5 727.1,2705.2 730.2,2703.2 733.4,2701.2 736.5,2697.9 739.6,2696.2 742.7,2692.8 745.7,2690.8 748.8,2687.5 751.8,2685.2 754.8,2682.5 757.8,2679.4 760.7,2677.4 763.6,2674.4 766.6,2671.9 769.4,2668.9 772.3,2666.1 775.2,2663.3 778.0,2660.2 780.8,2658.0 783.6,2654.2 786.4,2652.2 789.2,2649.3 792.0,2646.0 794.7,2643.4 797.5,2640.3 800.2,2637.3 802.9,2634.0 805.6,2631.0 808.3,2628.1 811.0,2625.1 813.7,2622.9 816.4,2619.1 819.1,2616.2 821.8,2613.3 824.5,2610.7 827.1,2607.3 829.8,2604.4 832.4,2601.0 835.1,2598.0 837.7,2594.8 840.3,2591.9 842.9,2588.9 845.5,2586.5 848.1,2583.0 850.6,2579.4 853.1,2576.7 855.6,2573.1 858.1,2570.5 860.5,2567.2 863.0,2564.5 865.4,2560.5 867.7,2558.0 870.1,2554.0 872.4,2551.6 874.6,2547.8 876.9,2543.8 879.1,2541.4 881.2,2537.3 883.4,2534.1 885.5,2530.4 887.6,2527.8 889.7,2523.4 891.7,2520.8 893.7,2516.9 895.7,2513.7 897.7,2509.8 899.7,2506.0 901.6,2503.5 903.6,2499.7 905.5,2495.6 907.4,2493.0 909.2,2489.4 911.1,2484.9 913.0,2481.2 914.8,2478.3 916.6,2474.2 918.4,2471.3 920.2,2467.4 922.0,2464.1 923.8,2460.3 925.5,2456.9 927.2,2453.3 929.0,2449.4 930.6,2445.8 932.3,2441.8 934.0,2437.9 935.6,2434.2 937.2,2431.4 938.8,2427.0 940.4,2423.5 941.9,2419.7 943.4,2416.3 944.9,2412.5 946.4,2409.1 947.8,2404.9 949.2,2401.0 950.6,2397.6 952.0,2394.0 953.4,2390.4 954.7,2385.9 956.0,2382.8 957.3,2379.1 958.6,2375.3 959.9,2370.4 961.1,2366.9 962.4,2363.6 963.6,2359.8 964.8,2355.0 966.0,2351.6 967.2,2348.2 968.4,2344.4 969.5,2340.3 970.7,2336.0 971.8,2332.4 973.0,2328.2 974.1,2324.6 975.2,2320.9 976.3,2317.5 977.5,2313.4 978.6,2309.3 979.7,2305.3 980.8,2301.5 982.0,2298.0 983.1,2293.9 984.2,2289.7 985.4,2286.7 986.5,2282.5 987.6,2279.1 988.8,2274.8 990.0,2271.0 991.1,2267.0 992.3,2263.3 993.5,2259.9 994.7,2256.1 995.9,2251.9 997.1,2247.8 998.4,2243.5 999.6,2240.6 1000.8,2236.3 1002.1,2232.4 1003.3,2228.2 1004.6,2224.4 1005.9,2221.0 1007.2,2217.9 1008.5,2213.8 1009.8,2210.0 1011.0,2206.1 1012.3,2201.9 1013.6,2197.9 1014.9,2194.7 1016.2,2190.2 1017.5,2187.0 1018.8,2183.1 1020.1,2179.4 1021.3,2175.0 1022.6,2171.2 1023.8,2167.8 1025.0,2163.6 1026.2,2160.4 1027.4,2156.1 1028.6,2152.7 1029.8,2149.0 1030.9,2144.9 1032.0,2141.0 1033.1,2136.7 1034.2,2133.0 1035.3,2129.9 1036.3,2125.2 1037.3,2121.3 1038.4,2117.7 1039.4,2113.9 1040.4,2110.3 1041.3,2105.8 1042.3,2102.7 1043.3,2097.7 1044.2,2094.7 1045.1,2090.5 1046.1,2087.0 1047.0,2082.2 1047.9,2078.9 1048.8,2075.3 1049.7,2071.1 1050.6,2066.5 1051.5,2063.5 1052.4,2059.7 1053.3,2054.7 1054.2,2051.7 1055.1,2046.9 1056.0,2043.0 1056.9,2039.9 1057.8,2035.9 1058.6,2032.2 1059.5,2027.9 1060.4,2023.9 1061.3,2019.7 1062.1,2016.1 1063.0,2012.7 1063.9,2008.3 1064.8,2004.7 1065.6,2000.0 1066.5,1996.7 1067.3,1992.8 1068.2,1988.0 1069.0,1985.0 1069.9,1980.3 1070.8,1976.4 1071.6,1972.3 1072.5,1969.1 1073.3,1964.6 1074.1,1961.6 1075.0,1956.5 1075.8,1953.6 1076.7,1949.6 1077.5,1945.4 1078.4,1941.5 1079.2,1937.9 1080.0,1933.7 1080.9,1929.2 1081.7,1926.1 1082.5,1921.6 1083.4,1918.0 1084.2,1914.0 1085.1,1910.5 1085.9,1906.0 1086.7,1902.6 1087.6,1897.7 1088.4,1894.1 1089.3,1890.6 1090.2,1886.6 1091.1,1882.9 1091.9,1878.3 1092.8,1875.1 1093.7,1871.1 1094.7,1866.5 1095.6,1862.5 1096.6,1859.2 1097.6,1855.8 1098.6,1851.4 1099.6,1847.3 1100.6,1843.5 1101.7,1840.0 1102.8,1835.8 1103.9,1832.0 1105.1,1828.2 1106.3,1824.8 1107.5,1820.8 1108.7,1817.0 1109.9,1812.5 1111.2,1809.1 1112.5,1805.6 1113.8,1801.6 1115.1,1798.1 1116.5,1794.3 1117.8,1789.6 1119.2,1786.2 1120.6,1782.3 1121.9,1778.3 1123.3,1774.9 1124.7,1771.7 1126.1,1767.7 1127.5,1763.1 1128.9,1759.5 1130.4,1755.9 1131.8,1752.8 1133.2,1748.5 1134.7,1744.4 1136.2,1741.2 1137.6,1737.1 1139.1,1733.1 1140.6,1730.0 1142.1,1726.8 1143.7,1722.8 1145.2,1719.1 1146.8,1714.7 1148.4,1711.5 1150.0,1707.9 1151.6,1704.3 1153.2,1700.3 1154.9,1696.2 1156.5,1693.5 1158.2,1689.1 1159.9,1686.0 1161.5,1682.0 1163.2,1678.8 1164.9,1674.6 1166.6,1670.6 1168.3,1667.4 1170.0,1663.8 1171.7,1660.6 1173.4,1656.4 1175.1,1653.1 1176.7,1649.1 1178.4,1645.9 1180.1,1641.6 1181.7,1638.8 1183.4,1635.2 1185.1,1630.4 1186.7,1627.8 1188.4,1624.0 1190.0,1620.2" fill="none" stroke="#29B2E6" stroke-width="6" stroke-linejoin="round" stroke-linecap="round" clip-path="url(#cb)" />
<polyline points="239.4,2799.6 243.4,2799.4 247.4,2798.4 251.4,2799.1 255.4,2797.9 259.4,2798.2 263.4,2797.3 267.4,2797.8 271.5,2796.8 275.5,2797.2 279.5,2797.0 283.5,2796.7 287.5,2796.0 291.5,2796.2 295.5,2796.1 299.5,2794.7 303.5,2794.8 307.5,2794.9 311.5,2794.2 315.4,2793.4 319.4,2792.8 323.4,2793.1 327.4,2791.6 331.4,2791.9 335.4,2791.4 339.3,2790.1 343.3,2789.7 347.3,2789.2 351.3,2788.9 355.2,2788.1 359.2,2788.1 363.2,2787.6 367.2,2786.2 371.1,2786.3 375.1,2784.7 379.0,2784.1 383.0,2784.1 387.0,2783.6 390.9,2782.9 394.9,2782.5 398.8,2781.6 402.8,2780.2 406.7,2780.1 410.7,2779.6 414.7,2777.9 418.6,2777.7 422.6,2776.6 426.5,2775.9 430.5,2775.5 434.4,2775.0 438.3,2774.6 442.3,2772.8 446.2,2772.5 450.2,2772.3 454.1,2771.2 458.0,2770.1 461.9,2768.9 465.9,2768.5 469.8,2767.1 473.7,2766.7 477.6,2765.8 481.5,2764.5 485.4,2764.0 489.3,2762.5 493.1,2761.6 497.0,2760.9 500.9,2759.2 504.7,2758.0 508.6,2757.4 512.5,2756.1 516.3,2755.5 520.2,2753.6 524.0,2752.6 527.8,2751.1 531.7,2750.3 535.5,2749.0 539.3,2747.9 543.2,2747.1 547.0,2745.0 550.8,2744.9 554.6,2743.3 558.4,2742.1 562.2,2740.5 566.0,2739.3 569.8,2737.8 573.6,2736.4 577.4,2734.9 581.2,2733.6 585.0,2732.3 588.7,2730.9 592.5,2730.2 596.2,2728.7 600.0,2727.0 603.7,2724.8 607.4,2723.6 611.1,2722.3 614.8,2720.9 618.5,2718.9 622.1,2717.5 625.7,2716.0 629.3,2713.5 632.9,2711.7 636.4,2710.3 639.9,2707.8 643.3,2706.2 646.8,2703.8 650.2,2701.2 653.5,2699.5 656.9,2696.9 660.2,2695.5 663.5,2693.3 666.8,2690.6 670.1,2688.7 673.4,2685.6 676.6,2683.5 679.9,2680.8 683.0,2678.2 686.2,2676.6 689.3,2673.1 692.3,2671.6 695.4,2668.5 698.4,2666.0 701.4,2662.5 704.3,2660.9 707.3,2658.1 710.3,2654.6 713.4,2652.1 716.5,2649.5 719.7,2647.5 722.9,2644.6 726.2,2643.2 729.5,2640.5 732.6,2638.2 735.7,2635.1 738.7,2632.9 741.7,2630.0 744.6,2627.4 747.5,2624.4 750.3,2622.2 753.2,2619.2 756.0,2616.4 758.8,2612.9 761.5,2609.8 764.3,2606.8 767.0,2603.8 769.7,2601.9 772.3,2598.0 774.9,2595.7 777.5,2591.8 780.0,2589.2 782.5,2585.6 785.0,2582.5 787.5,2579.8 789.9,2576.5 792.4,2573.7 794.8,2569.7 797.2,2566.5 799.7,2563.1 802.1,2560.1 804.6,2557.8 807.1,2554.2 809.6,2550.9 812.1,2547.7 814.6,2545.1 817.2,2541.9 819.7,2538.1 822.3,2534.9 824.9,2532.0 827.4,2529.6 830.0,2526.5 832.6,2522.8 835.1,2519.7 837.7,2516.7 840.3,2514.1 842.9,2511.1 845.5,2507.4 848.0,2504.4 850.6,2501.2 853.2,2499.0 855.8,2495.5 858.3,2492.8 860.9,2488.9 863.5,2486.3 866.0,2483.1 868.6,2480.5 871.1,2476.7 873.7,2473.4 876.2,2471.0 878.7,2468.0 881.1,2464.3 883.6,2460.9 886.0,2457.4 888.4,2454.6 890.9,2452.1 893.4,2448.2 895.9,2445.2 898.3,2442.1 900.8,2438.6 903.2,2435.2 905.5,2432.4 907.8,2429.6 910.0,2426.2 912.0,2422.0 914.0,2419.1 915.9,2415.6 917.7,2411.7 919.4,2407.8 921.1,2404.0 922.8,2401.0 924.5,2397.3 926.2,2393.1 927.9,2389.4 929.6,2385.7 931.3,2382.9 933.0,2379.4 934.6,2375.3 936.3,2371.7 937.9,2368.2 939.6,2363.9 941.2,2360.6 942.9,2356.9 944.6,2353.8 946.3,2349.3 948.0,2346.5 949.7,2342.0 951.4,2338.9 953.1,2335.6 954.7,2331.0 956.4,2327.8 958.1,2323.6 959.7,2320.5 961.3,2316.8 962.9,2313.7 964.4,2309.4 965.9,2306.2 967.3,2302.2 968.6,2298.5 969.9,2294.2 971.2,2290.0 972.4,2286.9 973.6,2282.4 974.8,2279.2 976.0,2274.8 977.2,2271.5 978.5,2267.9 979.7,2264.3 981.0,2259.6 982.4,2255.8 983.8,2252.3 985.1,2249.2 986.6,2244.6 988.0,2241.1 989.4,2237.2 990.8,2233.1 992.2,2229.9 993.7,2225.9 995.0,2222.3 996.4,2218.9 997.8,2215.0 999.1,2210.7 1000.4,2207.4 1001.7,2203.4 1002.9,2199.9 1004.1,2195.1 1005.3,2191.6 1006.4,2188.3 1007.6,2184.3 1008.7,2180.3 1009.8,2176.5 1010.9,2172.8 1012.0,2169.0 1013.1,2165.3 1014.2,2161.4 1015.2,2157.7 1016.3,2153.4 1017.4,2149.0 1018.5,2145.4 1019.6,2142.2 1020.8,2138.2 1021.9,2134.2 1023.1,2129.7 1024.3,2126.0 1025.5,2122.7 1026.8,2118.6 1028.1,2114.6 1029.4,2111.7 1030.8,2107.0 1032.1,2104.1 1033.4,2099.9 1034.7,2096.5 1035.9,2092.5 1037.0,2087.9 1038.2,2084.1 1039.3,2081.0 1040.3,2076.6 1041.4,2072.8 1042.5,2069.3 1043.5,2065.2 1044.6,2061.5 1045.6,2057.4 1046.6,2053.2 1047.7,2049.9 1048.8,2045.3 1049.9,2042.1 1051.0,2038.4 1052.1,2033.7 1053.2,2029.7 1054.3,2026.9 1055.4,2022.2 1056.5,2018.7 1057.6,2014.6 1058.8,2010.6 1059.9,2006.9 1061.1,2002.8 1062.2,1999.9 1063.4,1996.0 1064.7,1992.2 1065.9,1987.6 1067.1,1984.0 1068.4,1979.9 1069.7,1977.0 1071.0,1973.3 1072.3,1969.5 1073.6,1965.6 1074.9,1961.5 1076.2,1957.6 1077.4,1953.3 1078.7,1949.4 1079.9,1946.3 1081.2,1942.9 1082.4,1939.1 1083.6,1934.6 1084.8,1930.9 1086.1,1927.5 1087.3,1922.9 1088.5,1919.6 1089.7,1915.7 1091.0,1911.6 1092.2,1907.8 1093.5,1903.7 1094.8,1899.9 1096.1,1896.3 1097.4,1893.3 1098.8,1889.3 1100.1,1884.6 1101.5,1881.7 1102.9,1877.2 1104.3,1874.0 1105.8,1870.6 1107.2,1866.9 1108.7,1863.1 1110.1,1859.5 1111.6,1855.3 1113.1,1850.9 1114.6,1847.4 1116.1,1844.2 1117.6,1840.4 1119.1,1837.0 1120.6,1832.4 1122.1,1829.6 1123.6,1825.4 1125.0,1821.7 1126.3,1817.4 1127.6,1813.8 1128.9,1810.2 1130.1,1806.7 1131.2,1802.7 1132.4,1798.9 1133.7,1795.1 1135.0,1790.9 1136.6,1787.2 1138.4,1784.4 1140.4,1780.5 1142.3,1776.9 1144.2,1773.8 1146.1,1770.2 1147.9,1766.4 1149.7,1763.1 1151.5,1758.8 1153.2,1755.8 1154.7,1751.7 1156.2,1747.8 1157.5,1744.0 1158.9,1739.8 1160.3,1737.0 1162.0,1733.5 1163.8,1729.2 1165.9,1726.4 1168.1,1722.1 1170.6,1719.4 1173.3,1717.0 1176.3,1714.0 1179.6,1711.1 1183.0,1709.5 1186.3,1706.6 1189.3,1704.7 1191.6,1701.2 1193.0,1697.6 1194.2,1693.8 1195.9,1689.5 1198.6,1687.5 1202.1,1685.4 1206.0,1684.4 1209.9,1682.7 1213.8,1681.8 1217.7,1681.4 1221.4,1680.2 1224.9,1677.7 1228.2,1675.0 1231.5,1673.0 1235.1,1671.1 1239.1,1671.1 1243.0,1672.6 1246.9,1673.1 1250.9,1672.2 1254.6,1671.5 1257.9,1669.2 1261.2,1666.4 1264.6,1663.7 1268.1,1662.6 1271.9,1660.8 1275.8,1659.5 1279.7,1659.7 1283.7,1658.4 1287.6,1657.6 1291.6,1657.1 1295.6,1657.3 1299.5,1655.8 1303.4,1655.0 1307.3,1653.7 1311.1,1652.4 1315.0,1651.2 1318.7,1649.7 1322.3,1648.5 1325.8,1646.4 1329.1,1644.4 1332.2,1642.0 1335.1,1639.3 1337.9,1635.5 1340.6,1633.0 1343.1,1629.4 1345.5,1626.4 1347.8,1623.2 1350.0,1619.9" fill="none" stroke="#8014D4" stroke-width="6" stroke-linejoin="round" stroke-linecap="round" clip-path="url(#cb)" />
<polyline points="239.4,2782.5 243.4,2782.9 247.4,2782.5 251.4,2781.6 255.4,2782.1 259.4,2781.6 263.4,2780.6 267.5,2781.4 271.5,2780.3 275.5,2780.1 279.5,2779.9 283.5,2779.8 287.5,2778.9 291.5,2779.2 295.5,2779.0 299.5,2778.2 303.5,2778.1 307.4,2777.5 311.4,2777.2 315.4,2776.0 319.4,2775.7 323.4,2775.3 327.4,2774.3 331.3,2774.7 335.3,2773.7 339.3,2772.4 343.2,2772.4 347.2,2771.5 351.1,2770.5 355.1,2769.8 359.0,2769.4 363.0,2768.2 366.9,2768.0 370.9,2767.2 374.8,2765.9 378.7,2765.9 382.6,2764.1 386.6,2763.4 390.5,2763.3 394.4,2761.7 398.3,2761.0 402.2,2760.2 406.1,2759.1 410.0,2758.2 413.9,2757.3 417.8,2756.3 421.7,2754.7 425.6,2754.6 429.4,2752.9 433.3,2751.6 437.2,2751.0 441.0,2750.4 444.9,2749.0 448.8,2747.7 452.6,2746.6 456.5,2745.1 460.3,2744.5 464.1,2743.0 468.0,2741.4 471.8,2740.3 475.6,2739.0 479.4,2738.5 483.3,2737.5 487.1,2736.0 490.9,2734.1 494.7,2732.7 498.5,2732.4 502.3,2730.4 506.0,2728.8 509.8,2727.9 513.6,2726.6 517.4,2725.2 521.2,2723.7 524.9,2722.1 528.7,2721.0 532.5,2719.5 536.2,2718.4 540.0,2716.7 543.7,2715.2 547.5,2714.5 551.3,2712.1 555.0,2711.4 558.8,2709.6 562.5,2708.6 566.3,2707.0 570.0,2705.4 573.7,2704.0 577.5,2702.1 581.2,2700.3 584.9,2699.7 588.6,2697.6 592.3,2695.8 596.0,2695.1 599.7,2693.2 603.4,2690.9 607.0,2689.8 610.6,2687.6 614.2,2686.7 617.8,2684.1 621.3,2683.0 624.8,2680.7 628.3,2678.1 631.8,2676.4 635.2,2675.0 638.6,2672.5 641.9,2669.6 645.2,2667.6 648.5,2665.2 651.7,2662.6 654.9,2660.7 658.1,2658.4 661.2,2655.3 664.3,2653.1 667.4,2650.9 670.4,2648.3 673.4,2644.7 676.3,2641.9 679.3,2640.2 682.2,2636.7 685.1,2633.8 688.0,2631.7 690.9,2628.3 693.7,2626.0 696.5,2623.1 699.4,2619.8 702.2,2617.1 705.0,2614.0 707.8,2611.8 710.5,2608.2 713.3,2605.3 716.1,2603.1 718.8,2599.5 721.5,2596.7 724.3,2593.9 727.0,2590.3 729.7,2587.7 732.4,2585.3 735.1,2582.6 737.8,2578.8 740.5,2576.0 743.2,2572.5 745.8,2570.0 748.5,2566.9 751.2,2564.0 753.8,2560.8 756.5,2557.8 759.1,2555.5 761.8,2552.3 764.4,2548.8 767.0,2545.4 769.7,2542.4 772.3,2539.4 774.9,2536.4 777.6,2533.9 780.2,2530.8 782.8,2527.3 785.5,2525.1 788.1,2521.9 790.7,2518.9 793.4,2516.1 796.0,2512.3 798.6,2510.0 801.3,2507.1 803.9,2504.0 806.5,2499.9 809.1,2497.8 811.8,2494.9 814.4,2490.8 817.0,2488.7 819.6,2485.6 822.2,2481.5 824.7,2479.3 827.3,2476.2 829.8,2473.1 832.4,2469.2 834.9,2467.2 837.4,2462.9 839.9,2459.8 842.3,2457.7 844.8,2453.9 847.2,2450.3 849.6,2447.4 851.9,2444.4 854.3,2440.7 856.6,2438.2 858.9,2434.6 861.2,2431.0 863.4,2427.6 865.6,2423.9 867.8,2421.6 869.9,2417.4 872.1,2414.8 874.1,2410.9 876.2,2407.4 878.3,2403.5 880.3,2400.4 882.2,2396.5 884.2,2393.4 886.1,2390.1 888.0,2386.9 889.9,2382.5 891.8,2378.9 893.6,2376.0 895.4,2371.7 897.2,2368.2 899.0,2364.9 900.7,2361.2 902.4,2358.3 904.1,2353.5 905.8,2350.8 907.5,2346.7 909.2,2342.7 910.8,2339.1 912.4,2336.2 914.0,2331.7 915.6,2328.3 917.2,2324.1 918.8,2321.0 920.3,2317.5 921.8,2313.9 923.4,2309.7 924.9,2306.1 926.4,2302.8 927.9,2299.1 929.3,2294.9 930.8,2290.7 932.3,2288.0 933.7,2283.5 935.1,2279.9 936.6,2275.7 938.0,2271.9 939.4,2268.2 940.8,2265.0 942.2,2260.9 943.6,2257.8 945.0,2253.2 946.4,2250.1 947.8,2245.5 949.1,2242.2 950.5,2239.1 951.9,2234.5 953.3,2230.8 954.6,2226.7 956.0,2223.9 957.4,2219.7 958.7,2215.6 960.1,2212.2 961.4,2208.1 962.8,2205.0 964.1,2200.7 965.5,2196.5 966.8,2192.9 968.1,2188.9 969.5,2186.0 970.8,2181.4 972.1,2178.1 973.4,2174.4 974.8,2170.0 976.1,2166.9 977.4,2163.1 978.7,2159.6 980.0,2155.8 981.3,2152.1 982.6,2147.8 983.9,2143.9 985.2,2140.0 986.5,2135.9 987.8,2132.6 989.1,2129.3 990.4,2124.9 991.7,2121.6 993.0,2117.0 994.3,2113.4 995.6,2109.6 996.9,2106.5 998.1,2101.9 999.4,2098.6 1000.7,2094.1 1001.9,2091.0 1003.2,2086.8 1004.4,2083.6 1005.6,2078.6 1006.9,2075.1 1008.1,2072.0 1009.3,2067.6 1010.5,2063.6 1011.6,2060.5 1012.8,2056.1 1014.0,2052.8 1015.2,2048.6 1016.3,2044.2 1017.5,2040.4 1018.6,2037.4 1019.8,2033.6 1020.9,2028.9 1022.0,2026.0 1023.2,2022.0 1024.3,2017.8 1025.4,2014.2 1026.5,2010.1 1027.7,2005.6 1028.8,2002.1 1029.9,1998.3 1031.0,1995.1 1032.1,1990.5 1033.2,1987.1 1034.3,1983.2 1035.4,1978.7 1036.5,1975.2 1037.6,1971.5 1038.7,1967.8 1039.8,1963.5 1040.8,1960.4 1041.9,1956.3 1042.9,1951.5 1044.0,1948.7 1045.0,1944.4 1046.0,1941.0 1047.0,1936.2 1048.0,1933.0 1049.0,1929.0 1050.0,1924.8 1051.0,1920.8 1052.0,1917.2 1052.9,1913.8 1053.8,1909.5 1054.8,1905.5 1055.7,1901.7 1056.6,1898.0 1057.5,1893.7 1058.4,1890.0 1059.3,1885.3 1060.2,1882.3 1061.0,1878.5 1061.9,1874.1 1062.8,1870.2 1063.7,1866.7 1064.5,1862.4 1065.4,1858.8 1066.3,1854.5 1067.2,1850.6 1068.0,1847.1 1068.9,1843.2 1069.8,1838.9 1070.7,1834.9 1071.7,1831.0 1072.6,1827.0 1073.6,1823.0 1074.5,1818.9 1075.5,1815.1 1076.5,1811.2 1077.5,1808.1 1078.5,1803.6 1079.6,1800.3 1080.7,1795.9 1081.7,1792.7 1082.8,1788.4 1083.9,1784.2 1085.1,1780.4 1086.2,1776.4 1087.3,1772.6 1088.5,1768.7 1089.6,1764.9 1090.8,1761.2 1092.0,1756.9 1093.2,1754.2 1094.4,1750.2 1095.6,1745.8 1096.8,1742.5 1098.0,1737.7 1099.1,1734.6 1100.3,1730.7 1101.5,1727.2 1102.7,1723.5 1103.9,1719.3 1105.1,1715.7 1106.3,1711.7 1107.5,1707.1 1108.7,1703.3 1109.9,1699.5 1111.1,1696.4 1112.3,1692.3 1113.5,1688.3 1114.7,1684.6 1115.9,1681.3 1117.1,1677.0 1118.3,1673.5 1119.5,1669.1 1120.7,1665.7 1121.9,1662.0 1123.1,1657.4 1124.2,1654.4 1125.4,1649.8 1126.6,1645.9 1127.7,1643.0 1128.9,1638.3 1130.0,1634.6 1131.1,1631.4 1132.3,1626.7 1133.4,1623.4 1134.5,1619.6 1135.6,1614.9 1136.7,1611.1 1137.8,1608.3 1138.9,1604.3 1140.0,1600.2" fill="none" stroke="#F28C28" stroke-width="6" stroke-linejoin="round" stroke-linecap="round" clip-path="url(#cb)" />
<polyline points="239.4,2778.7 243.4,2777.7 247.4,2777.4 251.4,2777.5 255.4,2776.5 259.4,2777.0 263.4,2776.6 267.4,2775.4 271.4,2775.8 275.4,2775.2 279.4,2774.9 283.3,2774.9 287.3,2774.5 291.3,2773.4 295.3,2773.4 299.3,2772.9 303.3,2772.6 307.3,2771.0 311.2,2771.6 315.2,2770.2 319.2,2769.5 323.2,2769.5 327.1,2769.2 331.1,2768.7 335.0,2767.4 339.0,2767.3 343.0,2765.7 346.9,2766.1 350.9,2764.6 354.8,2764.2 358.8,2762.9 362.7,2762.0 366.6,2761.2 370.6,2761.1 374.5,2760.3 378.4,2759.8 382.3,2758.9 386.2,2757.6 390.2,2757.2 394.1,2755.5 398.0,2755.4 401.9,2753.7 405.8,2753.6 409.7,2752.0 413.6,2751.0 417.4,2750.1 421.3,2748.6 425.2,2747.6 429.1,2747.1 432.9,2746.2 436.8,2744.3 440.7,2743.7 444.5,2742.5 448.4,2741.9 452.2,2741.0 456.1,2738.8 459.9,2738.1 463.7,2736.4 467.6,2736.0 471.4,2735.0 475.2,2733.5 479.0,2732.1 482.8,2730.2 486.6,2728.9 490.4,2727.8 494.2,2726.3 498.0,2725.1 501.8,2724.7 505.6,2722.7 509.3,2722.0 513.1,2720.5 516.9,2719.1 520.7,2717.9 524.4,2716.3 528.2,2714.5 532.0,2713.2 535.7,2711.7 539.5,2709.9 543.2,2708.5 547.0,2707.7 550.7,2706.2 554.5,2705.4 558.2,2703.5 562.0,2702.3 565.7,2700.5 569.5,2699.1 573.2,2698.0 576.9,2695.5 580.7,2694.0 584.4,2693.0 588.1,2691.3 591.8,2690.0 595.5,2687.9 599.2,2686.5 602.8,2684.7 606.5,2683.7 610.1,2681.3 613.7,2679.5 617.3,2678.5 620.9,2676.3 624.4,2673.9 627.9,2673.1 631.4,2670.5 634.8,2669.0 638.2,2666.5 641.6,2664.2 644.9,2661.8 648.2,2659.2 651.4,2657.9 654.7,2654.8 657.9,2652.2 661.0,2649.6 664.1,2647.6 667.2,2645.5 670.3,2642.2 673.3,2640.0 676.3,2637.2 679.3,2634.3 682.2,2631.8 685.2,2629.1 688.1,2626.6 691.0,2622.8 693.8,2620.1 696.7,2617.4 699.5,2614.4 702.4,2611.8 705.2,2609.1 708.0,2606.0 710.8,2603.4 713.6,2600.0 716.3,2598.1 719.1,2595.0 721.9,2591.3 724.6,2588.5 727.3,2586.3 730.1,2582.6 732.8,2580.3 735.5,2576.5 738.2,2574.3 740.9,2571.3 743.5,2568.2 746.2,2565.5 748.9,2562.7 751.5,2559.7 754.2,2555.6 756.8,2553.1 759.5,2549.6 762.1,2547.4 764.7,2543.7 767.4,2540.6 770.0,2537.5 772.6,2534.4 775.2,2531.6 777.9,2528.5 780.5,2525.9 783.1,2523.2 785.7,2520.0 788.3,2516.5 791.0,2513.4 793.6,2511.0 796.2,2507.3 798.8,2504.8 801.5,2502.1 804.1,2498.6 806.7,2495.4 809.3,2491.9 811.9,2489.1 814.6,2486.9 817.2,2482.8 819.8,2479.7 822.4,2477.3 825.0,2473.9 827.6,2471.2 830.2,2467.7 832.7,2464.6 835.3,2461.5 837.8,2459.0 840.3,2455.8 842.8,2451.9 845.3,2449.5 847.7,2446.4 850.1,2442.8 852.5,2439.2 854.8,2435.8 857.1,2433.7 859.4,2429.4 861.7,2425.9 863.9,2422.6 866.1,2420.3 868.2,2417.0 870.4,2413.3 872.5,2410.1 874.5,2406.5 876.5,2402.2 878.5,2399.1 880.5,2395.9 882.4,2392.4 884.4,2389.0 886.2,2385.4 888.1,2381.1 890.0,2377.9 891.8,2375.0 893.6,2371.0 895.3,2366.9 897.1,2363.5 898.8,2360.6 900.6,2356.1 902.3,2352.3 903.9,2349.5 905.6,2345.7 907.3,2341.7 908.9,2338.1 910.5,2334.2 912.1,2331.0 913.7,2326.9 915.2,2323.5 916.8,2320.2 918.3,2316.2 919.8,2312.1 921.3,2308.1 922.8,2304.8 924.3,2300.6 925.7,2297.7 927.2,2293.6 928.6,2289.8 930.0,2285.9 931.3,2282.6 932.7,2278.5 934.0,2274.7 935.4,2270.6 936.7,2266.7 938.0,2262.9 939.3,2259.3 940.6,2256.1 941.8,2252.2 943.1,2247.8 944.3,2243.8 945.6,2240.3 946.8,2237.0 948.1,2232.6 949.3,2229.1 950.5,2224.8 951.7,2221.8 953.0,2217.7 954.2,2213.8 955.4,2210.6 956.6,2206.2 957.9,2202.1 959.1,2198.8 960.3,2195.3 961.6,2191.1 962.8,2187.6 964.1,2183.4 965.3,2179.2 966.6,2175.8 967.8,2171.3 969.1,2168.6 970.4,2164.3 971.7,2159.9 972.9,2156.4 974.2,2153.0 975.5,2149.5 976.8,2145.8 978.1,2141.3 979.4,2138.1 980.7,2133.9 982.1,2130.2 983.4,2126.7 984.7,2122.8 986.0,2118.8 987.3,2114.3 988.6,2110.9 989.9,2107.6 991.2,2103.4 992.5,2099.2 993.7,2096.3 995.0,2091.9 996.2,2088.6 997.4,2084.3 998.6,2080.5 999.8,2076.9 1000.9,2073.0 1002.0,2069.6 1003.1,2065.3 1004.2,2061.2 1005.2,2057.6 1006.3,2053.9 1007.3,2050.0 1008.3,2045.3 1009.2,2042.0 1010.2,2038.5 1011.1,2034.1 1012.0,2029.8 1012.9,2025.9 1013.8,2022.5 1014.7,2018.9 1015.6,2014.9 1016.4,2010.5 1017.3,2006.2 1018.2,2002.6 1019.0,1999.0 1019.9,1995.0 1020.8,1991.0 1021.7,1986.8 1022.6,1983.2 1023.5,1978.9 1024.4,1975.6 1025.3,1971.1 1026.2,1967.2 1027.1,1964.3 1028.0,1959.3 1029.0,1955.7 1029.9,1952.0 1030.9,1947.6 1031.8,1944.1 1032.8,1940.8 1033.7,1936.8 1034.7,1932.3 1035.6,1928.5 1036.6,1924.5 1037.5,1921.2 1038.4,1916.7 1039.4,1913.3 1040.3,1909.7 1041.2,1905.0 1042.2,1901.5 1043.1,1897.8 1044.0,1893.6 1044.9,1890.1 1045.8,1885.4 1046.7,1881.7 1047.6,1877.7 1048.5,1873.7 1049.3,1870.6 1050.2,1865.6 1051.1,1862.0 1051.9,1858.9 1052.8,1854.1 1053.7,1850.7 1054.5,1847.0 1055.4,1842.3 1056.3,1838.4 1057.2,1835.0 1058.0,1830.4 1058.9,1827.1 1059.8,1823.5 1060.7,1819.6 1061.6,1815.7 1062.4,1811.3 1063.3,1807.8 1064.2,1804.0 1065.1,1799.8 1066.1,1795.4 1067.0,1792.1 1067.9,1787.9 1068.8,1783.9 1069.8,1779.7 1070.7,1776.5 1071.6,1772.5 1072.6,1767.8 1073.5,1764.1 1074.5,1760.0 1075.4,1756.7 1076.4,1753.0 1077.3,1748.7 1078.3,1744.6 1079.2,1740.9 1080.2,1737.3 1081.1,1732.7 1082.1,1728.9 1083.1,1725.7 1084.0,1722.1 1085.0,1717.8 1085.9,1713.3 1086.9,1709.9 1087.8,1705.7 1088.8,1702.2 1089.7,1697.9 1090.7,1694.0 1091.6,1691.0 1092.5,1686.3 1093.4,1682.5 1094.3,1679.3 1095.2,1674.7 1096.1,1670.7 1097.0,1666.7 1097.9,1662.6 1098.7,1659.5 1099.6,1655.7 1100.4,1651.4 1101.2,1647.5 1102.0,1642.9 1102.8,1638.9 1103.6,1635.4 1104.3,1631.1 1105.1,1627.9 1105.8,1624.0 1106.5,1620.2 1107.2,1615.7 1107.9,1611.9 1108.6,1607.4 1109.3,1603.9 1110.0,1600.5" fill="none" stroke="#0A7A28" stroke-width="6" stroke-linejoin="round" stroke-linecap="round" clip-path="url(#cb)" />
<polyline points="239.4,2757.6 243.4,2757.0 247.3,2756.7 251.3,2755.1 255.3,2754.3 259.2,2754.6 263.2,2753.4 267.2,2752.8 271.1,2752.7 275.1,2751.2 279.0,2751.4 283.0,2750.3 286.9,2749.1 290.9,2749.4 294.9,2748.3 298.8,2747.0 302.8,2747.2 306.7,2746.4 310.7,2745.6 314.6,2744.8 318.5,2744.4 322.5,2742.5 326.4,2742.9 330.4,2741.7 334.3,2740.4 338.2,2740.0 342.2,2738.9 346.1,2738.4 350.0,2737.7 354.0,2736.6 357.9,2735.3 361.8,2734.8 365.7,2733.8 369.6,2733.5 373.6,2732.8 377.5,2731.7 381.4,2730.6 385.3,2729.2 389.2,2729.0 393.1,2727.6 397.1,2727.5 401.0,2725.6 404.9,2725.7 408.8,2723.6 412.7,2723.6 416.6,2722.1 420.5,2721.4 424.4,2720.3 428.3,2719.2 432.2,2718.4 436.1,2717.8 440.0,2716.3 443.8,2715.3 447.7,2714.7 451.6,2713.0 455.5,2712.1 459.3,2711.2 463.2,2710.1 467.1,2708.6 470.9,2708.2 474.8,2706.7 478.6,2705.1 482.4,2704.2 486.3,2702.6 490.1,2701.7 493.9,2700.2 497.7,2699.1 501.5,2698.2 505.3,2697.0 509.1,2695.3 512.9,2694.1 516.7,2692.8 520.4,2691.5 524.2,2690.5 528.0,2688.3 531.7,2687.5 535.5,2685.8 539.2,2684.8 542.9,2683.0 546.7,2680.7 550.4,2679.3 554.1,2678.7 557.8,2676.5 561.5,2675.3 565.2,2673.1 568.9,2672.1 572.6,2670.3 576.2,2668.7 579.9,2666.5 583.5,2665.9 587.2,2664.1 590.8,2662.3 594.4,2660.4 598.0,2658.1 601.6,2656.2 605.1,2655.1 608.6,2652.6 612.1,2650.7 615.6,2649.3 619.1,2646.6 622.5,2645.3 625.9,2642.2 629.3,2640.8 632.7,2638.0 636.0,2635.5 639.3,2633.6 642.5,2631.7 645.7,2628.4 648.9,2626.6 652.1,2624.4 655.2,2620.9 658.3,2618.9 661.4,2616.1 664.5,2613.7 667.5,2611.5 670.5,2608.3 673.4,2605.5 676.4,2602.6 679.3,2600.6 682.2,2597.1 685.1,2595.0 688.0,2592.5 690.9,2589.3 693.7,2586.7 696.6,2583.0 699.4,2580.7 702.2,2577.8 705.0,2574.3 707.8,2571.8 710.6,2568.8 713.3,2565.6 716.1,2563.0 718.8,2559.7 721.5,2557.8 724.2,2553.9 727.0,2551.4 729.6,2548.6 732.3,2544.8 735.0,2542.9 737.7,2539.9 740.3,2536.5 743.0,2533.4 745.6,2530.8 748.3,2527.5 750.9,2524.0 753.5,2521.8 756.2,2517.9 758.8,2515.3 761.4,2512.2 764.0,2509.4 766.6,2505.9 769.2,2503.1 771.8,2499.6 774.4,2497.1 777.0,2493.4 779.6,2490.5 782.2,2487.7 784.8,2484.9 787.4,2482.0 789.9,2479.0 792.5,2475.3 795.1,2471.8 797.7,2469.3 800.3,2466.2 802.8,2463.3 805.4,2459.4 807.9,2457.2 810.4,2453.3 813.0,2451.0 815.5,2448.0 817.9,2444.3 820.4,2441.0 822.9,2438.1 825.3,2434.3 827.7,2431.7 830.1,2428.7 832.4,2425.5 834.7,2422.0 837.0,2418.7 839.3,2415.7 841.6,2411.7 843.8,2408.3 846.0,2405.7 848.1,2401.2 850.3,2398.1 852.4,2395.2 854.5,2392.0 856.5,2388.4 858.6,2384.2 860.6,2381.5 862.6,2377.3 864.6,2374.2 866.6,2370.8 868.5,2367.7 870.5,2363.3 872.4,2359.9 874.3,2356.3 876.2,2352.8 878.1,2349.1 880.0,2345.9 881.9,2342.1 883.8,2338.6 885.6,2335.7 887.5,2331.3 889.3,2328.1 891.1,2324.0 892.9,2320.4 894.6,2317.8 896.4,2314.1 898.1,2310.6 899.8,2306.0 901.4,2303.1 903.0,2298.9 904.6,2295.8 906.2,2291.8 907.7,2287.9 909.2,2284.4 910.7,2280.3 912.1,2276.9 913.5,2273.5 914.9,2269.5 916.3,2265.8 917.6,2262.3 918.9,2257.5 920.2,2254.5 921.5,2250.9 922.8,2246.6 924.0,2242.5 925.2,2239.0 926.5,2234.6 927.7,2231.5 928.9,2227.7 930.0,2223.0 931.2,2219.7 932.4,2215.9 933.6,2212.3 934.8,2208.1 935.9,2203.8 937.1,2199.9 938.3,2196.4 939.4,2192.3 940.6,2188.6 941.7,2185.3 942.9,2181.8 944.1,2177.1 945.2,2173.7 946.4,2169.7 947.5,2166.1 948.7,2162.6 949.9,2158.1 951.0,2154.5 952.2,2150.5 953.3,2146.3 954.4,2142.8 955.6,2139.5 956.7,2135.4 957.8,2130.9 958.9,2127.2 960.0,2123.2 961.1,2119.6 962.2,2115.8 963.3,2111.5 964.3,2108.0 965.4,2104.8 966.4,2100.2 967.4,2096.6 968.4,2093.1 969.4,2088.5 970.4,2084.6 971.4,2080.8 972.4,2076.6 973.4,2072.6 974.3,2068.8 975.3,2065.5 976.3,2061.7 977.2,2057.8 978.2,2053.2 979.1,2049.4 980.1,2046.3 981.0,2042.1 981.9,2037.8 982.9,2034.4 983.8,2029.9 984.7,2025.8 985.6,2022.8 986.6,2018.9 987.5,2014.5 988.4,2010.5 989.3,2007.2 990.2,2002.9 991.1,1999.4 992.0,1994.4 992.8,1991.2 993.7,1986.8 994.6,1983.5 995.5,1979.8 996.3,1974.8 997.2,1971.6 998.0,1967.9 998.8,1963.6 999.7,1959.2 1000.5,1955.7 1001.3,1952.0 1002.1,1947.9 1002.9,1944.0 1003.7,1939.8 1004.5,1935.8 1005.3,1931.8 1006.1,1928.5 1006.9,1923.7 1007.7,1920.4 1008.5,1916.6 1009.3,1912.4 1010.0,1908.4 1010.8,1904.9 1011.6,1900.6 1012.4,1896.1 1013.2,1893.0 1013.9,1889.4 1014.7,1885.4 1015.5,1881.3 1016.2,1876.4 1017.0,1873.1 1017.8,1868.7 1018.5,1865.5 1019.3,1860.8 1020.0,1857.3 1020.8,1853.8 1021.5,1849.0 1022.3,1845.7 1023.0,1842.0 1023.7,1837.4 1024.4,1833.6 1025.2,1829.1 1025.9,1826.2 1026.6,1821.3 1027.3,1818.1 1028.0,1814.1 1028.7,1809.6 1029.4,1806.5 1030.1,1802.5 1030.8,1798.1 1031.4,1793.9 1032.1,1790.1 1032.8,1786.0 1033.5,1782.4 1034.2,1778.8 1034.9,1773.8 1035.5,1770.0 1036.2,1766.4 1036.9,1762.5 1037.6,1758.7 1038.3,1755.0 1039.0,1750.9 1039.7,1746.4 1040.4,1742.5 1041.1,1738.7 1041.9,1735.2 1042.6,1730.4 1043.3,1726.4 1044.0,1722.6 1044.7,1719.2 1045.4,1715.1 1046.1,1710.9 1046.8,1707.0 1047.5,1703.3 1048.2,1699.6 1048.9,1694.6 1049.6,1691.2 1050.3,1686.7 1050.9,1683.6 1051.6,1679.3 1052.2,1675.9 1052.9,1671.6 1053.5,1667.8 1054.2,1663.5 1054.8,1659.9 1055.5,1655.3 1056.1,1651.2 1056.7,1647.7 1057.3,1643.7 1057.9,1639.7 1058.5,1636.1 1059.2,1631.8 1059.8,1628.0 1060.4,1624.0 1061.0,1619.8 1061.6,1616.2 1062.2,1612.1 1062.8,1608.1 1063.4,1604.4 1064.0,1600.2" fill="none" stroke="#E8197D" stroke-width="6" stroke-linejoin="round" stroke-linecap="round" clip-path="url(#cb)" />
<line x1="693.8" y1="2882" x2="888.6" y2="2345" stroke="#E8197D" stroke-width="7" stroke-dasharray="7 11.5" clip-path="url(#cb2)"/>
<line x1="757" y1="2876" x2="1002" y2="2073" stroke="#F28C28" stroke-width="7" stroke-dasharray="7 11.5" clip-path="url(#cb2)"/>
<line x1="777" y1="2870" x2="1005" y2="2073" stroke="#0A7A28" stroke-width="7" stroke-dasharray="7 11.5" clip-path="url(#cb2)"/>
<line x1="822" y1="2869" x2="1036" y2="2082" stroke="#8014D4" stroke-width="7" stroke-dasharray="7 11.5" clip-path="url(#cb2)"/>
<line x1="831" y1="2871" x2="1042" y2="2100" stroke="#29B2E6" stroke-width="7" stroke-dasharray="7 11.5" clip-path="url(#cb2)"/>
<line x1="875" y1="2869" x2="1051" y2="2389" stroke="#8C8C8C" stroke-width="7" stroke-dasharray="7 11.5" clip-path="url(#cb2)"/>
<line x1="1160.8" y1="2857.5" x2="1415.5" y2="2098" stroke="#000000" stroke-width="7" stroke-dasharray="7 11.5" clip-path="url(#cb2)"/>
<line x1="239.0" y1="2871.0" x2="239.0" y2="2893.0" stroke="#000" stroke-width="7"/>
<line x1="398.1" y1="2871.0" x2="398.1" y2="2893.0" stroke="#000" stroke-width="7"/>
<line x1="557.1" y1="2871.0" x2="557.1" y2="2893.0" stroke="#000" stroke-width="7"/>
<line x1="716.2" y1="2871.0" x2="716.2" y2="2893.0" stroke="#000" stroke-width="7"/>
<line x1="875.2" y1="2871.0" x2="875.2" y2="2893.0" stroke="#000" stroke-width="7"/>
<line x1="1034.3" y1="2871.0" x2="1034.3" y2="2893.0" stroke="#000" stroke-width="7"/>
<line x1="1193.3" y1="2871.0" x2="1193.3" y2="2893.0" stroke="#000" stroke-width="7"/>
<line x1="1352.4" y1="2871.0" x2="1352.4" y2="2893.0" stroke="#000" stroke-width="7"/>
<line x1="1511.4" y1="2871.0" x2="1511.4" y2="2893.0" stroke="#000" stroke-width="7"/>
<line x1="1670.5" y1="2871.0" x2="1670.5" y2="2893.0" stroke="#000" stroke-width="7"/>
<line x1="318.5" y1="2871.0" x2="318.5" y2="2881.0" stroke="#000" stroke-width="7"/>
<line x1="477.6" y1="2871.0" x2="477.6" y2="2881.0" stroke="#000" stroke-width="7"/>
<line x1="636.6" y1="2871.0" x2="636.6" y2="2881.0" stroke="#000" stroke-width="7"/>
<line x1="795.7" y1="2871.0" x2="795.7" y2="2881.0" stroke="#000" stroke-width="7"/>
<line x1="954.7" y1="2871.0" x2="954.7" y2="2881.0" stroke="#000" stroke-width="7"/>
<line x1="1113.8" y1="2871.0" x2="1113.8" y2="2881.0" stroke="#000" stroke-width="7"/>
<line x1="1272.9" y1="2871.0" x2="1272.9" y2="2881.0" stroke="#000" stroke-width="7"/>
<line x1="1431.9" y1="2871.0" x2="1431.9" y2="2881.0" stroke="#000" stroke-width="7"/>
<line x1="1591.0" y1="2871.0" x2="1591.0" y2="2881.0" stroke="#000" stroke-width="7"/>
<line x1="216.5" y1="2871.0" x2="239.0" y2="2871.0" stroke="#000" stroke-width="7"/>
<line x1="216.5" y1="2623.8" x2="239.0" y2="2623.8" stroke="#000" stroke-width="7"/>
<line x1="216.5" y1="2376.6" x2="239.0" y2="2376.6" stroke="#000" stroke-width="7"/>
<line x1="216.5" y1="2129.4" x2="239.0" y2="2129.4" stroke="#000" stroke-width="7"/>
<line x1="216.5" y1="1882.2" x2="239.0" y2="1882.2" stroke="#000" stroke-width="7"/>
<line x1="216.5" y1="1635.0" x2="239.0" y2="1635.0" stroke="#000" stroke-width="7"/>
<line x1="228.0" y1="2747.4" x2="239.0" y2="2747.4" stroke="#000" stroke-width="7"/>
<line x1="228.0" y1="2500.2" x2="239.0" y2="2500.2" stroke="#000" stroke-width="7"/>
<line x1="228.0" y1="2253.0" x2="239.0" y2="2253.0" stroke="#000" stroke-width="7"/>
<line x1="228.0" y1="2005.8" x2="239.0" y2="2005.8" stroke="#000" stroke-width="7"/>
<line x1="228.0" y1="1758.6" x2="239.0" y2="1758.6" stroke="#000" stroke-width="7"/>
<text transform="translate(202.5,2895.5) scale(1,1.065)" font-size="80" text-anchor="end" font-weight="bold" >0</text>
<text transform="translate(202.5,2648.3) scale(1,1.065)" font-size="80" text-anchor="end" font-weight="bold" >10</text>
<text transform="translate(202.5,2401.1) scale(1,1.065)" font-size="80" text-anchor="end" font-weight="bold" >20</text>
<text transform="translate(202.5,2153.9) scale(1,1.065)" font-size="80" text-anchor="end" font-weight="bold" >30</text>
<text transform="translate(202.5,1906.7) scale(1,1.065)" font-size="80" text-anchor="end" font-weight="bold" >40</text>
<text transform="translate(202.5,1659.5) scale(1,1.065)" font-size="80" text-anchor="end" font-weight="bold" >50</text>
<text transform="translate(239.0,2975.0) scale(1,1.065)" font-size="80" text-anchor="middle" font-weight="bold" >2.6</text>
<text transform="translate(398.1,2975.0) scale(1,1.065)" font-size="80" text-anchor="middle" font-weight="bold" >2.7</text>
<text transform="translate(557.1,2975.0) scale(1,1.065)" font-size="80" text-anchor="middle" font-weight="bold" >2.8</text>
<text transform="translate(716.2,2975.0) scale(1,1.065)" font-size="80" text-anchor="middle" font-weight="bold" >2.9</text>
<text transform="translate(875.2,2975.0) scale(1,1.065)" font-size="80" text-anchor="middle" font-weight="bold" >3.0</text>
<text transform="translate(1034.3,2975.0) scale(1,1.065)" font-size="80" text-anchor="middle" font-weight="bold" >3.1</text>
<text transform="translate(1193.3,2975.0) scale(1,1.065)" font-size="80" text-anchor="middle" font-weight="bold" >3.2</text>
<text transform="translate(1352.4,2975.0) scale(1,1.065)" font-size="80" text-anchor="middle" font-weight="bold" >3.3</text>
<text transform="translate(1511.4,2975.0) scale(1,1.065)" font-size="80" text-anchor="middle" font-weight="bold" >3.4</text>
<text transform="translate(1670.5,2975.0) scale(1,1.065)" font-size="80" text-anchor="middle" font-weight="bold" >3.5</text>
<text transform="translate(858.0,3075.0) scale(1,1.065)" font-size="79" text-anchor="start" font-weight="bold" >hν (ev)</text>
<text transform="translate(12.0,1654.4) scale(1,1.05)" font-size="89" text-anchor="start" font-weight="bold" >(b)</text>
<text transform="translate(92.8,2389) rotate(-90) scale(1.035,1)" font-size="80" font-weight="bold">(ahν)<tspan font-weight="normal" font-size="52" dy="-32">1/2</tspan></text>
<line x1="291.4" y1="1706.3" x2="410.8" y2="1706.3" stroke="#E8197D" stroke-width="7.5" stroke-linecap="round"/>
<text transform="translate(431.0,1725.4) scale(1,1.065)" font-size="72.8" text-anchor="start" font-weight="bold" >40TiO<tspan dy="0.2500em" font-size="0.94em">2</tspan><tspan dy="-0.235em">/CNNS</tspan></text>
<line x1="291.4" y1="1820.8" x2="410.8" y2="1820.8" stroke="#F28C28" stroke-width="7.5" stroke-linecap="round"/>
<text transform="translate(431.0,1839.9) scale(1,1.065)" font-size="72.8" text-anchor="start" font-weight="bold" >CNNS</text>
<line x1="291.4" y1="1916.2" x2="410.8" y2="1916.2" stroke="#0A7A28" stroke-width="7.5" stroke-linecap="round"/>
<text transform="translate(431.0,1935.3) scale(1,1.065)" font-size="72.8" text-anchor="start" font-weight="bold" >20TiO<tspan dy="0.2500em" font-size="0.94em">2</tspan><tspan dy="-0.235em">/CNNS</tspan></text>
<line x1="291.4" y1="2030.7" x2="410.8" y2="2030.7" stroke="#8014D4" stroke-width="7.5" stroke-linecap="round"/>
<text transform="translate(431.0,2049.8) scale(1,1.065)" font-size="72.8" text-anchor="start" font-weight="bold" >50TiO<tspan dy="0.2500em" font-size="0.94em">2</tspan><tspan dy="-0.235em">/CNNS</tspan></text>
<line x1="291.4" y1="2145.2" x2="410.8" y2="2145.2" stroke="#29B2E6" stroke-width="7.5" stroke-linecap="round"/>
<text transform="translate(431.0,2164.3) scale(1,1.065)" font-size="72.8" text-anchor="start" font-weight="bold" >30TiO<tspan dy="0.2500em" font-size="0.94em">2</tspan><tspan dy="-0.235em">/CNNS</tspan></text>
<line x1="291.4" y1="2259.7" x2="410.8" y2="2259.7" stroke="#8C8C8C" stroke-width="7.5" stroke-linecap="round"/>
<text transform="translate(431.0,2278.8) scale(1,1.065)" font-size="72.8" text-anchor="start" font-weight="bold" >Bulk–CN</text>
<line x1="291.4" y1="2355.1" x2="410.8" y2="2355.1" stroke="#000000" stroke-width="7.5" stroke-linecap="round"/>
<text transform="translate(431.0,2374.2) scale(1,1.065)" font-size="72.8" text-anchor="start" font-weight="bold" >TiO<tspan dy="0.2500em" font-size="0.94em">2</tspan></text>
<text transform="translate(572.7,2868.5) scale(1,1.065)" font-size="57" text-anchor="start" font-weight="bold" >2.89</text>
<line x1="670.5" y1="2835.4" x2="688.2" y2="2839.4" stroke="#555" stroke-width="1.8"/>
<polygon points="709.7,2844.3 684.5,2846.8 688.1,2831.2" fill="#000"/>
<text transform="translate(997.0,2642.4) scale(1,1.065)" font-size="68" text-anchor="start" font-weight="bold" >2.94</text>
<line x1="981.3" y1="2646.0" x2="857.2" y2="2692.7" stroke="#555" stroke-width="1.8"/>
<polygon points="836.6,2700.4 856.2,2684.5 861.9,2699.4" fill="#000"/>
<text transform="translate(991.2,2782.0) scale(1,1.065)" font-size="66.5" text-anchor="start" font-weight="bold" >2.97</text>
<line x1="977.0" y1="2759.0" x2="882.6" y2="2791.8" stroke="#555" stroke-width="1.8"/>
<polygon points="861.8,2799.0 881.8,2783.6 887.1,2798.7" fill="#000"/>
<text transform="translate(987.0,2849.0) scale(1,1.065)" font-size="69" text-anchor="start" font-weight="bold" >2.99</text>
<line x1="968.7" y1="2828.0" x2="930.9" y2="2840.2" stroke="#555" stroke-width="1.8"/>
<polygon points="910.0,2847.0 930.4,2832.0 935.3,2847.2" fill="#000"/>
<text transform="translate(1217.0,2845.0) scale(1,1.065)" font-size="68.5" text-anchor="start" font-weight="bold" >3.16</text>
<rect x="218.5" y="3193" width="1448.5" height="1250" fill="none" stroke="#000" stroke-width="8"/>
<polyline points="219.4,4438.5 223.4,4438.7 227.4,4439.3 231.4,4439.9 235.5,4438.8 239.5,4438.8 243.5,4439.0 247.5,4440.1 251.5,4438.9 255.5,4440.1 259.5,4440.0 263.5,4438.9 267.6,4439.7 271.6,4439.6 275.6,4439.5 279.6,4440.7 283.6,4438.9 287.6,4438.8 291.6,4440.6 295.7,4439.6 299.7,4439.2 303.7,4439.5 307.7,4439.5 311.7,4440.7 315.7,4439.3 319.7,4439.3 323.7,4440.0 327.8,4440.0 331.8,4440.8 335.8,4440.6 339.8,4439.6 343.8,4439.3 347.8,4440.6 351.8,4440.9 355.9,4439.0 359.9,4440.4 363.9,4440.7 367.9,4440.3 371.9,4439.4 375.9,4440.6 379.9,4440.5 383.9,4439.4 388.0,4440.3 392.0,4439.5 396.0,4439.1 400.0,4439.7 404.0,4439.7 408.0,4439.9 412.0,4440.4 416.0,4440.7 420.1,4441.0 424.1,4441.0 428.1,4441.1 432.1,4440.7 436.1,4439.7 440.1,4439.4 444.1,4440.3 448.2,4440.1 452.2,4440.4 456.2,4439.2 460.2,4439.4 464.2,4440.8 468.2,4440.1 472.2,4440.2 476.2,4439.0 480.3,4439.5 484.3,4440.4 488.3,4439.8 492.3,4440.3 496.3,4438.6 500.3,4438.9 504.3,4439.3 508.3,4438.3 512.3,4438.7 516.3,4438.0 520.3,4436.8 524.3,4436.4 528.3,4437.9 532.3,4435.8 536.3,4435.5 540.3,4435.4 544.3,4435.7 548.3,4435.5 552.3,4434.2 556.2,4433.5 560.2,4433.4 564.1,4431.6 568.0,4430.9 571.9,4430.4 575.8,4429.4 579.6,4427.1 583.5,4426.0 587.3,4424.8 591.1,4424.7 594.8,4423.2 598.6,4422.3 602.3,4420.4 605.9,4417.7 609.6,4417.0 613.2,4415.7 616.7,4412.5 620.2,4409.9 623.7,4408.6 627.1,4406.4 630.5,4404.0 633.9,4401.6 637.2,4399.5 640.6,4398.8 643.9,4394.9 647.2,4393.7 650.5,4390.6 653.8,4388.3 657.1,4387.2 660.3,4383.9 663.6,4381.3 666.9,4379.5 670.1,4377.7 673.4,4375.0 676.7,4373.3 680.0,4370.1 683.3,4368.1 686.6,4366.2 690.0,4363.6 693.4,4362.0 696.9,4359.6 700.5,4357.1 704.2,4355.4 707.9,4355.3 711.7,4354.0 715.6,4353.4 719.6,4352.1 723.5,4351.3 727.5,4350.1 731.5,4351.2 735.5,4349.6 739.5,4350.2 743.6,4349.6 747.6,4350.2 751.6,4350.1 755.6,4350.4 759.6,4351.0 763.6,4350.7 767.6,4350.1 771.7,4351.1 775.7,4351.0 779.7,4351.0 783.7,4349.2 787.7,4350.1 791.7,4350.3 795.7,4348.7 799.7,4348.1 803.7,4349.0 807.7,4347.6 811.7,4347.3 815.7,4347.8 819.7,4346.7 823.7,4346.1 827.7,4346.0 831.7,4346.3 835.7,4347.0 839.7,4346.5 843.7,4347.5 847.7,4346.3 851.7,4347.1 855.7,4348.2 859.7,4348.4 863.7,4349.0 867.6,4350.6 871.6,4350.0 875.5,4350.6 879.4,4351.2 883.3,4353.0 887.2,4353.7 891.1,4355.2 894.9,4355.4 898.7,4356.5 902.6,4358.5 906.4,4360.4 910.3,4360.6 914.1,4363.0 918.0,4363.4 921.9,4364.0 925.8,4365.7 929.7,4365.5 933.6,4367.1 937.6,4368.3 941.5,4368.5 945.4,4368.7 949.4,4369.0 953.4,4370.6 957.3,4370.5 961.3,4371.5 965.2,4372.4 969.2,4373.8 973.2,4373.9 977.1,4374.2 981.1,4375.5 985.1,4375.1 989.0,4375.8 993.0,4377.1 997.0,4377.5 1000.9,4377.5 1004.9,4378.5 1008.8,4380.0 1012.8,4379.5 1016.7,4381.1 1020.7,4380.5 1024.6,4383.0 1028.6,4383.1 1032.6,4383.1 1036.5,4385.1 1040.5,4385.4 1044.4,4384.6 1048.4,4385.6 1052.4,4386.7 1056.3,4388.3 1060.3,4387.1 1064.3,4387.4 1068.3,4388.4 1072.3,4388.2 1076.3,4389.2 1080.3,4389.8 1084.3,4389.8 1088.3,4389.4 1092.3,4389.4 1096.3,4391.2 1100.3,4390.8 1104.3,4391.2 1108.3,4391.6 1112.3,4392.5 1116.3,4393.4 1120.2,4393.8 1124.2,4394.2 1128.2,4394.0 1132.2,4394.3 1136.1,4394.7 1140.1,4396.9 1144.1,4395.9 1148.0,4397.5 1152.0,4398.8 1156.0,4398.3 1159.9,4399.0 1163.9,4399.7 1167.8,4401.4 1171.8,4401.4 1175.8,4402.4 1179.7,4401.4 1183.7,4403.4 1187.7,4403.4 1191.6,4403.9 1195.6,4405.4 1199.6,4405.8 1203.6,4406.8 1207.5,4407.0 1211.5,4407.9 1215.5,4407.5 1219.4,4408.3 1223.4,4409.2 1227.4,4409.1 1231.4,4408.9 1235.4,4410.3 1239.4,4411.3 1243.4,4411.7 1247.4,4410.7 1251.3,4411.6 1255.3,4411.7 1259.3,4412.3 1263.3,4413.9 1267.3,4413.2 1271.3,4413.4 1275.3,4413.7 1279.3,4414.4 1283.3,4415.2 1287.3,4415.0 1291.3,4415.1 1295.3,4415.6 1299.3,4416.0 1303.3,4417.7 1307.3,4416.7 1311.3,4418.3 1315.2,4417.4 1319.2,4419.1 1323.2,4418.5 1327.2,4419.9 1331.2,4419.6 1335.2,4419.3 1339.2,4419.7 1343.2,4421.5 1347.2,4421.3 1351.2,4421.4 1355.2,4421.4 1359.2,4422.4 1363.2,4422.1 1367.2,4421.5 1371.2,4422.7 1375.3,4422.3 1379.3,4423.5 1383.3,4423.1 1387.3,4423.7 1391.3,4422.6 1395.3,4423.9 1399.3,4423.9 1403.3,4424.6 1407.3,4424.8 1411.3,4424.4 1415.3,4424.7 1419.4,4425.2 1423.4,4424.4 1427.4,4425.2 1431.4,4425.9 1435.4,4425.7 1439.4,4425.8 1443.4,4426.6 1447.4,4427.1 1451.4,4425.8 1455.4,4425.7 1459.4,4426.9 1463.4,4426.2 1467.5,4428.0 1471.5,4427.2 1475.5,4427.5 1479.5,4428.2 1483.5,4428.5 1487.5,4427.2 1491.5,4428.0 1495.5,4427.6 1499.5,4428.3 1503.5,4427.8 1507.6,4429.4 1511.6,4428.5 1515.6,4428.7 1519.6,4429.9 1523.6,4429.9 1527.6,4429.0 1531.6,4429.5 1535.6,4429.9 1539.6,4429.1 1543.7,4429.1 1547.7,4430.7 1551.7,4429.5 1555.7,4430.7 1559.7,4430.9 1563.7,4430.7 1567.7,4430.3 1571.7,4431.5 1575.7,4431.5 1579.8,4430.2 1583.8,4432.0 1587.8,4431.6 1591.8,4431.0 1595.8,4430.9 1599.8,4430.9 1603.8,4432.5 1607.8,4432.7 1611.8,4431.8 1615.9,4431.6 1619.9,4431.5 1623.9,4432.4 1627.9,4432.3 1631.9,4431.9 1635.9,4432.5 1639.9,4433.7 1643.9,4432.3 1647.9,4433.1 1652.0,4433.5 1656.0,4432.9 1660.0,4432.8 1664.0,4433.0 1668.0,4433.3" fill="none" stroke="#29B2E6" stroke-width="6" stroke-linejoin="round" stroke-linecap="round" clip-path="url(#cc)" />
<polyline points="219.4,4421.2 223.4,4421.9 227.4,4422.5 231.4,4424.2 235.3,4423.8 239.3,4424.7 243.3,4423.9 247.3,4425.2 251.3,4426.4 255.3,4426.2 259.3,4427.5 263.2,4427.8 267.2,4427.2 271.2,4426.9 275.2,4428.9 279.2,4428.0 283.2,4428.2 287.2,4430.0 291.2,4430.6 295.2,4431.0 299.2,4431.6 303.2,4430.4 307.2,4430.5 311.2,4430.8 315.2,4432.8 319.2,4431.3 323.2,4431.6 327.2,4431.6 331.2,4431.8 335.2,4431.9 339.2,4432.6 343.2,4432.4 347.2,4432.7 351.3,4434.0 355.3,4432.5 359.3,4433.9 363.3,4433.7 367.3,4433.4 371.3,4433.4 375.3,4433.7 379.3,4433.3 383.3,4432.5 387.4,4432.7 391.4,4432.4 395.4,4432.6 399.4,4433.7 403.4,4432.4 407.4,4431.5 411.4,4432.2 415.4,4432.7 419.4,4431.7 423.4,4432.0 427.4,4430.5 431.4,4430.2 435.4,4431.0 439.4,4429.5 443.4,4429.6 447.4,4429.3 451.4,4428.4 455.4,4427.6 459.3,4426.9 463.3,4428.1 467.2,4426.8 471.2,4426.5 475.0,4424.6 478.9,4424.5 482.7,4423.1 486.5,4421.3 490.3,4419.7 494.0,4418.1 497.6,4415.9 501.2,4414.4 504.8,4413.3 508.3,4410.2 511.7,4409.5 515.1,4406.6 518.4,4404.6 521.7,4402.7 524.9,4399.9 528.1,4396.4 531.1,4394.0 534.1,4390.8 537.0,4388.1 539.8,4387.1 542.5,4383.4 545.1,4381.1 547.6,4377.6 550.1,4373.5 552.5,4371.6 554.8,4368.3 557.0,4364.0 559.2,4359.9 561.3,4356.9 563.4,4353.2 565.3,4350.1 567.2,4346.0 569.1,4343.7 570.9,4340.6 572.6,4335.5 574.3,4333.0 576.0,4328.9 577.6,4325.1 579.2,4322.2 580.7,4317.5 582.2,4314.6 583.7,4309.3 585.1,4307.4 586.6,4302.1 587.9,4298.0 589.3,4296.0 590.6,4291.9 591.9,4288.0 593.1,4284.3 594.4,4279.7 595.6,4275.4 596.8,4272.0 597.9,4269.4 599.1,4265.6 600.2,4260.3 601.3,4256.8 602.3,4253.0 603.4,4250.0 604.4,4244.3 605.4,4242.1 606.4,4237.0 607.3,4233.7 608.3,4229.0 609.2,4225.0 610.1,4222.7 611.0,4218.0 611.9,4215.0 612.8,4210.9 613.6,4206.8 614.5,4201.5 615.4,4198.6 616.3,4195.5 617.2,4190.6 618.1,4185.8 619.0,4182.2 619.9,4179.9 620.7,4175.9 621.6,4170.5 622.4,4166.8 623.3,4163.6 624.1,4159.3 624.8,4154.7 625.6,4152.4 626.3,4147.7 627.0,4143.2 627.7,4138.6 628.3,4135.6 628.9,4132.1 629.5,4127.0 630.0,4122.8 630.6,4120.1 631.1,4116.6 631.6,4111.5 632.1,4107.7 632.6,4104.0 633.0,4099.8 633.5,4095.0 633.9,4091.4 634.3,4087.2 634.8,4083.2 635.2,4079.0 635.6,4075.6 636.0,4071.3 636.4,4068.6 636.8,4063.5 637.2,4060.8 637.6,4056.5 638.0,4051.4 638.4,4047.2 638.8,4044.1 639.2,4039.9 639.6,4036.0 640.0,4031.2 640.3,4028.0 640.7,4024.5 641.1,4019.8 641.5,4015.5 641.9,4012.8 642.3,4007.6 642.8,4005.0 643.2,4000.4 643.6,3995.0 644.0,3991.9 644.5,3987.3 644.9,3984.6 645.4,3979.9 645.8,3975.2 646.3,3973.0 646.8,3968.7 647.2,3964.3 647.7,3960.3 648.2,3955.3 648.8,3953.1 649.3,3947.8 649.8,3944.3 650.3,3940.2 650.9,3936.2 651.4,3931.3 652.0,3929.1 652.5,3924.3 653.1,3920.2 653.6,3917.1 654.1,3913.1 654.7,3908.9 655.2,3905.3 655.7,3900.2 656.3,3895.7 656.8,3892.2 657.3,3888.8 657.8,3885.2 658.3,3881.1 658.8,3876.9 659.3,3872.8 659.8,3869.0 660.3,3864.8 660.7,3859.7 661.2,3856.8 661.7,3852.3 662.2,3847.9 662.7,3845.0 663.1,3841.5 663.6,3836.4 664.1,3833.1 664.6,3829.1 665.1,3825.2 665.6,3821.6 666.1,3817.3 666.7,3812.1 667.2,3809.2 667.8,3804.7 668.3,3800.8 668.9,3797.4 669.5,3792.4 670.0,3789.3 670.6,3786.0 671.3,3780.3 671.9,3777.9 672.5,3773.6 673.2,3769.1 673.8,3765.8 674.5,3760.5 675.1,3756.7 675.8,3754.4 676.5,3749.7 677.2,3744.9 677.9,3740.8 678.6,3737.5 679.4,3733.8 680.1,3730.7 680.8,3725.2 681.6,3722.1 682.3,3717.8 683.0,3714.1 683.8,3710.9 684.6,3705.3 685.3,3702.8 686.1,3698.7 686.9,3693.8 687.7,3689.6 688.5,3686.9 689.3,3683.2 690.1,3678.3 691.0,3673.9 691.8,3670.8 692.7,3667.1 693.5,3662.6 694.4,3658.8 695.3,3654.3 696.2,3650.4 697.1,3646.7 698.0,3643.8 698.9,3638.7 699.9,3634.9 700.8,3631.6 701.8,3627.2 702.8,3623.3 703.9,3620.5 705.0,3615.6 706.2,3612.4 707.4,3607.6 708.7,3604.7 710.2,3601.3 711.7,3597.1 713.5,3593.0 715.3,3589.1 717.3,3586.2 719.5,3583.1 721.8,3579.2 724.3,3576.7 726.9,3573.7 729.6,3569.9 732.3,3568.2 735.3,3566.0 738.3,3562.9 741.4,3559.9 744.7,3558.3 748.1,3556.4 751.6,3554.5 755.3,3552.8 759.0,3550.9 762.7,3549.8 766.5,3548.2 770.3,3546.0 774.1,3544.4 777.9,3543.8 781.7,3542.9 785.5,3540.6 789.2,3539.3 792.9,3537.3 796.7,3535.7 800.4,3534.6 804.1,3534.3 807.9,3531.3 811.6,3530.2 815.5,3529.5 819.4,3529.7 823.3,3527.4 827.3,3526.5 831.3,3526.3 835.3,3527.0 839.3,3526.6 843.2,3528.6 847.2,3528.2 851.1,3529.5 854.9,3530.4 858.7,3532.1 862.4,3533.2 866.1,3535.0 869.7,3536.7 873.3,3538.7 876.8,3541.5 880.1,3543.1 883.4,3545.1 886.5,3547.3 889.4,3551.8 892.1,3554.7 894.5,3558.1 896.7,3561.0 898.7,3563.9 900.5,3567.3 902.1,3570.7 903.6,3574.9 905.1,3578.6 906.4,3583.4 907.8,3585.7 909.2,3590.5 910.6,3594.3 912.1,3597.9 913.7,3601.5 915.2,3604.0 916.9,3607.9 918.6,3612.3 920.3,3616.1 922.1,3620.4 923.9,3623.6 925.7,3626.1 927.5,3629.5 929.3,3634.3 931.2,3636.3 933.1,3641.7 934.9,3643.6 936.8,3648.2 938.7,3652.2 940.5,3654.2 942.4,3657.8 944.4,3662.4 946.3,3666.1 948.3,3668.1 950.3,3672.5 952.3,3676.6 954.4,3680.0 956.5,3682.7 958.6,3685.3 960.8,3689.9 963.0,3693.1 965.2,3696.2 967.4,3699.9 969.6,3703.2 971.9,3706.4 974.1,3709.9 976.3,3713.3 978.4,3717.0 980.6,3720.5 982.7,3722.3 984.8,3727.3 987.0,3729.6 989.1,3733.4 991.2,3736.4 993.3,3740.0 995.4,3743.5 997.5,3747.0 999.7,3749.7 1001.9,3753.5 1004.1,3757.1 1006.3,3760.3 1008.6,3763.9 1010.9,3766.3 1013.2,3770.6 1015.5,3774.5 1017.8,3777.5 1020.2,3780.4 1022.5,3784.1 1024.8,3786.5 1027.2,3789.4 1029.5,3793.6 1031.8,3796.1 1034.1,3799.5 1036.3,3803.8 1038.6,3806.6 1040.8,3809.3 1043.0,3812.7 1045.2,3817.1 1047.4,3820.3 1049.6,3824.1 1051.8,3827.2 1053.9,3829.6 1056.1,3833.8 1058.4,3837.5 1060.6,3840.9 1062.9,3844.2 1065.1,3846.0 1067.5,3849.5 1069.8,3852.6 1072.2,3857.1 1074.6,3860.1 1077.0,3863.0 1079.4,3865.5 1081.8,3869.1 1084.1,3872.9 1086.5,3874.9 1088.8,3879.9 1091.0,3882.9 1093.2,3886.6 1095.3,3890.1 1097.4,3892.7 1099.5,3895.7 1101.5,3899.3 1103.5,3903.0 1105.6,3906.7 1107.6,3909.5 1109.6,3913.0 1111.7,3916.8 1113.8,3920.7 1115.9,3922.7 1118.1,3927.8 1120.2,3930.7 1122.4,3933.8 1124.6,3937.2 1126.8,3941.1 1129.0,3943.7 1131.3,3946.8 1133.5,3949.7 1135.8,3953.5 1138.0,3956.2 1140.3,3959.9 1142.6,3964.0 1144.9,3966.7 1147.2,3971.1 1149.5,3973.5 1151.8,3977.5 1154.1,3979.6 1156.5,3984.4 1158.8,3987.4 1161.1,3990.7 1163.5,3993.8 1165.8,3996.5 1168.1,3999.0 1170.5,4003.7 1172.8,4007.2 1175.0,4009.5 1177.3,4013.4 1179.6,4016.4 1181.8,4020.1 1184.0,4023.7 1186.3,4026.5 1188.5,4028.8 1190.7,4032.8 1192.9,4036.3 1195.1,4039.0 1197.4,4043.3 1199.6,4045.9 1201.9,4048.7 1204.2,4052.5 1206.5,4056.6 1208.8,4059.6 1211.2,4062.3 1213.5,4065.7 1216.0,4069.4 1218.4,4073.0 1220.8,4074.7 1223.3,4078.0 1225.7,4081.6 1228.2,4084.4 1230.6,4087.5 1233.1,4090.9 1235.6,4093.7 1238.0,4096.7 1240.5,4100.7 1242.9,4103.9 1245.4,4107.4 1247.8,4111.2 1250.2,4114.4 1252.7,4116.7 1255.1,4119.5 1257.6,4123.3 1260.0,4126.2 1262.5,4129.6 1264.9,4133.5 1267.4,4136.3 1269.9,4139.9 1272.3,4142.7 1274.8,4145.8 1277.3,4149.4 1279.9,4152.0 1282.4,4155.1 1284.9,4158.1 1287.5,4161.7 1290.1,4163.9 1292.7,4166.7 1295.4,4170.1 1298.1,4172.2 1300.8,4176.3 1303.6,4178.7 1306.4,4181.3 1309.2,4184.7 1312.1,4187.6 1315.0,4190.2 1317.9,4192.4 1320.8,4195.6 1323.7,4197.3 1326.6,4200.9 1329.6,4202.8 1332.5,4206.7 1335.5,4208.3 1338.5,4211.3 1341.5,4215.1 1344.4,4217.6 1347.4,4219.3 1350.4,4221.6 1353.4,4226.1 1356.5,4227.7 1359.5,4229.6 1362.5,4233.2 1365.6,4236.4 1368.6,4238.5 1371.7,4240.5 1374.8,4243.5 1377.9,4245.8 1381.0,4249.5 1384.1,4251.7 1387.3,4253.0 1390.4,4256.3 1393.6,4259.1 1396.8,4260.3 1400.1,4262.5 1403.3,4265.7 1406.6,4268.2 1409.9,4270.0 1413.3,4272.5 1416.6,4274.8 1420.0,4277.1 1423.4,4278.1 1426.8,4280.7 1430.2,4282.4 1433.6,4284.7 1437.0,4288.1 1440.5,4289.6 1443.9,4292.2 1447.3,4293.5 1450.6,4295.3 1454.0,4297.2 1457.3,4300.8 1460.6,4303.3 1463.9,4305.3 1467.2,4306.5 1470.6,4309.8 1473.9,4312.3 1477.3,4313.3 1480.7,4315.8 1484.2,4318.8 1487.6,4319.2 1491.2,4322.1 1494.7,4324.2 1498.3,4325.6 1501.9,4328.1 1505.4,4329.1 1509.0,4330.2 1512.6,4332.4 1516.2,4334.1 1519.8,4336.2 1523.4,4337.8 1527.0,4340.4 1530.6,4341.8 1534.2,4343.9 1537.9,4345.2 1541.5,4345.8 1545.2,4347.6 1548.9,4349.1 1552.6,4351.9 1556.3,4352.7 1560.0,4355.1 1563.7,4356.7 1567.5,4358.1 1571.2,4359.1 1575.0,4359.7 1578.7,4360.7 1582.5,4362.9 1586.3,4364.9 1590.1,4366.3 1593.9,4366.0 1597.7,4367.2 1601.6,4369.1 1605.4,4370.6 1609.3,4371.2 1613.1,4373.0 1617.0,4374.1 1620.9,4375.2 1624.8,4376.4 1628.7,4375.8 1632.6,4378.2 1636.5,4377.3 1640.5,4379.2 1644.4,4380.4 1648.3,4379.9 1652.3,4381.0 1656.2,4382.6 1660.1,4382.8 1664.1,4383.0 1668.0,4383.6" fill="none" stroke="#8C8C8C" stroke-width="6" stroke-linejoin="round" stroke-linecap="round" clip-path="url(#cc)" />
<polyline points="219.4,4422.1 223.4,4422.8 227.3,4423.7 231.3,4423.1 235.3,4424.4 239.3,4425.4 243.2,4426.0 247.2,4425.1 251.2,4426.5 255.2,4427.0 259.1,4427.3 263.1,4428.7 267.1,4428.4 271.1,4428.7 275.0,4430.2 279.0,4430.0 283.0,4429.8 287.0,4430.3 291.0,4431.1 294.9,4430.6 298.9,4432.1 302.9,4432.8 306.9,4432.5 310.9,4433.7 314.9,4434.2 318.9,4433.7 322.9,4434.2 326.9,4433.3 330.9,4433.3 334.9,4435.3 338.9,4434.1 342.9,4434.0 346.9,4435.4 350.9,4435.2 355.0,4434.0 359.0,4434.3 363.0,4434.2 367.0,4434.2 371.0,4433.6 375.0,4434.5 379.0,4434.0 383.0,4434.1 387.0,4433.5 391.0,4433.2 395.0,4432.9 399.0,4434.4 403.0,4434.0 407.0,4433.4 411.0,4432.3 415.0,4432.1 419.0,4431.8 423.0,4431.9 427.0,4431.0 431.0,4431.2 435.0,4430.6 439.0,4430.2 443.0,4430.7 447.0,4429.9 450.9,4429.4 454.9,4428.7 458.9,4428.4 462.8,4428.3 466.8,4426.6 470.7,4425.3 474.6,4425.2 478.5,4424.0 482.3,4423.7 486.2,4421.2 490.0,4421.4 493.7,4418.3 497.4,4417.8 501.1,4416.0 504.7,4413.9 508.2,4413.2 511.7,4410.9 515.1,4407.8 518.5,4406.3 521.8,4404.3 525.1,4400.7 528.3,4398.4 531.3,4396.9 534.3,4394.5 537.3,4391.2 540.1,4388.3 542.8,4385.5 545.5,4382.0 548.0,4380.2 550.5,4377.2 553.0,4373.1 555.3,4368.9 557.6,4366.3 559.8,4363.8 561.9,4359.5 564.0,4355.6 566.0,4352.2 567.9,4349.8 569.7,4346.0 571.5,4341.8 573.2,4338.8 574.9,4335.5 576.5,4332.2 578.1,4328.3 579.7,4323.8 581.2,4320.8 582.7,4317.3 584.1,4313.5 585.5,4309.5 586.9,4305.4 588.3,4301.5 589.6,4298.4 590.9,4294.1 592.2,4290.5 593.4,4285.7 594.7,4281.7 595.9,4278.2 597.1,4275.0 598.2,4271.1 599.4,4266.5 600.5,4262.7 601.6,4260.3 602.6,4254.7 603.7,4252.6 604.7,4248.4 605.7,4244.1 606.7,4241.1 607.7,4236.5 608.6,4231.3 609.5,4229.3 610.5,4224.3 611.4,4221.4 612.2,4217.3 613.1,4212.0 614.0,4207.9 614.9,4204.0 615.7,4201.6 616.5,4197.7 617.4,4192.6 618.2,4188.5 619.0,4185.1 619.8,4182.0 620.6,4178.0 621.4,4174.3 622.2,4170.6 623.0,4166.2 623.7,4162.4 624.5,4156.8 625.3,4152.9 626.0,4150.7 626.7,4146.2 627.5,4141.7 628.2,4137.4 628.9,4133.8 629.6,4129.9 630.3,4126.3 631.0,4122.2 631.7,4117.8 632.4,4113.6 633.1,4109.9 633.8,4105.8 634.5,4101.8 635.2,4098.5 635.8,4094.0 636.5,4091.4 637.2,4086.9 637.8,4082.8 638.5,4079.2 639.1,4074.4 639.7,4070.0 640.4,4066.2 641.0,4062.7 641.6,4058.8 642.2,4054.6 642.7,4050.8 643.3,4047.9 643.8,4042.2 644.4,4039.1 644.9,4035.0 645.4,4030.9 645.8,4027.8 646.3,4022.8 646.7,4018.4 647.2,4014.7 647.6,4012.3 648.0,4007.1 648.4,4002.6 648.9,4000.4 649.3,3995.7 649.8,3992.4 650.3,3987.1 650.7,3984.1 651.2,3978.6 651.7,3975.0 652.2,3972.2 652.7,3967.6 653.2,3964.2 653.8,3959.4 654.3,3956.4 654.8,3950.9 655.3,3948.0 655.9,3943.1 656.4,3939.2 657.0,3936.6 657.5,3931.7 658.1,3928.5 658.7,3923.5 659.3,3920.4 659.9,3916.8 660.5,3912.3 661.2,3907.5 661.8,3904.5 662.5,3901.1 663.2,3896.8 663.9,3892.2 664.6,3888.1 665.4,3883.6 666.2,3881.0 667.0,3875.9 667.8,3872.1 668.7,3867.8 669.5,3864.1 670.4,3860.7 671.3,3856.9 672.2,3852.4 673.1,3849.0 674.1,3845.8 675.0,3840.6 675.9,3836.8 676.9,3833.6 677.8,3830.5 678.7,3826.6 679.6,3822.0 680.6,3817.2 681.5,3814.8 682.4,3811.2 683.3,3807.1 684.2,3802.4 685.0,3798.2 685.9,3794.7 686.8,3791.2 687.6,3787.7 688.5,3782.8 689.4,3778.9 690.2,3774.6 691.1,3771.1 692.1,3767.3 693.0,3762.8 694.0,3759.3 695.0,3756.3 696.0,3751.1 697.1,3747.3 698.2,3743.5 699.4,3740.8 700.7,3735.9 702.0,3733.2 703.4,3729.6 704.9,3725.8 706.5,3722.0 708.1,3717.1 709.9,3714.0 711.8,3711.2 713.8,3706.6 716.0,3704.0 718.3,3701.2 720.7,3698.2 723.3,3694.0 726.1,3690.6 729.0,3687.6 732.0,3685.6 735.2,3683.6 738.6,3680.9 742.1,3680.1 745.8,3678.1 749.5,3676.6 753.3,3675.7 757.1,3673.5 760.9,3672.9 764.7,3670.9 768.4,3669.4 772.1,3667.5 775.8,3667.2 779.5,3665.9 783.2,3662.7 787.0,3662.6 790.8,3660.0 794.6,3659.5 798.4,3658.2 802.3,3658.4 806.2,3656.6 810.1,3655.9 814.1,3654.8 818.0,3653.9 822.0,3653.2 825.9,3652.3 829.9,3651.8 833.9,3652.6 837.9,3652.8 841.9,3652.8 845.9,3652.3 849.9,3654.4 853.8,3653.5 857.5,3655.6 861.1,3657.2 864.5,3659.0 867.7,3663.0 870.7,3665.2 873.4,3667.0 876.0,3670.1 878.4,3674.6 880.8,3676.9 883.1,3680.1 885.3,3683.4 887.6,3686.8 889.9,3690.6 892.1,3693.3 894.4,3697.2 896.8,3699.4 899.1,3703.6 901.4,3706.9 903.8,3709.6 906.1,3714.0 908.4,3717.4 910.6,3720.2 912.8,3723.1 914.9,3726.0 916.9,3730.4 918.9,3733.2 920.8,3736.5 922.5,3740.8 924.2,3743.8 925.9,3748.3 927.5,3752.2 929.1,3754.4 930.6,3759.4 932.2,3762.2 933.8,3766.1 935.4,3770.6 937.1,3774.7 938.9,3777.0 940.7,3781.5 942.5,3784.2 944.4,3788.9 946.4,3790.9 948.4,3795.3 950.4,3797.6 952.5,3802.0 954.5,3805.8 956.6,3809.6 958.8,3812.7 960.9,3815.6 963.1,3818.7 965.3,3822.5 967.4,3825.9 969.6,3829.2 971.9,3832.7 974.1,3836.1 976.3,3839.8 978.6,3842.5 980.8,3846.4 983.1,3849.4 985.3,3852.0 987.6,3856.2 989.8,3858.6 992.1,3862.8 994.4,3866.2 996.7,3869.5 999.0,3872.8 1001.4,3875.6 1003.8,3878.4 1006.3,3881.1 1008.8,3885.0 1011.3,3888.6 1013.9,3890.6 1016.5,3893.3 1019.2,3897.4 1021.8,3900.7 1024.5,3902.3 1027.3,3905.1 1030.0,3908.0 1032.7,3911.8 1035.5,3915.2 1038.2,3917.0 1040.9,3921.0 1043.6,3922.5 1046.2,3925.9 1048.8,3929.6 1051.3,3933.2 1053.8,3935.8 1056.2,3939.4 1058.5,3942.0 1060.8,3945.3 1063.1,3948.9 1065.4,3951.2 1067.7,3954.9 1069.9,3958.5 1072.2,3962.4 1074.4,3964.8 1076.6,3968.2 1078.9,3973.1 1081.1,3975.7 1083.3,3978.6 1085.5,3982.6 1087.7,3985.8 1090.0,3989.4 1092.2,3992.2 1094.4,3995.7 1096.6,3998.0 1098.8,4002.0 1101.0,4005.2 1103.3,4008.3 1105.5,4011.8 1107.8,4016.2 1110.1,4018.1 1112.4,4021.2 1114.8,4024.9 1117.1,4027.8 1119.5,4030.7 1121.9,4035.7 1124.4,4038.1 1126.8,4040.3 1129.3,4044.5 1131.7,4046.9 1134.2,4050.7 1136.6,4054.8 1139.0,4058.0 1141.5,4060.1 1143.9,4064.1 1146.3,4066.7 1148.6,4069.1 1151.0,4073.0 1153.3,4077.1 1155.7,4080.2 1158.0,4083.4 1160.3,4087.2 1162.6,4089.2 1165.0,4093.2 1167.3,4096.6 1169.6,4100.1 1172.0,4103.3 1174.3,4106.5 1176.7,4108.7 1179.1,4112.0 1181.4,4115.7 1183.8,4117.9 1186.2,4121.5 1188.6,4124.8 1191.1,4127.7 1193.5,4130.8 1196.0,4134.9 1198.5,4137.4 1201.0,4140.0 1203.6,4144.5 1206.2,4147.9 1208.8,4149.5 1211.5,4153.4 1214.2,4155.1 1216.9,4158.3 1219.7,4161.1 1222.5,4164.9 1225.4,4167.5 1228.2,4170.9 1231.2,4173.3 1234.1,4176.2 1237.1,4179.1 1240.1,4181.2 1243.1,4183.1 1246.1,4185.6 1249.2,4189.6 1252.3,4192.0 1255.4,4194.2 1258.6,4197.3 1261.8,4199.4 1264.9,4201.1 1268.1,4203.1 1271.3,4205.9 1274.6,4209.3 1277.8,4211.6 1281.0,4212.2 1284.2,4214.6 1287.5,4217.8 1290.7,4221.1 1294.0,4223.4 1297.2,4225.7 1300.4,4226.5 1303.7,4229.2 1306.9,4232.7 1310.1,4234.5 1313.2,4236.7 1316.4,4240.5 1319.5,4241.1 1322.5,4244.6 1325.6,4248.0 1328.6,4250.3 1331.6,4253.3 1334.7,4254.7 1337.7,4257.9 1340.7,4261.4 1343.8,4262.3 1346.8,4265.5 1349.9,4269.1 1353.1,4269.9 1356.3,4273.6 1359.5,4275.9 1362.8,4277.2 1366.1,4281.0 1369.4,4282.8 1372.7,4283.8 1376.1,4287.6 1379.5,4289.6 1382.9,4290.9 1386.3,4292.0 1389.8,4295.5 1393.3,4297.1 1396.8,4299.3 1400.3,4299.9 1403.9,4302.5 1407.5,4305.0 1411.1,4306.6 1414.7,4307.3 1418.2,4309.4 1421.8,4311.4 1425.4,4313.2 1429.0,4316.0 1432.6,4317.7 1436.2,4317.6 1439.8,4320.7 1443.4,4321.5 1447.0,4324.7 1450.5,4325.9 1454.1,4328.4 1457.7,4330.2 1461.3,4332.1 1464.9,4332.3 1468.5,4333.9 1472.1,4337.1 1475.7,4338.2 1479.3,4340.5 1483.0,4341.4 1486.7,4343.0 1490.3,4345.2 1494.0,4346.0 1497.7,4347.8 1501.5,4349.1 1505.2,4351.2 1508.9,4351.4 1512.6,4353.7 1516.3,4355.4 1520.1,4357.1 1523.8,4359.0 1527.5,4359.4 1531.3,4362.0 1535.0,4362.9 1538.8,4363.7 1542.6,4365.4 1546.4,4366.3 1550.2,4368.1 1554.0,4368.1 1557.8,4371.0 1561.7,4371.1 1565.5,4371.5 1569.4,4372.7 1573.2,4374.3 1577.1,4375.2 1581.0,4377.4 1584.8,4377.4 1588.7,4379.5 1592.6,4379.1 1596.6,4380.1 1600.5,4382.2 1604.4,4382.8 1608.3,4383.7 1612.3,4382.7 1616.2,4383.3 1620.2,4385.2 1624.2,4385.0 1628.1,4385.1 1632.1,4385.6 1636.1,4386.5 1640.1,4386.9 1644.1,4388.1 1648.0,4389.1 1652.0,4387.9 1656.0,4389.5 1660.0,4389.5 1664.0,4390.4 1668.0,4391.0" fill="none" stroke="#F28C28" stroke-width="6" stroke-linejoin="round" stroke-linecap="round" clip-path="url(#cc)" />
<polyline points="219.4,4425.1 223.4,4425.3 227.4,4426.0 231.4,4426.2 235.4,4426.3 239.4,4425.4 243.5,4426.7 247.5,4425.8 251.5,4425.8 255.5,4425.5 259.5,4426.5 263.5,4425.9 267.5,4426.3 271.5,4427.1 275.5,4427.6 279.5,4427.7 283.5,4426.6 287.5,4426.7 291.6,4427.2 295.6,4428.0 299.6,4428.7 303.6,4428.8 307.6,4429.2 311.6,4428.7 315.6,4428.9 319.6,4428.4 323.6,4428.6 327.6,4428.5 331.6,4429.3 335.6,4429.6 339.7,4429.6 343.7,4429.4 347.7,4429.6 351.7,4429.4 355.7,4430.7 359.7,4430.3 363.7,4430.8 367.7,4431.0 371.7,4430.1 375.7,4429.9 379.8,4430.3 383.8,4431.7 387.8,4431.6 391.8,4430.9 395.8,4431.7 399.8,4430.9 403.8,4432.1 407.8,4430.6 411.8,4432.0 415.8,4432.5 419.9,4431.4 423.9,4431.6 427.9,4430.9 431.9,4431.2 435.9,4431.2 439.9,4431.3 443.9,4430.8 447.9,4431.2 451.9,4430.7 456.0,4431.4 460.0,4431.0 464.0,4430.4 468.0,4431.5 472.0,4429.9 475.9,4429.8 479.9,4429.9 483.8,4428.9 487.7,4428.4 491.6,4426.6 495.4,4425.8 499.1,4422.7 502.8,4422.4 506.4,4419.8 509.9,4418.0 513.5,4417.0 517.0,4415.1 520.6,4412.4 524.2,4410.7 527.9,4408.9 531.5,4408.5 535.2,4406.3 538.8,4403.9 542.5,4402.8 546.1,4400.1 549.7,4398.7 553.2,4397.2 556.7,4396.2 560.1,4393.8 563.4,4390.9 566.6,4389.0 569.8,4385.5 572.8,4383.8 575.8,4381.7 578.6,4377.2 581.4,4375.8 584.1,4372.9 586.6,4368.6 589.1,4366.3 591.4,4363.4 593.6,4358.4 595.7,4355.6 597.8,4352.4 599.7,4349.3 601.5,4344.7 603.3,4342.0 604.9,4338.3 606.5,4334.9 608.1,4331.0 609.6,4327.5 611.0,4323.2 612.4,4319.3 613.7,4315.4 615.0,4311.5 616.3,4307.8 617.5,4304.0 618.7,4300.0 619.9,4295.7 621.0,4292.3 622.2,4289.6 623.2,4284.4 624.3,4281.9 625.3,4277.7 626.3,4273.1 627.2,4268.7 628.2,4266.1 629.1,4262.4 630.0,4257.2 630.9,4254.0 631.8,4250.3 632.6,4246.1 633.5,4241.2 634.4,4237.5 635.2,4234.5 636.1,4230.4 636.9,4226.6 637.7,4221.9 638.5,4219.1 639.3,4215.0 640.1,4210.5 640.9,4207.3 641.7,4202.3 642.4,4198.8 643.2,4194.8 644.0,4191.8 644.7,4187.8 645.5,4182.6 646.3,4179.6 647.1,4174.7 648.0,4172.0 648.9,4168.0 649.7,4163.7 650.6,4158.5 651.6,4155.2 652.5,4151.0 653.5,4147.8 654.4,4142.9 655.4,4139.1 656.4,4135.3 657.4,4132.9 658.4,4128.5 659.5,4125.2 660.5,4121.5 661.6,4116.8 662.6,4113.5 663.7,4108.8 664.8,4105.3 666.0,4100.6 667.1,4097.3 668.3,4092.8 669.5,4089.7 670.7,4086.9 672.0,4083.1 673.3,4078.8 674.6,4073.6 675.9,4071.7 677.3,4067.0 678.6,4063.6 680.1,4059.3 681.5,4056.3 683.0,4051.6 684.5,4047.5 686.1,4044.5 687.7,4040.3 689.4,4036.7 691.1,4033.1 692.9,4030.5 694.7,4026.9 696.7,4022.4 698.7,4019.9 700.9,4015.2 703.2,4013.8 705.7,4009.2 708.3,4006.7 711.1,4003.6 714.1,4001.9 717.3,3998.7 720.7,3995.9 724.2,3995.3 727.8,3993.0 731.5,3990.8 735.2,3990.2 739.0,3989.2 742.8,3987.7 746.6,3986.5 750.4,3984.5 754.3,3983.1 758.1,3981.6 762.0,3982.1 765.8,3979.7 769.7,3978.8 773.5,3978.6 777.4,3976.1 781.2,3976.6 785.1,3974.8 789.0,3973.0 792.8,3973.2 796.7,3971.9 800.6,3969.7 804.5,3969.7 808.4,3969.2 812.4,3967.6 816.3,3967.1 820.3,3967.6 824.3,3965.9 828.3,3966.0 832.3,3965.9 836.3,3967.0 840.3,3967.6 844.2,3968.2 848.0,3969.0 851.8,3970.4 855.5,3973.3 859.0,3974.8 862.5,3977.2 865.9,3977.9 869.3,3981.8 872.6,3983.6 875.8,3985.7 879.0,3988.6 882.2,3989.6 885.3,3993.2 888.3,3995.2 891.4,3997.3 894.4,4001.4 897.3,4002.7 900.2,4006.8 903.1,4008.7 905.9,4012.7 908.7,4014.0 911.4,4017.8 914.1,4021.8 916.8,4023.9 919.4,4027.1 922.0,4029.9 924.7,4033.1 927.3,4035.7 929.9,4038.5 932.6,4041.6 935.2,4045.7 937.9,4047.6 940.6,4051.3 943.3,4054.8 946.0,4057.7 948.8,4060.5 951.5,4063.5 954.3,4065.9 957.1,4068.6 959.9,4070.6 962.7,4073.4 965.5,4076.7 968.4,4079.8 971.4,4082.6 974.3,4084.3 977.4,4088.1 980.4,4090.2 983.6,4092.8 986.7,4094.6 990.0,4098.4 993.2,4100.8 996.5,4102.9 999.9,4103.9 1003.3,4105.8 1006.7,4109.8 1010.1,4111.2 1013.6,4113.9 1017.0,4114.9 1020.5,4117.6 1024.0,4118.2 1027.5,4120.1 1031.0,4123.3 1034.5,4125.2 1038.0,4126.6 1041.4,4129.0 1044.8,4131.4 1048.1,4132.9 1051.3,4134.8 1054.4,4138.3 1057.4,4140.5 1060.4,4144.6 1063.3,4145.8 1066.1,4149.3 1069.0,4151.5 1071.9,4154.7 1074.8,4157.0 1077.8,4159.8 1080.8,4163.5 1083.8,4166.1 1087.0,4168.4 1090.1,4171.5 1093.4,4173.9 1096.6,4175.3 1099.9,4178.4 1103.1,4180.3 1106.4,4182.8 1109.7,4184.1 1112.9,4187.8 1116.1,4189.7 1119.3,4191.0 1122.5,4193.2 1125.7,4196.4 1128.8,4199.5 1132.0,4201.3 1135.1,4203.9 1138.2,4207.2 1141.4,4208.7 1144.5,4210.7 1147.7,4214.0 1150.8,4216.3 1154.0,4219.4 1157.2,4220.8 1160.3,4224.7 1163.5,4227.4 1166.7,4229.4 1169.9,4231.4 1173.0,4233.2 1176.2,4235.3 1179.4,4239.0 1182.6,4242.0 1185.8,4243.2 1188.9,4246.7 1192.1,4249.4 1195.3,4251.6 1198.5,4253.4 1201.7,4256.2 1204.9,4257.9 1208.0,4260.6 1211.3,4262.5 1214.5,4266.0 1217.7,4267.3 1221.0,4270.8 1224.3,4272.9 1227.6,4274.1 1230.9,4276.1 1234.3,4279.4 1237.7,4280.9 1241.1,4283.5 1244.6,4286.1 1248.0,4287.0 1251.4,4288.8 1254.9,4291.7 1258.3,4294.0 1261.8,4295.8 1265.2,4296.8 1268.7,4299.7 1272.1,4302.1 1275.6,4304.7 1279.1,4305.4 1282.5,4307.5 1286.0,4309.6 1289.5,4312.2 1293.1,4313.2 1296.6,4316.1 1300.2,4317.5 1303.7,4319.5 1307.3,4320.3 1310.9,4323.6 1314.5,4324.6 1318.1,4326.4 1321.6,4328.1 1325.2,4331.0 1328.8,4332.8 1332.4,4334.3 1336.0,4336.4 1339.6,4336.9 1343.2,4339.9 1346.9,4341.0 1350.6,4342.6 1354.3,4344.3 1358.1,4344.3 1361.9,4345.3 1365.7,4346.8 1369.5,4349.7 1373.3,4350.0 1377.2,4350.1 1381.0,4352.5 1384.9,4353.9 1388.8,4353.8 1392.6,4355.4 1396.5,4355.9 1400.4,4357.5 1404.3,4358.0 1408.2,4359.1 1412.1,4360.6 1416.0,4361.8 1419.9,4363.3 1423.8,4362.8 1427.6,4365.2 1431.5,4364.9 1435.4,4366.0 1439.3,4367.0 1443.2,4367.7 1447.1,4369.1 1451.0,4370.7 1454.9,4371.8 1458.8,4372.9 1462.7,4372.8 1466.6,4373.6 1470.5,4374.3 1474.4,4376.1 1478.2,4376.6 1482.1,4377.0 1486.0,4378.4 1489.9,4380.4 1493.8,4381.2 1497.7,4382.0 1501.6,4382.3 1505.5,4384.3 1509.4,4384.4 1513.3,4385.0 1517.2,4385.8 1521.2,4386.8 1525.1,4387.7 1529.0,4388.3 1533.0,4389.4 1536.9,4390.1 1540.8,4390.7 1544.8,4391.2 1548.7,4392.1 1552.6,4393.2 1556.6,4395.1 1560.5,4393.9 1564.4,4396.6 1568.4,4396.4 1572.3,4396.1 1576.3,4397.7 1580.2,4398.0 1584.2,4398.1 1588.2,4400.3 1592.1,4400.7 1596.1,4401.8 1600.1,4401.1 1604.1,4402.8 1608.1,4403.2 1612.0,4403.0 1616.0,4403.3 1620.0,4403.1 1624.0,4404.4 1628.0,4404.4 1632.0,4405.1 1636.0,4404.5 1640.0,4404.4 1644.0,4405.1 1648.0,4405.4 1652.0,4406.5 1656.0,4406.4 1660.0,4407.1 1664.0,4408.1 1668.0,4407.1" fill="none" stroke="#0A7A28" stroke-width="6" stroke-linejoin="round" stroke-linecap="round" clip-path="url(#cc)" />
<polyline points="219.4,4431.1 223.4,4431.6 227.4,4431.7 231.4,4432.0 235.5,4430.9 239.5,4432.3 243.5,4431.6 247.5,4432.1 251.5,4432.1 255.5,4432.6 259.5,4431.3 263.6,4431.6 267.6,4432.4 271.6,4432.2 275.6,4432.6 279.6,4431.9 283.6,4433.2 287.6,4431.3 291.7,4432.8 295.7,4432.2 299.7,4431.6 303.7,4432.9 307.7,4431.7 311.7,4432.2 315.7,4432.4 319.8,4432.1 323.8,4432.2 327.8,4432.1 331.8,4433.6 335.8,4432.2 339.8,4432.4 343.9,4432.3 347.9,4434.0 351.9,4433.3 355.9,4433.9 359.9,4434.3 363.9,4433.4 367.9,4433.2 372.0,4433.3 376.0,4433.1 380.0,4433.8 384.0,4434.6 388.0,4433.7 392.0,4434.3 396.0,4434.6 400.1,4434.5 404.1,4434.2 408.1,4434.0 412.1,4433.1 416.1,4433.7 420.1,4434.6 424.1,4433.8 428.2,4434.2 432.2,4433.3 436.2,4433.9 440.2,4433.1 444.2,4434.1 448.2,4434.1 452.2,4432.3 456.3,4433.4 460.3,4432.0 464.3,4433.4 468.3,4431.6 472.3,4431.1 476.3,4432.2 480.2,4431.1 484.2,4429.3 488.2,4429.5 492.1,4429.5 496.0,4427.3 499.9,4427.5 503.8,4425.5 507.6,4424.6 511.4,4423.3 515.2,4421.3 519.0,4420.5 522.7,4419.3 526.4,4418.0 530.1,4416.2 533.8,4413.8 537.4,4412.9 541.0,4410.5 544.6,4409.9 548.1,4406.4 551.6,4405.8 555.1,4402.5 558.6,4401.4 562.0,4398.9 565.4,4396.9 568.7,4395.2 572.0,4393.1 575.3,4389.2 578.5,4388.5 581.6,4385.5 584.7,4381.8 587.6,4380.3 590.5,4377.7 593.2,4373.9 595.9,4371.9 598.5,4367.4 601.1,4364.9 603.6,4361.4 606.0,4359.3 608.4,4355.1 610.8,4351.7 613.2,4350.0 615.5,4345.5 617.8,4342.4 620.1,4339.5 622.3,4335.1 624.5,4333.1 626.7,4329.4 628.9,4325.7 631.0,4322.9 633.1,4319.6 635.2,4314.6 637.3,4312.9 639.3,4308.6 641.3,4305.6 643.2,4301.9 645.2,4298.9 647.1,4295.0 649.0,4290.4 650.9,4286.7 652.7,4283.6 654.6,4279.8 656.5,4276.2 658.3,4273.3 660.2,4269.6 662.0,4265.8 663.9,4263.0 665.7,4258.2 667.6,4255.3 669.5,4251.7 671.3,4248.5 673.2,4245.5 675.1,4241.4 677.1,4236.7 679.0,4234.3 681.0,4230.4 683.1,4227.1 685.2,4224.0 687.4,4219.9 689.7,4217.7 692.0,4213.7 694.6,4210.5 697.2,4207.9 700.1,4204.1 703.1,4202.0 706.3,4200.9 709.7,4197.0 713.2,4195.6 716.8,4194.6 720.5,4192.5 724.3,4191.4 728.1,4190.6 732.0,4189.5 735.9,4187.7 739.8,4186.6 743.7,4185.1 747.7,4185.9 751.6,4184.0 755.6,4184.0 759.5,4182.6 763.5,4183.1 767.4,4181.7 771.3,4180.1 775.2,4180.1 779.1,4178.1 783.0,4177.7 786.9,4176.6 790.8,4176.7 794.8,4175.6 798.7,4174.2 802.7,4173.8 806.7,4173.6 810.7,4173.9 814.7,4172.6 818.7,4173.2 822.7,4171.6 826.7,4171.6 830.7,4172.8 834.8,4171.9 838.8,4171.3 842.8,4171.6 846.8,4172.2 850.8,4171.8 854.8,4172.7 858.8,4174.3 862.8,4173.0 866.8,4174.2 870.7,4174.9 874.6,4175.5 878.5,4178.1 882.3,4178.0 886.1,4179.2 889.8,4181.3 893.4,4182.3 896.9,4184.9 900.4,4186.4 903.8,4189.1 907.2,4190.7 910.4,4194.4 913.7,4196.1 916.8,4198.8 920.0,4200.5 923.2,4202.6 926.3,4205.4 929.5,4208.4 932.8,4209.7 936.1,4212.3 939.5,4216.0 943.0,4216.8 946.5,4218.5 950.0,4221.6 953.6,4222.3 957.3,4224.5 960.9,4226.1 964.6,4227.7 968.3,4228.4 972.0,4231.3 975.7,4232.2 979.3,4234.8 983.0,4236.7 986.7,4237.1 990.4,4239.7 994.0,4241.5 997.7,4241.7 1001.3,4243.6 1005.0,4246.5 1008.6,4248.2 1012.2,4248.6 1015.8,4250.4 1019.4,4253.4 1023.0,4253.7 1026.6,4255.7 1030.2,4257.4 1033.8,4259.4 1037.4,4261.5 1041.1,4262.5 1044.7,4264.3 1048.4,4267.5 1052.1,4268.0 1055.8,4269.5 1059.5,4270.7 1063.3,4273.5 1067.0,4274.2 1070.8,4275.4 1074.5,4276.1 1078.3,4278.8 1082.0,4279.4 1085.8,4282.0 1089.5,4281.8 1093.3,4284.2 1097.0,4286.0 1100.8,4287.1 1104.5,4289.3 1108.3,4290.8 1112.0,4291.7 1115.7,4291.9 1119.5,4295.1 1123.2,4295.7 1126.9,4296.9 1130.7,4298.3 1134.4,4299.2 1138.1,4301.1 1141.8,4302.6 1145.6,4304.2 1149.3,4306.7 1153.0,4306.9 1156.7,4308.6 1160.5,4310.8 1164.2,4311.4 1167.9,4314.2 1171.7,4314.1 1175.4,4316.5 1179.1,4317.4 1182.8,4318.7 1186.6,4321.4 1190.3,4322.7 1194.0,4324.1 1197.7,4325.2 1201.5,4326.8 1205.2,4327.7 1208.9,4329.1 1212.6,4331.5 1216.4,4333.4 1220.1,4334.1 1223.8,4336.1 1227.5,4337.6 1231.3,4338.9 1235.0,4340.0 1238.7,4342.2 1242.5,4343.2 1246.2,4344.9 1249.9,4347.0 1253.7,4348.0 1257.5,4349.7 1261.3,4351.0 1265.1,4351.9 1268.9,4352.3 1272.8,4354.8 1276.6,4355.3 1280.5,4357.0 1284.3,4356.6 1288.2,4358.8 1292.1,4359.8 1296.0,4361.3 1299.9,4362.1 1303.7,4363.2 1307.6,4363.7 1311.5,4365.5 1315.4,4366.0 1319.3,4365.9 1323.2,4368.5 1327.1,4368.1 1331.0,4368.9 1334.9,4370.0 1338.8,4372.0 1342.7,4372.5 1346.6,4373.3 1350.6,4373.5 1354.5,4374.9 1358.4,4376.2 1362.4,4376.6 1366.3,4376.9 1370.3,4378.2 1374.3,4377.8 1378.2,4378.0 1382.2,4379.8 1386.2,4378.9 1390.2,4379.2 1394.2,4381.1 1398.2,4380.9 1402.2,4380.2 1406.2,4381.1 1410.2,4381.1 1414.2,4382.2 1418.2,4382.5 1422.2,4383.9 1426.1,4382.9 1430.1,4384.8 1434.0,4385.9 1437.9,4385.7 1441.8,4388.1 1445.7,4389.4 1449.5,4389.8 1453.4,4391.2 1457.2,4392.6 1461.1,4394.0 1464.9,4393.9 1468.8,4394.7 1472.7,4395.5 1476.6,4397.0 1480.5,4398.6 1484.4,4400.0 1488.3,4400.0 1492.3,4400.8 1496.2,4401.6 1500.2,4401.1 1504.2,4401.8 1508.1,4402.3 1512.1,4404.5 1516.1,4405.1 1520.0,4404.4 1524.0,4406.3 1528.0,4405.4 1532.0,4406.5 1535.9,4407.1 1539.9,4408.6 1543.9,4408.2 1547.9,4407.7 1551.9,4410.1 1555.9,4410.3 1559.9,4410.9 1563.9,4411.4 1567.9,4409.9 1571.9,4410.5 1575.8,4411.0 1579.8,4412.0 1583.8,4411.8 1587.8,4412.0 1591.8,4413.3 1595.8,4414.2 1599.9,4413.5 1603.9,4413.5 1607.9,4415.0 1611.9,4414.9 1615.9,4414.9 1619.9,4414.2 1623.9,4415.6 1627.9,4414.6 1631.9,4416.0 1635.9,4416.6 1639.9,4416.8 1643.9,4416.8 1647.9,4415.6 1652.0,4417.2 1656.0,4416.5 1660.0,4416.3 1664.0,4417.6 1668.0,4417.6" fill="none" stroke="#E8197D" stroke-width="6" stroke-linejoin="round" stroke-linecap="round" clip-path="url(#cc)" />
<polyline points="219.4,4423.2 223.4,4424.5 227.4,4424.5 231.5,4424.5 235.5,4424.3 239.5,4424.5 243.5,4422.8 247.5,4424.2 251.5,4423.5 255.6,4424.5 259.6,4424.0 263.6,4424.4 267.6,4424.5 271.6,4424.7 275.7,4425.3 279.7,4425.7 283.7,4424.6 287.7,4425.7 291.7,4426.0 295.7,4425.2 299.7,4424.8 303.8,4425.7 307.8,4426.4 311.8,4426.1 315.8,4425.6 319.8,4426.9 323.8,4426.3 327.8,4427.7 331.9,4426.5 335.9,4427.7 339.9,4427.6 343.9,4429.3 347.9,4428.0 351.8,4430.1 355.8,4429.8 359.8,4430.4 363.7,4430.8 367.7,4432.0 371.6,4433.6 375.6,4434.3 379.6,4434.7 383.6,4434.4 387.6,4433.9 391.6,4434.7 395.6,4435.0 399.7,4434.3 403.7,4435.7 407.7,4433.8 411.7,4433.9 415.7,4433.7 419.7,4433.4 423.8,4433.0 427.8,4433.1 431.8,4433.0 435.8,4433.8 439.8,4432.6 443.8,4432.3 447.8,4431.3 451.7,4430.4 455.7,4430.5 459.7,4430.2 463.6,4428.2 467.6,4428.5 471.5,4426.7 475.4,4426.8 479.3,4425.2 483.2,4423.8 487.1,4422.8 491.0,4423.1 494.9,4421.5 498.7,4419.6 502.6,4420.2 506.5,4417.8 510.4,4416.8 514.2,4415.1 518.1,4414.6 522.0,4414.0 525.8,4413.6 529.7,4411.2 533.5,4410.5 537.4,4408.5 541.2,4408.5 545.1,4406.5 548.9,4405.5 552.7,4404.0 556.5,4403.8 560.3,4402.7 564.0,4399.6 567.7,4398.6 571.3,4396.2 574.9,4395.6 578.3,4393.9 581.7,4390.1 584.9,4388.8 588.1,4385.6 591.1,4383.2 594.0,4380.7 596.8,4377.4 599.5,4375.0 602.2,4371.3 604.8,4368.6 607.3,4365.2 609.7,4362.1 612.2,4358.4 614.5,4355.6 616.9,4351.8 619.1,4349.5 621.4,4345.8 623.6,4342.4 625.8,4340.0 628.0,4335.2 630.2,4332.5 632.3,4329.3 634.4,4325.9 636.5,4322.7 638.6,4318.5 640.7,4316.2 642.8,4312.2 644.8,4307.6 646.8,4305.2 648.9,4301.5 650.9,4298.9 652.9,4295.0 655.0,4291.4 657.0,4288.0 659.0,4284.6 661.1,4280.6 663.2,4277.3 665.3,4273.9 667.4,4269.5 669.6,4267.1 671.8,4263.6 674.0,4260.2 676.3,4257.2 678.7,4254.1 681.1,4250.4 683.6,4247.6 686.3,4243.9 689.0,4242.4 691.8,4239.0 694.7,4236.3 697.8,4233.7 700.9,4229.8 704.2,4227.7 707.5,4225.9 710.9,4223.8 714.3,4221.7 717.9,4220.0 721.4,4218.4 725.1,4217.0 728.8,4215.3 732.5,4213.2 736.3,4212.8 740.1,4211.5 744.0,4210.7 747.9,4207.9 751.9,4208.2 755.8,4206.8 759.8,4207.7 763.8,4207.5 767.8,4206.7 771.9,4205.9 775.9,4207.0 779.9,4206.2 783.9,4206.6 787.9,4205.6 791.9,4205.4 796.0,4206.8 800.0,4206.8 804.0,4205.7 808.0,4205.0 812.0,4205.3 816.0,4206.3 820.1,4204.8 824.1,4205.8 828.1,4204.9 832.1,4206.2 836.1,4205.2 840.2,4206.6 844.2,4206.0 848.2,4205.3 852.2,4206.5 856.2,4207.0 860.1,4207.0 864.1,4207.5 868.1,4209.1 872.0,4210.2 876.0,4211.0 879.9,4211.2 883.7,4212.0 887.5,4213.8 891.3,4215.8 895.0,4216.4 898.6,4219.5 902.1,4221.7 905.5,4222.5 908.8,4224.3 912.1,4227.4 915.4,4229.0 918.6,4232.8 921.9,4234.6 925.1,4236.7 928.3,4239.9 931.6,4242.1 934.9,4244.3 938.3,4245.2 941.7,4247.9 945.1,4249.9 948.6,4253.0 952.1,4253.7 955.7,4255.2 959.3,4257.6 963.0,4259.0 966.6,4261.4 970.3,4262.4 974.1,4263.4 977.8,4266.0 981.5,4268.0 985.3,4269.0 989.1,4270.1 992.8,4270.5 996.6,4272.1 1000.4,4274.3 1004.2,4276.2 1008.0,4276.6 1011.8,4278.9 1015.6,4278.5 1019.4,4280.1 1023.2,4281.5 1027.0,4283.7 1030.7,4284.4 1034.5,4286.4 1038.2,4286.7 1042.0,4289.4 1045.7,4291.0 1049.4,4291.4 1053.2,4292.9 1056.9,4294.9 1060.6,4296.5 1064.4,4298.0 1068.1,4300.4 1071.8,4300.2 1075.6,4302.7 1079.3,4303.9 1083.1,4305.5 1086.9,4306.2 1090.6,4308.6 1094.4,4310.0 1098.2,4309.8 1102.0,4311.7 1105.8,4312.3 1109.7,4314.7 1113.5,4316.2 1117.3,4316.7 1121.2,4319.0 1125.0,4319.8 1128.9,4320.7 1132.8,4320.7 1136.6,4322.2 1140.5,4324.4 1144.3,4324.9 1148.2,4325.5 1152.0,4326.3 1155.8,4329.0 1159.6,4329.3 1163.4,4330.3 1167.2,4332.5 1171.0,4334.3 1174.7,4335.5 1178.5,4335.8 1182.2,4339.0 1186.0,4339.4 1189.7,4341.2 1193.5,4341.9 1197.3,4343.4 1201.1,4344.2 1205.0,4346.8 1208.8,4346.8 1212.6,4348.8 1216.5,4350.3 1220.3,4351.9 1224.2,4351.2 1228.0,4353.7 1231.9,4354.1 1235.7,4354.6 1239.6,4356.8 1243.4,4357.7 1247.3,4358.9 1251.2,4359.4 1255.1,4360.3 1259.0,4361.2 1262.9,4362.9 1266.8,4362.9 1270.7,4365.5 1274.7,4365.8 1278.6,4367.2 1282.5,4367.6 1286.4,4368.6 1290.4,4369.6 1294.3,4370.3 1298.2,4371.1 1302.1,4371.5 1306.0,4373.2 1309.9,4374.2 1313.8,4374.8 1317.7,4376.2 1321.7,4376.9 1325.6,4376.5 1329.5,4379.0 1333.4,4378.2 1337.4,4379.0 1341.3,4380.8 1345.3,4382.1 1349.2,4382.3 1353.2,4381.9 1357.1,4382.9 1361.1,4383.6 1365.1,4385.1 1369.0,4384.4 1373.0,4386.3 1377.0,4385.8 1381.0,4385.9 1385.0,4388.2 1389.0,4388.4 1393.0,4388.7 1397.0,4389.1 1401.0,4388.8 1405.0,4389.8 1409.0,4389.5 1413.0,4389.5 1417.0,4390.4 1421.0,4390.8 1425.0,4390.9 1429.0,4390.8 1433.0,4391.8 1436.9,4391.8 1440.9,4393.1 1444.8,4394.6 1448.7,4395.7 1452.6,4396.3 1456.4,4397.2 1460.3,4399.0 1464.2,4399.4 1468.1,4400.2 1472.1,4400.2 1476.0,4402.3 1480.0,4403.1 1484.0,4403.9 1487.9,4404.1 1491.9,4403.2 1495.9,4404.3 1499.9,4404.5 1503.9,4405.8 1507.9,4405.3 1511.9,4406.5 1515.9,4407.8 1519.9,4407.7 1523.9,4407.4 1527.9,4408.8 1531.9,4408.4 1535.9,4409.5 1539.9,4408.8 1543.9,4410.6 1547.9,4410.1 1551.9,4409.7 1555.9,4410.5 1559.9,4411.2 1563.9,4411.1 1567.9,4412.3 1571.9,4411.9 1575.9,4412.8 1579.9,4413.7 1583.9,4413.5 1587.9,4413.3 1591.9,4414.6 1595.9,4414.7 1599.9,4415.1 1603.9,4415.0 1607.9,4415.3 1611.9,4416.5 1615.9,4415.9 1619.9,4416.3 1623.9,4417.7 1627.9,4417.7 1631.9,4416.7 1636.0,4418.4 1640.0,4418.0 1644.0,4418.8 1648.0,4418.7 1652.0,4418.7 1656.0,4418.9 1660.0,4419.7 1664.0,4420.8 1668.0,4419.7" fill="none" stroke="#8014D4" stroke-width="6" stroke-linejoin="round" stroke-linecap="round" clip-path="url(#cc)" />
<polyline points="219.4,4395.2 223.4,4393.8 227.3,4393.8 231.3,4393.4 235.2,4392.7 239.2,4391.6 243.1,4391.1 247.1,4390.0 251.0,4389.5 255.0,4388.2 258.9,4388.1 262.8,4387.1 266.7,4385.8 270.6,4384.9 274.5,4384.3 278.4,4383.0 282.3,4382.5 286.1,4381.5 290.0,4380.2 293.8,4378.2 297.7,4377.0 301.5,4376.0 305.3,4374.8 309.1,4373.9 312.9,4372.7 316.6,4371.0 320.4,4369.6 324.1,4368.0 327.8,4365.8 331.5,4364.8 335.1,4362.8 338.7,4361.3 342.3,4358.9 345.8,4357.8 349.2,4356.0 352.6,4352.8 355.9,4351.1 359.0,4347.9 362.1,4345.7 365.0,4342.7 367.9,4340.7 370.6,4337.7 373.4,4334.9 376.1,4331.2 378.8,4328.8 381.5,4325.8 384.3,4322.7 387.2,4320.4 390.1,4317.4 393.2,4314.4 396.4,4312.4 399.6,4309.8 403.0,4307.2 406.3,4305.5 409.7,4302.7 413.1,4301.0 416.5,4299.1 420.0,4296.3 423.5,4295.1 427.0,4292.5 430.5,4291.2 434.0,4288.9 437.5,4286.6 440.9,4285.7 444.3,4282.4 447.6,4280.1 450.7,4278.1 453.7,4275.1 456.6,4272.6 459.4,4269.6 462.0,4266.8 464.7,4263.7 467.3,4260.4 470.0,4257.3 472.7,4254.9 475.5,4251.7 478.4,4249.1 481.4,4246.9 484.5,4243.2 487.7,4241.1 490.9,4239.1 494.4,4236.4 498.0,4235.5 501.8,4233.8 505.8,4233.3 509.8,4233.3 513.8,4234.5 517.8,4233.6 521.8,4234.3 525.8,4233.6 529.7,4233.1 533.6,4232.1 537.5,4230.7 541.4,4229.8 545.2,4229.0 548.9,4226.4 552.5,4225.5 555.9,4223.2 559.1,4220.3 562.4,4218.8 565.7,4215.8 569.3,4213.6 573.0,4212.4 576.8,4211.5 580.7,4210.0 584.7,4209.9 588.6,4209.0 592.6,4208.3 596.6,4208.4 600.6,4207.8 604.6,4207.8 608.6,4207.4 612.6,4207.1 616.6,4207.0 620.6,4206.8 624.6,4206.4 628.6,4206.0 632.6,4206.8 636.6,4207.4 640.6,4208.3 644.6,4208.6 648.5,4209.3 652.4,4209.7 656.3,4211.4 660.1,4211.7 664.1,4212.7 668.0,4213.2 672.0,4214.2 676.0,4214.2 680.0,4213.3 684.0,4211.9 687.9,4211.8 691.7,4210.0 695.6,4209.6 699.5,4208.4 703.3,4207.6 707.2,4205.5 711.0,4204.5 714.9,4203.6 718.8,4202.4 722.8,4202.8 726.8,4202.0 730.8,4201.2 734.8,4201.9 738.7,4202.2 742.5,4204.4 746.2,4205.4 749.6,4207.1 752.8,4210.4 756.0,4212.3 759.3,4215.0 762.7,4217.2 766.3,4218.3 770.0,4220.4 773.8,4222.0 777.8,4221.2 781.6,4220.0 785.1,4218.6 788.5,4215.7 792.1,4214.8 795.9,4213.5 799.9,4213.1 803.9,4213.0 807.7,4213.7 811.2,4215.5 814.2,4218.3 816.9,4221.4 819.4,4225.0 821.9,4227.1 824.7,4230.4 828.0,4232.7 831.6,4234.2 835.4,4235.1 839.4,4236.3 843.4,4235.9 847.4,4235.4 851.3,4234.0 855.1,4233.1 858.9,4231.3 862.6,4229.7 866.2,4227.9 869.7,4226.5 873.0,4224.5 876.2,4221.7 879.1,4219.2 881.7,4215.3 884.0,4212.6 886.1,4208.7 888.2,4205.7 890.2,4201.9 892.3,4198.5 894.7,4196.1 897.4,4192.7 900.6,4189.9 904.4,4189.3 908.1,4190.5 910.7,4194.1 912.7,4197.1 914.3,4201.3 915.9,4204.7 917.4,4208.5 918.9,4212.2 920.6,4215.8 922.2,4218.8 923.9,4223.4 925.6,4226.8 927.3,4229.9 929.1,4233.9 931.0,4238.0 932.9,4241.1 934.8,4244.5 936.8,4248.0 938.7,4251.0 940.7,4255.0 942.6,4258.4 944.7,4262.1 946.9,4265.1 949.4,4268.0 952.4,4271.5 956.0,4272.6 959.9,4272.9 963.8,4272.0 967.3,4270.8 970.7,4268.3 974.1,4265.5 977.7,4263.6 981.5,4263.1 985.5,4262.8 989.2,4264.6 992.4,4266.8 995.4,4270.4 998.1,4273.4 1000.8,4276.4 1003.4,4279.1 1006.3,4281.2 1009.4,4283.9 1013.0,4286.4 1016.9,4286.4 1020.9,4286.9 1024.8,4286.4 1028.6,4284.3 1032.2,4282.8 1035.9,4281.4 1039.6,4280.0 1043.5,4278.5 1047.5,4279.4 1051.4,4279.6 1055.0,4281.5 1058.4,4283.7 1061.8,4285.7 1065.2,4288.1 1068.6,4290.1 1072.1,4292.7 1075.5,4294.9 1079.0,4296.8 1082.6,4298.7 1086.2,4299.7 1089.9,4301.7 1093.6,4303.3 1097.4,4304.8 1101.2,4305.6 1105.0,4307.4 1108.8,4308.0 1112.7,4309.9 1116.5,4310.8 1120.3,4311.2 1124.2,4313.3 1128.1,4314.2 1132.0,4314.9 1135.9,4316.4 1139.8,4317.1 1143.7,4317.8 1147.7,4318.5 1151.6,4319.2 1155.6,4319.2 1159.5,4320.6 1163.4,4320.6 1167.4,4322.0 1171.3,4322.4 1175.3,4323.8 1179.2,4324.9 1183.1,4324.8 1187.1,4326.0 1191.0,4326.5 1194.9,4328.1 1198.9,4328.3 1202.8,4328.7 1206.7,4330.0 1210.7,4330.6 1214.6,4331.5 1218.6,4332.2 1222.5,4332.6 1226.4,4333.4 1230.4,4334.8 1234.3,4335.0 1238.2,4336.1 1242.2,4337.1 1246.1,4338.1 1250.0,4338.1 1254.0,4339.1 1257.9,4339.6 1261.9,4340.4 1265.8,4342.0 1269.8,4342.4 1273.8,4342.3 1277.7,4344.0 1281.7,4343.9 1285.6,4344.8 1289.6,4345.7 1293.6,4345.7 1297.5,4346.4 1301.5,4347.1 1305.4,4348.1 1309.4,4349.3 1313.3,4349.0 1317.3,4350.8 1321.2,4351.1 1325.2,4351.7 1329.1,4352.0 1333.1,4353.4 1337.0,4353.3 1341.0,4354.9 1345.0,4354.7 1349.0,4355.8 1353.0,4355.9 1357.0,4355.6 1361.0,4355.4 1365.0,4355.6 1369.0,4355.2 1373.0,4354.8 1377.0,4355.1 1381.0,4353.9 1385.0,4353.6 1389.0,4353.8 1393.0,4353.4 1397.0,4353.3 1401.0,4353.8 1405.0,4353.5 1409.0,4353.4 1413.0,4353.5 1416.8,4351.9 1420.5,4350.3 1424.0,4348.4 1427.5,4346.0 1430.9,4343.9 1434.5,4341.8 1438.1,4340.8 1441.9,4339.2 1445.8,4339.0 1449.8,4338.7 1453.7,4340.1 1457.5,4341.8 1461.0,4343.0 1464.5,4345.4 1467.8,4347.1 1471.1,4349.8 1474.4,4351.7 1477.8,4354.1 1481.2,4356.6 1484.8,4358.6 1488.3,4360.0 1491.8,4362.2 1495.4,4363.9 1499.0,4365.5 1502.6,4366.9 1506.2,4368.6 1509.9,4370.3 1513.6,4372.1 1517.4,4373.3 1521.2,4374.5 1525.0,4375.8 1528.9,4377.0 1532.7,4378.5 1536.6,4379.6 1540.5,4380.6 1544.4,4381.2 1548.3,4381.5 1552.2,4383.3 1556.2,4384.1 1560.1,4384.1 1564.1,4385.0 1568.0,4385.9 1572.0,4386.2 1576.0,4387.8 1579.9,4387.8 1583.9,4388.2 1587.9,4388.2 1591.9,4388.7 1595.9,4389.2 1599.9,4389.8 1603.9,4389.6 1607.9,4390.0 1611.9,4390.2 1615.9,4390.7 1619.9,4390.8 1623.9,4390.9 1628.0,4391.6 1632.0,4392.3 1636.0,4392.6 1640.0,4392.9 1644.0,4392.5 1648.0,4393.5 1652.0,4392.8 1656.0,4393.2 1660.0,4393.4 1664.0,4394.2 1668.0,4394.0" fill="none" stroke="#000000" stroke-width="6" stroke-linejoin="round" stroke-linecap="round" clip-path="url(#cc)" />
<line x1="218.5" y1="4443.0" x2="218.5" y2="4465.0" stroke="#000" stroke-width="7"/>
<line x1="508.2" y1="4443.0" x2="508.2" y2="4465.0" stroke="#000" stroke-width="7"/>
<line x1="797.9" y1="4443.0" x2="797.9" y2="4465.0" stroke="#000" stroke-width="7"/>
<line x1="1087.6" y1="4443.0" x2="1087.6" y2="4465.0" stroke="#000" stroke-width="7"/>
<line x1="1377.3" y1="4443.0" x2="1377.3" y2="4465.0" stroke="#000" stroke-width="7"/>
<line x1="1667.0" y1="4443.0" x2="1667.0" y2="4465.0" stroke="#000" stroke-width="7"/>
<line x1="363.4" y1="4443.0" x2="363.4" y2="4453.0" stroke="#000" stroke-width="7"/>
<line x1="653.0" y1="4443.0" x2="653.0" y2="4453.0" stroke="#000" stroke-width="7"/>
<line x1="942.8" y1="4443.0" x2="942.8" y2="4453.0" stroke="#000" stroke-width="7"/>
<line x1="1232.5" y1="4443.0" x2="1232.5" y2="4453.0" stroke="#000" stroke-width="7"/>
<line x1="1522.2" y1="4443.0" x2="1522.2" y2="4453.0" stroke="#000" stroke-width="7"/>
<text transform="translate(218.5,4546.0) scale(1,1.065)" font-size="80" text-anchor="middle" font-weight="bold" >350</text>
<text transform="translate(508.2,4546.0) scale(1,1.065)" font-size="80" text-anchor="middle" font-weight="bold" >400</text>
<text transform="translate(797.9,4546.0) scale(1,1.065)" font-size="80" text-anchor="middle" font-weight="bold" >450</text>
<text transform="translate(1087.6,4546.0) scale(1,1.065)" font-size="80" text-anchor="middle" font-weight="bold" >500</text>
<text transform="translate(1377.3,4546.0) scale(1,1.065)" font-size="80" text-anchor="middle" font-weight="bold" >550</text>
<text transform="translate(1667.0,4546.0) scale(1,1.065)" font-size="80" text-anchor="middle" font-weight="bold" >600</text>
<text transform="translate(656.5,4668.0) scale(1,1.065)" font-size="78.5" text-anchor="start" font-weight="bold" >Wavelength (nm)</text>
<text transform="translate(145.0,3947.0) rotate(-90) scale(1.06,1)" font-size="80" text-anchor="start" font-weight="bold">Intensity (a.u.)</text>
<text transform="translate(89.4,3227.0) scale(1,1.05)" font-size="89" text-anchor="start" font-weight="bold" >(c)</text>
<line x1="1090.5" y1="3256" x2="1233.0" y2="3256" stroke="#8C8C8C" stroke-width="7.5" stroke-linecap="round"/>
<text transform="translate(1250.5,3280.0) scale(1,1.065)" font-size="63.6" text-anchor="start" font-weight="bold" >Bulk–CN</text>
<line x1="1090.5" y1="3340.5" x2="1233.0" y2="3340.5" stroke="#F28C28" stroke-width="7.5" stroke-linecap="round"/>
<text transform="translate(1250.5,3364.5) scale(1,1.065)" font-size="63.6" text-anchor="start" font-weight="bold" >CNNS</text>
<line x1="1090.5" y1="3423.9" x2="1233.0" y2="3423.9" stroke="#0A7A28" stroke-width="7.5" stroke-linecap="round"/>
<text transform="translate(1250.5,3447.6) scale(1,1.065)" font-size="63.6" text-anchor="start" font-weight="bold" >20TiO<tspan dy="0.2500em" font-size="0.94em">2</tspan><tspan dy="-0.235em">/CNNS</tspan></text>
<line x1="1090.5" y1="3532.9" x2="1233.0" y2="3532.9" stroke="#E8197D" stroke-width="7.5" stroke-linecap="round"/>
<text transform="translate(1250.5,3556.8) scale(1,1.065)" font-size="63.6" text-anchor="start" font-weight="bold" >40TiO<tspan dy="0.2500em" font-size="0.94em">2</tspan><tspan dy="-0.235em">/CNNS</tspan></text>
<line x1="1090.5" y1="3639.2" x2="1233.0" y2="3639.2" stroke="#000000" stroke-width="7.5" stroke-linecap="round"/>
<text transform="translate(1250.5,3663.1) scale(1,1.065)" font-size="63.6" text-anchor="start" font-weight="bold" >TiO<tspan dy="0.2500em" font-size="0.94em">2</tspan></text>
<line x1="1090.5" y1="3747.7" x2="1233.0" y2="3747.7" stroke="#8014D4" stroke-width="7.5" stroke-linecap="round"/>
<text transform="translate(1250.5,3771.6) scale(1,1.065)" font-size="63.6" text-anchor="start" font-weight="bold" >50TiO<tspan dy="0.2500em" font-size="0.94em">2</tspan><tspan dy="-0.235em">/CNNS</tspan></text>
<line x1="1090.5" y1="3855.6" x2="1233.0" y2="3855.6" stroke="#29B2E6" stroke-width="7.5" stroke-linecap="round"/>
<text transform="translate(1250.5,3879.5) scale(1,1.065)" font-size="63.6" text-anchor="start" font-weight="bold" >30TiO<tspan dy="0.2500em" font-size="0.94em">2</tspan><tspan dy="-0.235em">/CNNS</tspan></text>
</svg>
</body></html>
